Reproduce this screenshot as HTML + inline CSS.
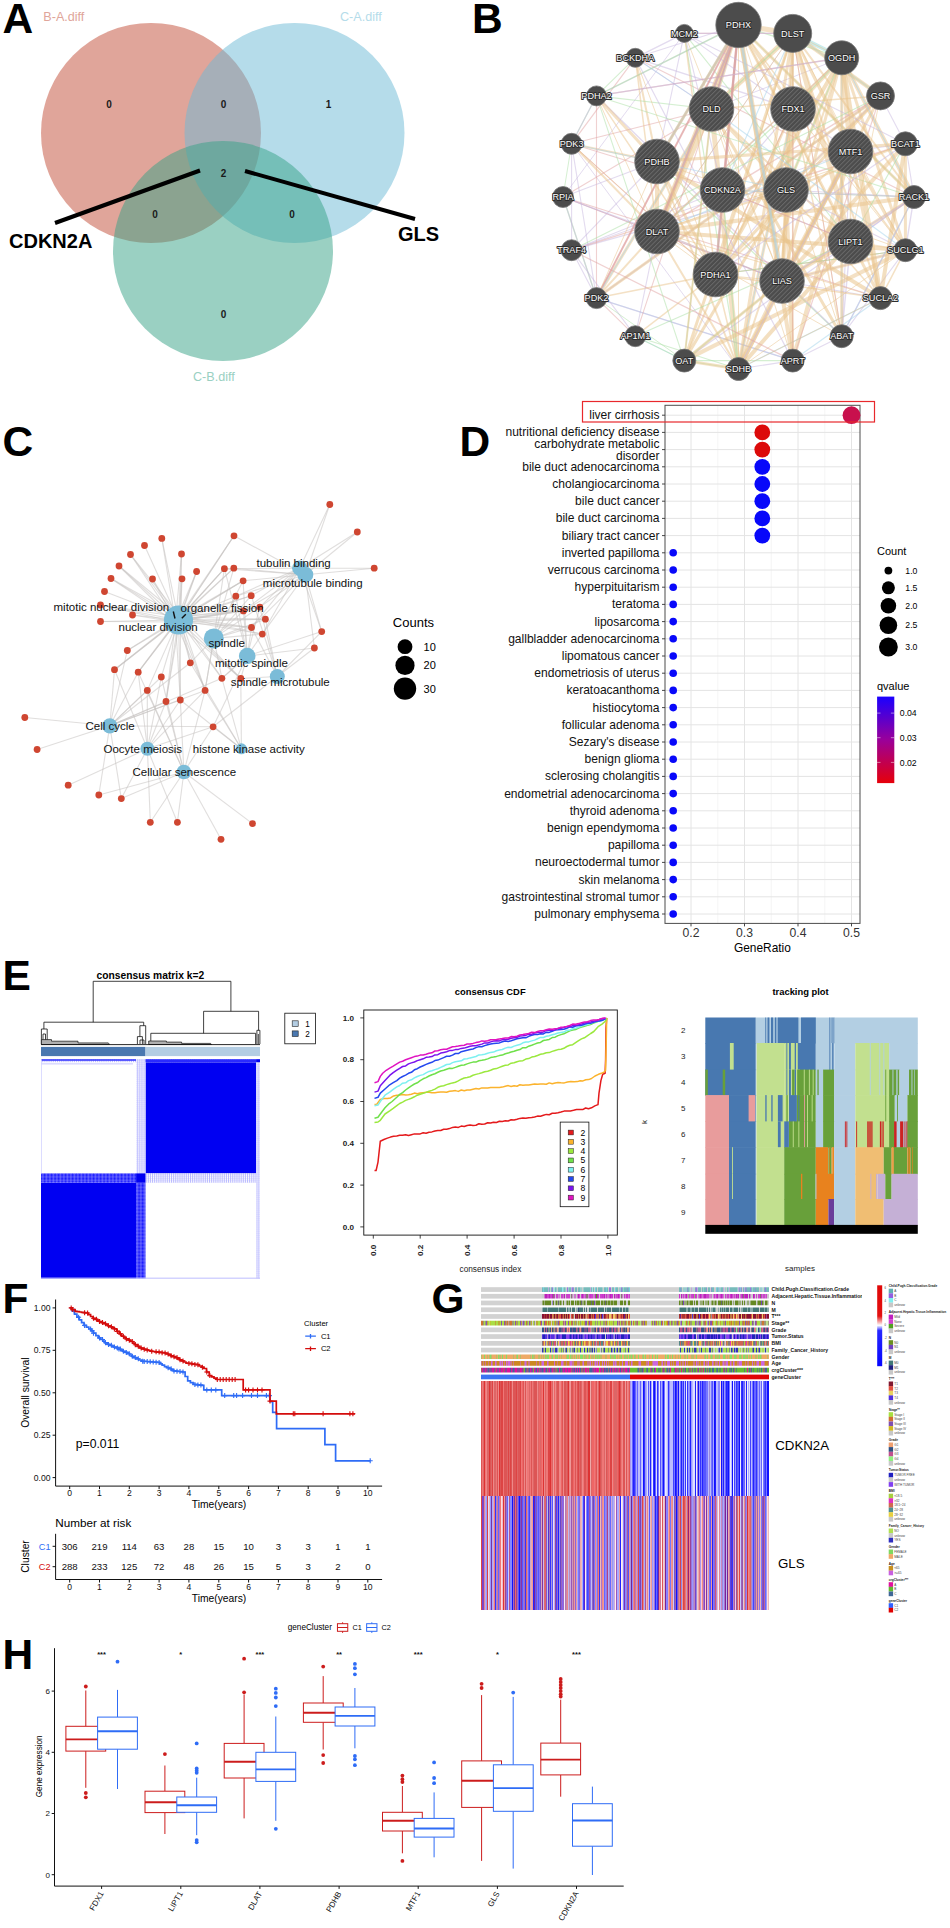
<!DOCTYPE html>
<html><head><meta charset="utf-8"><title>Figure</title>
<style>html,body{margin:0;padding:0;background:#fff}svg{display:block}text{font-family:"Liberation Sans",sans-serif}</style>
</head><body>
<svg width="950" height="1928" viewBox="0 0 950 1928" font-family="Liberation Sans, sans-serif">
<rect width="950" height="1928" fill="#fff"/>
<g id="panel_a"><circle cx="151" cy="133" r="110" fill="#c14b35" fill-opacity="0.5"/>
<circle cx="294.5" cy="133" r="110" fill="#6bb9d5" fill-opacity="0.5"/>
<circle cx="223" cy="251" r="110" fill="#35a185" fill-opacity="0.5"/>
<text x="43.3" y="20.9" font-size="12.6" fill="#e0a59a">B-A.diff</text>
<text x="340" y="20.9" font-size="12.6" fill="#b5dcea">C-A.diff</text>
<text x="193" y="380.5" font-size="12.6" fill="#9ad0c2">C-B.diff</text>
<text x="109" y="107.5" font-size="10" text-anchor="middle" font-weight="bold" fill="#1a1a1a">0</text>
<text x="223.5" y="107.5" font-size="10" text-anchor="middle" font-weight="bold" fill="#1a1a1a">0</text>
<text x="328.5" y="107.5" font-size="10" text-anchor="middle" font-weight="bold" fill="#1a1a1a">1</text>
<text x="223.5" y="176.5" font-size="10" text-anchor="middle" font-weight="bold" fill="#1a1a1a">2</text>
<text x="155" y="218" font-size="10" text-anchor="middle" font-weight="bold" fill="#1a1a1a">0</text>
<text x="292" y="218" font-size="10" text-anchor="middle" font-weight="bold" fill="#1a1a1a">0</text>
<text x="223.5" y="318" font-size="10" text-anchor="middle" font-weight="bold" fill="#1a1a1a">0</text>
<line x1="200" y1="170.5" x2="55" y2="223" stroke="#000" stroke-width="4"/>
<line x1="245" y1="171" x2="415" y2="219" stroke="#000" stroke-width="4"/>
<text x="9" y="247.5" font-size="20" font-weight="bold">CDKN2A</text>
<text x="398" y="241" font-size="20" font-weight="bold">GLS</text></g>
<g id="panel_b"><g stroke-linecap="round">
<line x1="635.3" y1="57.8" x2="914" y2="197" stroke="#e2a4a4" stroke-width="1.2" stroke-opacity="0.5"/>
<line x1="786" y1="190" x2="571.6" y2="250.2" stroke="#c8b8e0" stroke-width="1.2" stroke-opacity="0.5"/>
<line x1="914" y1="197" x2="841.7" y2="57.8" stroke="#e9c48c" stroke-width="4" stroke-opacity="0.5"/>
<line x1="635.3" y1="57.8" x2="571.6" y2="143.8" stroke="#e2a4a4" stroke-width="1.2" stroke-opacity="0.5"/>
<line x1="596.5" y1="298.1" x2="657" y2="231.5" stroke="#e9c48c" stroke-width="2" stroke-opacity="0.5"/>
<line x1="841.7" y1="57.8" x2="711.5" y2="109" stroke="#c8b8e0" stroke-width="1" stroke-opacity="0.5"/>
<line x1="684.3" y1="360.6" x2="793" y2="109" stroke="#e9c48c" stroke-width="2" stroke-opacity="0.5"/>
<line x1="792.7" y1="360.6" x2="850.5" y2="151.5" stroke="#e9c48c" stroke-width="4" stroke-opacity="0.5"/>
<line x1="657" y1="161.5" x2="841.7" y2="336.2" stroke="#a9dfa4" stroke-width="1.2" stroke-opacity="0.5"/>
<line x1="792.7" y1="360.6" x2="786" y2="190" stroke="#e9c48c" stroke-width="4" stroke-opacity="0.5"/>
<line x1="786" y1="190" x2="792.7" y2="33.4" stroke="#e9c48c" stroke-width="4" stroke-opacity="0.5"/>
<line x1="596.5" y1="95.9" x2="738.5" y2="25" stroke="#c8b8e0" stroke-width="1.1" stroke-opacity="0.5"/>
<line x1="850.5" y1="241.5" x2="905.4" y2="250.2" stroke="#e9c48c" stroke-width="1.5" stroke-opacity="0.5"/>
<line x1="711.5" y1="109" x2="782" y2="281" stroke="#e9c48c" stroke-width="1" stroke-opacity="0.5"/>
<line x1="905.4" y1="250.2" x2="841.7" y2="336.2" stroke="#c8b8e0" stroke-width="1.1" stroke-opacity="0.5"/>
<line x1="841.7" y1="336.2" x2="792.7" y2="33.4" stroke="#e9c48c" stroke-width="1" stroke-opacity="0.5"/>
<line x1="793" y1="109" x2="738.5" y2="369" stroke="#e9c48c" stroke-width="3" stroke-opacity="0.5"/>
<line x1="596.5" y1="298.1" x2="880.5" y2="95.9" stroke="#c8b8e0" stroke-width="1.4" stroke-opacity="0.5"/>
<line x1="880.5" y1="95.9" x2="782" y2="281" stroke="#e9c48c" stroke-width="3" stroke-opacity="0.5"/>
<line x1="563" y1="197" x2="596.5" y2="298.1" stroke="#a9dfa4" stroke-width="1.4" stroke-opacity="0.5"/>
<line x1="715.5" y1="274.5" x2="738.5" y2="25" stroke="#e9c48c" stroke-width="1" stroke-opacity="0.5"/>
<line x1="850.5" y1="151.5" x2="571.6" y2="250.2" stroke="#c8b8e0" stroke-width="1" stroke-opacity="0.5"/>
<line x1="635.3" y1="57.8" x2="793" y2="109" stroke="#c8b8e0" stroke-width="1.4" stroke-opacity="0.5"/>
<line x1="841.7" y1="57.8" x2="905.4" y2="250.2" stroke="#e9c48c" stroke-width="3" stroke-opacity="0.5"/>
<line x1="738.5" y1="25" x2="711.5" y2="109" stroke="#e9c48c" stroke-width="4" stroke-opacity="0.55"/>
<line x1="792.7" y1="360.6" x2="596.5" y2="298.1" stroke="#a3d3ec" stroke-width="1.1" stroke-opacity="0.5"/>
<line x1="722.5" y1="190" x2="850.5" y2="241.5" stroke="#c8b8e0" stroke-width="1.1" stroke-opacity="0.5"/>
<line x1="635.3" y1="57.8" x2="657" y2="161.5" stroke="#e9c48c" stroke-width="2" stroke-opacity="0.5"/>
<line x1="914" y1="197" x2="738.5" y2="25" stroke="#a9dfa4" stroke-width="1.2" stroke-opacity="0.5"/>
<line x1="880.5" y1="95.9" x2="786" y2="190" stroke="#e9c48c" stroke-width="3" stroke-opacity="0.5"/>
<line x1="596.5" y1="298.1" x2="792.7" y2="360.6" stroke="#c8b8e0" stroke-width="1.4" stroke-opacity="0.5"/>
<line x1="841.7" y1="57.8" x2="786" y2="190" stroke="#e9c48c" stroke-width="3" stroke-opacity="0.5"/>
<line x1="850.5" y1="241.5" x2="738.5" y2="25" stroke="#e9c48c" stroke-width="1" stroke-opacity="0.5"/>
<line x1="596.5" y1="95.9" x2="841.7" y2="336.2" stroke="#c8b8e0" stroke-width="1.4" stroke-opacity="0.5"/>
<line x1="792.7" y1="33.4" x2="880.5" y2="298.1" stroke="#e9c48c" stroke-width="2" stroke-opacity="0.5"/>
<line x1="684.3" y1="360.6" x2="792.7" y2="33.4" stroke="#e9c48c" stroke-width="3" stroke-opacity="0.55"/>
<line x1="596.5" y1="298.1" x2="880.5" y2="95.9" stroke="#e9c48c" stroke-width="3" stroke-opacity="0.55"/>
<line x1="715.5" y1="274.5" x2="905.4" y2="250.2" stroke="#c8b8e0" stroke-width="1" stroke-opacity="0.5"/>
<line x1="786" y1="190" x2="782" y2="281" stroke="#e9c48c" stroke-width="3" stroke-opacity="0.5"/>
<line x1="738.5" y1="369" x2="792.7" y2="360.6" stroke="#c8b8e0" stroke-width="1.1" stroke-opacity="0.5"/>
<line x1="782" y1="281" x2="657" y2="231.5" stroke="#e9c48c" stroke-width="1" stroke-opacity="0.5"/>
<line x1="782" y1="281" x2="563" y2="197" stroke="#c8b8e0" stroke-width="1.2" stroke-opacity="0.5"/>
<line x1="914" y1="197" x2="657" y2="231.5" stroke="#e9c48c" stroke-width="4" stroke-opacity="0.5"/>
<line x1="571.6" y1="143.8" x2="738.5" y2="369" stroke="#c8b8e0" stroke-width="1" stroke-opacity="0.5"/>
<line x1="841.7" y1="57.8" x2="850.5" y2="151.5" stroke="#e9c48c" stroke-width="5" stroke-opacity="0.5"/>
<line x1="738.5" y1="25" x2="715.5" y2="274.5" stroke="#a8d4ea" stroke-width="1.5" stroke-opacity="0.6"/>
<line x1="914" y1="197" x2="738.5" y2="25" stroke="#e9c48c" stroke-width="3" stroke-opacity="0.5"/>
<line x1="738.5" y1="25" x2="792.7" y2="33.4" stroke="#e9c48c" stroke-width="5" stroke-opacity="0.5"/>
<line x1="792.7" y1="33.4" x2="711.5" y2="109" stroke="#e9c48c" stroke-width="5" stroke-opacity="0.55"/>
<line x1="792.7" y1="360.6" x2="841.7" y2="336.2" stroke="#c8b8e0" stroke-width="1.1" stroke-opacity="0.5"/>
<line x1="782" y1="281" x2="841.7" y2="57.8" stroke="#e9c48c" stroke-width="3" stroke-opacity="0.5"/>
<line x1="657" y1="231.5" x2="792.7" y2="33.4" stroke="#c8b8e0" stroke-width="1" stroke-opacity="0.5"/>
<line x1="738.5" y1="369" x2="793" y2="109" stroke="#a3d3ec" stroke-width="1" stroke-opacity="0.5"/>
<line x1="738.5" y1="25" x2="905.4" y2="250.2" stroke="#e9c48c" stroke-width="1.5" stroke-opacity="0.5"/>
<line x1="841.7" y1="336.2" x2="850.5" y2="151.5" stroke="#c8b8e0" stroke-width="1.1" stroke-opacity="0.5"/>
<line x1="793" y1="109" x2="792.7" y2="33.4" stroke="#c8b8e0" stroke-width="1" stroke-opacity="0.5"/>
<line x1="738.5" y1="25" x2="657" y2="161.5" stroke="#dd9c9c" stroke-width="1.5" stroke-opacity="0.6"/>
<line x1="905.4" y1="143.8" x2="880.5" y2="95.9" stroke="#c8b8e0" stroke-width="1.1" stroke-opacity="0.5"/>
<line x1="657" y1="231.5" x2="905.4" y2="250.2" stroke="#e9c48c" stroke-width="4" stroke-opacity="0.55"/>
<line x1="563" y1="197" x2="684.3" y2="33.4" stroke="#c8b8e0" stroke-width="1" stroke-opacity="0.5"/>
<line x1="684.3" y1="360.6" x2="792.7" y2="360.6" stroke="#a9dfa4" stroke-width="1.1" stroke-opacity="0.5"/>
<line x1="571.6" y1="143.8" x2="715.5" y2="274.5" stroke="#e2a4a4" stroke-width="1.1" stroke-opacity="0.5"/>
<line x1="792.7" y1="33.4" x2="657" y2="231.5" stroke="#e9c48c" stroke-width="1" stroke-opacity="0.5"/>
<line x1="841.7" y1="57.8" x2="715.5" y2="274.5" stroke="#e9c48c" stroke-width="4" stroke-opacity="0.55"/>
<line x1="738.5" y1="25" x2="711.5" y2="109" stroke="#a8d4ea" stroke-width="2" stroke-opacity="0.6"/>
<line x1="850.5" y1="241.5" x2="711.5" y2="109" stroke="#e9c48c" stroke-width="2" stroke-opacity="0.5"/>
<line x1="793" y1="109" x2="715.5" y2="274.5" stroke="#e2a4a4" stroke-width="1.4" stroke-opacity="0.5"/>
<line x1="738.5" y1="369" x2="711.5" y2="109" stroke="#e9c48c" stroke-width="5" stroke-opacity="0.5"/>
<line x1="786" y1="190" x2="841.7" y2="57.8" stroke="#a9dfa4" stroke-width="1.2" stroke-opacity="0.5"/>
<line x1="782" y1="281" x2="850.5" y2="151.5" stroke="#e9c48c" stroke-width="5" stroke-opacity="0.5"/>
<line x1="792.7" y1="33.4" x2="841.7" y2="57.8" stroke="#a8e0e0" stroke-width="4" stroke-opacity="0.6"/>
<line x1="635.3" y1="336.2" x2="684.3" y2="360.6" stroke="#a3d3ec" stroke-width="1" stroke-opacity="0.5"/>
<line x1="715.5" y1="274.5" x2="782" y2="281" stroke="#e9c48c" stroke-width="1" stroke-opacity="0.5"/>
<line x1="914" y1="197" x2="905.4" y2="250.2" stroke="#c8b8e0" stroke-width="1.4" stroke-opacity="0.5"/>
<line x1="880.5" y1="95.9" x2="715.5" y2="274.5" stroke="#e9c48c" stroke-width="3" stroke-opacity="0.55"/>
<line x1="850.5" y1="241.5" x2="738.5" y2="369" stroke="#e9c48c" stroke-width="4" stroke-opacity="0.55"/>
<line x1="914" y1="197" x2="905.4" y2="143.8" stroke="#c8b8e0" stroke-width="1.1" stroke-opacity="0.5"/>
<line x1="657" y1="231.5" x2="880.5" y2="95.9" stroke="#e2a4a4" stroke-width="1.4" stroke-opacity="0.5"/>
<line x1="850.5" y1="241.5" x2="841.7" y2="336.2" stroke="#c8b8e0" stroke-width="1.4" stroke-opacity="0.5"/>
<line x1="793" y1="109" x2="782" y2="281" stroke="#e9c48c" stroke-width="4" stroke-opacity="0.55"/>
<line x1="635.3" y1="57.8" x2="711.5" y2="109" stroke="#a3d3ec" stroke-width="1.1" stroke-opacity="0.5"/>
<line x1="596.5" y1="298.1" x2="711.5" y2="109" stroke="#e9c48c" stroke-width="3" stroke-opacity="0.5"/>
<line x1="596.5" y1="298.1" x2="635.3" y2="336.2" stroke="#e2a4a4" stroke-width="1.1" stroke-opacity="0.5"/>
<line x1="880.5" y1="95.9" x2="850.5" y2="241.5" stroke="#e9c48c" stroke-width="1" stroke-opacity="0.5"/>
<line x1="738.5" y1="369" x2="684.3" y2="33.4" stroke="#a9dfa4" stroke-width="1.2" stroke-opacity="0.5"/>
<line x1="571.6" y1="250.2" x2="905.4" y2="143.8" stroke="#e2a4a4" stroke-width="1.4" stroke-opacity="0.5"/>
<line x1="715.5" y1="274.5" x2="793" y2="109" stroke="#e9c48c" stroke-width="1" stroke-opacity="0.5"/>
<line x1="905.4" y1="250.2" x2="793" y2="109" stroke="#e9c48c" stroke-width="1" stroke-opacity="0.5"/>
<line x1="571.6" y1="250.2" x2="722.5" y2="190" stroke="#c8b8e0" stroke-width="1.1" stroke-opacity="0.5"/>
<line x1="880.5" y1="95.9" x2="786" y2="190" stroke="#c8b8e0" stroke-width="1" stroke-opacity="0.5"/>
<line x1="914" y1="197" x2="684.3" y2="360.6" stroke="#c8b8e0" stroke-width="1.2" stroke-opacity="0.5"/>
<line x1="905.4" y1="143.8" x2="782" y2="281" stroke="#e9c48c" stroke-width="4" stroke-opacity="0.5"/>
<line x1="711.5" y1="109" x2="635.3" y2="57.8" stroke="#c8b8e0" stroke-width="1" stroke-opacity="0.5"/>
<line x1="738.5" y1="25" x2="841.7" y2="57.8" stroke="#a9dfa4" stroke-width="1.4" stroke-opacity="0.5"/>
<line x1="841.7" y1="336.2" x2="792.7" y2="33.4" stroke="#e2a4a4" stroke-width="1" stroke-opacity="0.5"/>
<line x1="782" y1="281" x2="905.4" y2="250.2" stroke="#c8b8e0" stroke-width="1.1" stroke-opacity="0.5"/>
<line x1="657" y1="231.5" x2="793" y2="109" stroke="#a9dfa4" stroke-width="1.2" stroke-opacity="0.5"/>
<line x1="684.3" y1="33.4" x2="635.3" y2="57.8" stroke="#c8b8e0" stroke-width="1.4" stroke-opacity="0.5"/>
<line x1="596.5" y1="95.9" x2="657" y2="161.5" stroke="#e9c48c" stroke-width="3" stroke-opacity="0.5"/>
<line x1="684.3" y1="33.4" x2="792.7" y2="33.4" stroke="#e2a4a4" stroke-width="1.1" stroke-opacity="0.5"/>
<line x1="905.4" y1="250.2" x2="715.5" y2="274.5" stroke="#e9c48c" stroke-width="1" stroke-opacity="0.5"/>
<line x1="596.5" y1="95.9" x2="711.5" y2="109" stroke="#a9dfa4" stroke-width="1.1" stroke-opacity="0.5"/>
<line x1="571.6" y1="143.8" x2="722.5" y2="190" stroke="#e2a4a4" stroke-width="1.1" stroke-opacity="0.5"/>
<line x1="738.5" y1="369" x2="782" y2="281" stroke="#e9c48c" stroke-width="5" stroke-opacity="0.5"/>
<line x1="657" y1="231.5" x2="715.5" y2="274.5" stroke="#e9c48c" stroke-width="1" stroke-opacity="0.5"/>
<line x1="738.5" y1="369" x2="715.5" y2="274.5" stroke="#e9c48c" stroke-width="1.5" stroke-opacity="0.5"/>
<line x1="722.5" y1="190" x2="738.5" y2="369" stroke="#a9dfa4" stroke-width="1.4" stroke-opacity="0.5"/>
<line x1="657" y1="231.5" x2="657" y2="161.5" stroke="#e9c48c" stroke-width="4" stroke-opacity="0.5"/>
<line x1="657" y1="231.5" x2="738.5" y2="369" stroke="#e9c48c" stroke-width="2" stroke-opacity="0.5"/>
<line x1="571.6" y1="143.8" x2="563" y2="197" stroke="#a9dfa4" stroke-width="1" stroke-opacity="0.5"/>
<line x1="635.3" y1="336.2" x2="738.5" y2="369" stroke="#a9dfa4" stroke-width="1.2" stroke-opacity="0.5"/>
<line x1="711.5" y1="109" x2="841.7" y2="336.2" stroke="#e9c48c" stroke-width="3" stroke-opacity="0.55"/>
<line x1="571.6" y1="143.8" x2="711.5" y2="109" stroke="#e2a4a4" stroke-width="1.1" stroke-opacity="0.5"/>
<line x1="880.5" y1="298.1" x2="738.5" y2="25" stroke="#e9c48c" stroke-width="3" stroke-opacity="0.5"/>
<line x1="684.3" y1="33.4" x2="850.5" y2="241.5" stroke="#a9dfa4" stroke-width="1.1" stroke-opacity="0.5"/>
<line x1="880.5" y1="95.9" x2="711.5" y2="109" stroke="#e9c48c" stroke-width="1.5" stroke-opacity="0.5"/>
<line x1="563" y1="197" x2="711.5" y2="109" stroke="#e2a4a4" stroke-width="1.1" stroke-opacity="0.5"/>
<line x1="684.3" y1="360.6" x2="782" y2="281" stroke="#a9dfa4" stroke-width="1.4" stroke-opacity="0.5"/>
<line x1="722.5" y1="190" x2="793" y2="109" stroke="#c8b8e0" stroke-width="1.2" stroke-opacity="0.5"/>
<line x1="792.7" y1="33.4" x2="711.5" y2="109" stroke="#a9dfa4" stroke-width="1.4" stroke-opacity="0.5"/>
<line x1="880.5" y1="298.1" x2="738.5" y2="369" stroke="#a3d3ec" stroke-width="1.2" stroke-opacity="0.5"/>
<line x1="738.5" y1="25" x2="738.5" y2="369" stroke="#e9c48c" stroke-width="1" stroke-opacity="0.5"/>
<line x1="684.3" y1="33.4" x2="782" y2="281" stroke="#e9c48c" stroke-width="1" stroke-opacity="0.5"/>
<line x1="880.5" y1="298.1" x2="657" y2="231.5" stroke="#e9c48c" stroke-width="1" stroke-opacity="0.5"/>
<line x1="571.6" y1="250.2" x2="657" y2="161.5" stroke="#c8b8e0" stroke-width="1.1" stroke-opacity="0.5"/>
<line x1="571.6" y1="143.8" x2="715.5" y2="274.5" stroke="#e9c48c" stroke-width="1" stroke-opacity="0.5"/>
<line x1="786" y1="190" x2="905.4" y2="250.2" stroke="#c8b8e0" stroke-width="1.1" stroke-opacity="0.5"/>
<line x1="841.7" y1="57.8" x2="596.5" y2="95.9" stroke="#e2a4a4" stroke-width="1.4" stroke-opacity="0.5"/>
<line x1="635.3" y1="57.8" x2="738.5" y2="25" stroke="#c8b8e0" stroke-width="1.1" stroke-opacity="0.5"/>
<line x1="880.5" y1="298.1" x2="563" y2="197" stroke="#e2a4a4" stroke-width="1.1" stroke-opacity="0.5"/>
<line x1="738.5" y1="25" x2="715.5" y2="274.5" stroke="#dd9c9c" stroke-width="2.5" stroke-opacity="0.6"/>
<line x1="738.5" y1="25" x2="596.5" y2="298.1" stroke="#dd9c9c" stroke-width="2" stroke-opacity="0.6"/>
<line x1="905.4" y1="250.2" x2="792.7" y2="33.4" stroke="#e9c48c" stroke-width="1" stroke-opacity="0.5"/>
<line x1="841.7" y1="57.8" x2="914" y2="197" stroke="#a3d3ec" stroke-width="1.1" stroke-opacity="0.5"/>
<line x1="792.7" y1="33.4" x2="841.7" y2="57.8" stroke="#e9c48c" stroke-width="1" stroke-opacity="0.5"/>
<line x1="914" y1="197" x2="786" y2="190" stroke="#c8b8e0" stroke-width="1.1" stroke-opacity="0.5"/>
<line x1="914" y1="197" x2="841.7" y2="336.2" stroke="#a3d3ec" stroke-width="1.4" stroke-opacity="0.5"/>
<line x1="657" y1="231.5" x2="786" y2="190" stroke="#e9c48c" stroke-width="2" stroke-opacity="0.5"/>
<line x1="738.5" y1="25" x2="722.5" y2="190" stroke="#dd9c9c" stroke-width="2" stroke-opacity="0.6"/>
<line x1="684.3" y1="33.4" x2="657" y2="161.5" stroke="#c8b8e0" stroke-width="1.1" stroke-opacity="0.5"/>
<line x1="914" y1="197" x2="782" y2="281" stroke="#e9c48c" stroke-width="3" stroke-opacity="0.5"/>
<line x1="563" y1="197" x2="782" y2="281" stroke="#e2a4a4" stroke-width="1" stroke-opacity="0.5"/>
<line x1="571.6" y1="250.2" x2="596.5" y2="298.1" stroke="#c8b8e0" stroke-width="1.1" stroke-opacity="0.5"/>
<line x1="793" y1="109" x2="841.7" y2="57.8" stroke="#e9c48c" stroke-width="4" stroke-opacity="0.5"/>
<line x1="880.5" y1="298.1" x2="792.7" y2="360.6" stroke="#a3d3ec" stroke-width="1.2" stroke-opacity="0.5"/>
<line x1="684.3" y1="33.4" x2="715.5" y2="274.5" stroke="#e9c48c" stroke-width="1.5" stroke-opacity="0.5"/>
<line x1="792.7" y1="33.4" x2="715.5" y2="274.5" stroke="#e9c48c" stroke-width="1.5" stroke-opacity="0.5"/>
<line x1="715.5" y1="274.5" x2="850.5" y2="151.5" stroke="#e9c48c" stroke-width="2" stroke-opacity="0.5"/>
<line x1="905.4" y1="143.8" x2="850.5" y2="151.5" stroke="#c8b8e0" stroke-width="1.1" stroke-opacity="0.5"/>
<line x1="722.5" y1="190" x2="914" y2="197" stroke="#a9dfa4" stroke-width="1" stroke-opacity="0.5"/>
<line x1="738.5" y1="25" x2="657" y2="231.5" stroke="#e9c48c" stroke-width="5" stroke-opacity="0.55"/>
<line x1="880.5" y1="298.1" x2="782" y2="281" stroke="#c8b8e0" stroke-width="1" stroke-opacity="0.5"/>
<line x1="563" y1="197" x2="596.5" y2="298.1" stroke="#c8b8e0" stroke-width="1.1" stroke-opacity="0.5"/>
<line x1="786" y1="190" x2="880.5" y2="298.1" stroke="#e9c48c" stroke-width="1.5" stroke-opacity="0.5"/>
<line x1="684.3" y1="33.4" x2="850.5" y2="151.5" stroke="#c8b8e0" stroke-width="1.1" stroke-opacity="0.5"/>
<line x1="792.7" y1="360.6" x2="792.7" y2="33.4" stroke="#e9c48c" stroke-width="1.5" stroke-opacity="0.5"/>
<line x1="792.7" y1="360.6" x2="880.5" y2="95.9" stroke="#e2a4a4" stroke-width="1.2" stroke-opacity="0.5"/>
<line x1="905.4" y1="250.2" x2="738.5" y2="369" stroke="#e9c48c" stroke-width="1" stroke-opacity="0.5"/>
<line x1="684.3" y1="360.6" x2="905.4" y2="250.2" stroke="#e9c48c" stroke-width="4" stroke-opacity="0.5"/>
<line x1="571.6" y1="143.8" x2="596.5" y2="298.1" stroke="#c8b8e0" stroke-width="1.1" stroke-opacity="0.5"/>
<line x1="657" y1="161.5" x2="880.5" y2="298.1" stroke="#e9c48c" stroke-width="4" stroke-opacity="0.55"/>
<line x1="841.7" y1="336.2" x2="738.5" y2="25" stroke="#e9c48c" stroke-width="1" stroke-opacity="0.5"/>
<line x1="914" y1="197" x2="850.5" y2="241.5" stroke="#c8b8e0" stroke-width="1.1" stroke-opacity="0.5"/>
<line x1="571.6" y1="143.8" x2="657" y2="161.5" stroke="#e9c48c" stroke-width="2" stroke-opacity="0.5"/>
<line x1="792.7" y1="360.6" x2="711.5" y2="109" stroke="#e9c48c" stroke-width="1" stroke-opacity="0.5"/>
<line x1="635.3" y1="336.2" x2="850.5" y2="241.5" stroke="#a9dfa4" stroke-width="1.2" stroke-opacity="0.5"/>
<line x1="596.5" y1="95.9" x2="596.5" y2="298.1" stroke="#e2a4a4" stroke-width="1.1" stroke-opacity="0.5"/>
<line x1="782" y1="281" x2="738.5" y2="25" stroke="#e9c48c" stroke-width="5" stroke-opacity="0.5"/>
<line x1="635.3" y1="336.2" x2="715.5" y2="274.5" stroke="#e9c48c" stroke-width="1.5" stroke-opacity="0.5"/>
<line x1="738.5" y1="369" x2="850.5" y2="151.5" stroke="#e9c48c" stroke-width="4" stroke-opacity="0.5"/>
<line x1="792.7" y1="33.4" x2="782" y2="281" stroke="#e9c48c" stroke-width="1" stroke-opacity="0.5"/>
<line x1="792.7" y1="33.4" x2="880.5" y2="95.9" stroke="#a8e0e0" stroke-width="2" stroke-opacity="0.6"/>
<line x1="635.3" y1="57.8" x2="792.7" y2="360.6" stroke="#c8b8e0" stroke-width="1.2" stroke-opacity="0.5"/>
<line x1="841.7" y1="57.8" x2="657" y2="231.5" stroke="#c8b8e0" stroke-width="1.1" stroke-opacity="0.5"/>
<line x1="841.7" y1="336.2" x2="841.7" y2="57.8" stroke="#a3d3ec" stroke-width="1.1" stroke-opacity="0.5"/>
<line x1="722.5" y1="190" x2="850.5" y2="241.5" stroke="#e2a4a4" stroke-width="1.2" stroke-opacity="0.5"/>
<line x1="841.7" y1="336.2" x2="657" y2="231.5" stroke="#e9c48c" stroke-width="1" stroke-opacity="0.5"/>
<line x1="738.5" y1="369" x2="841.7" y2="57.8" stroke="#e9c48c" stroke-width="2" stroke-opacity="0.5"/>
<line x1="792.7" y1="33.4" x2="850.5" y2="241.5" stroke="#e9c48c" stroke-width="5" stroke-opacity="0.5"/>
<line x1="786" y1="190" x2="711.5" y2="109" stroke="#e9c48c" stroke-width="3" stroke-opacity="0.5"/>
<line x1="738.5" y1="369" x2="657" y2="161.5" stroke="#e9c48c" stroke-width="2" stroke-opacity="0.5"/>
<line x1="914" y1="197" x2="792.7" y2="33.4" stroke="#e9c48c" stroke-width="2" stroke-opacity="0.5"/>
<line x1="841.7" y1="57.8" x2="793" y2="109" stroke="#a9dfa4" stroke-width="1.1" stroke-opacity="0.5"/>
<line x1="841.7" y1="336.2" x2="841.7" y2="57.8" stroke="#e9c48c" stroke-width="3" stroke-opacity="0.5"/>
<line x1="782" y1="281" x2="657" y2="231.5" stroke="#c8b8e0" stroke-width="1.2" stroke-opacity="0.5"/>
<line x1="684.3" y1="33.4" x2="905.4" y2="143.8" stroke="#c8b8e0" stroke-width="1.1" stroke-opacity="0.5"/>
<line x1="684.3" y1="33.4" x2="792.7" y2="33.4" stroke="#c8b8e0" stroke-width="1.1" stroke-opacity="0.5"/>
<line x1="905.4" y1="143.8" x2="880.5" y2="298.1" stroke="#e9c48c" stroke-width="4" stroke-opacity="0.55"/>
<line x1="571.6" y1="250.2" x2="880.5" y2="95.9" stroke="#a9dfa4" stroke-width="1.1" stroke-opacity="0.5"/>
<line x1="596.5" y1="298.1" x2="711.5" y2="109" stroke="#a3d3ec" stroke-width="1.1" stroke-opacity="0.5"/>
<line x1="782" y1="281" x2="905.4" y2="250.2" stroke="#e9c48c" stroke-width="3" stroke-opacity="0.5"/>
<line x1="792.7" y1="33.4" x2="738.5" y2="369" stroke="#e9c48c" stroke-width="3" stroke-opacity="0.5"/>
<line x1="914" y1="197" x2="596.5" y2="95.9" stroke="#a9dfa4" stroke-width="1.1" stroke-opacity="0.5"/>
<line x1="596.5" y1="298.1" x2="715.5" y2="274.5" stroke="#e9c48c" stroke-width="1.5" stroke-opacity="0.5"/>
<line x1="596.5" y1="95.9" x2="738.5" y2="25" stroke="#a9dfa4" stroke-width="1.4" stroke-opacity="0.5"/>
<line x1="596.5" y1="95.9" x2="571.6" y2="143.8" stroke="#a9dfa4" stroke-width="1.1" stroke-opacity="0.5"/>
<line x1="596.5" y1="298.1" x2="657" y2="161.5" stroke="#e9c48c" stroke-width="1" stroke-opacity="0.5"/>
<line x1="850.5" y1="241.5" x2="905.4" y2="143.8" stroke="#a9dfa4" stroke-width="1.2" stroke-opacity="0.5"/>
<line x1="711.5" y1="109" x2="684.3" y2="360.6" stroke="#a9dfa4" stroke-width="1.2" stroke-opacity="0.5"/>
<line x1="905.4" y1="250.2" x2="715.5" y2="274.5" stroke="#a9dfa4" stroke-width="1" stroke-opacity="0.5"/>
<line x1="563" y1="197" x2="657" y2="231.5" stroke="#c8b8e0" stroke-width="1.1" stroke-opacity="0.5"/>
<line x1="596.5" y1="95.9" x2="635.3" y2="57.8" stroke="#a9dfa4" stroke-width="1.1" stroke-opacity="0.5"/>
<line x1="792.7" y1="33.4" x2="850.5" y2="151.5" stroke="#e9c48c" stroke-width="3" stroke-opacity="0.5"/>
<line x1="738.5" y1="25" x2="657" y2="161.5" stroke="#a8d4ea" stroke-width="2.5" stroke-opacity="0.6"/>
<line x1="635.3" y1="57.8" x2="657" y2="231.5" stroke="#e9c48c" stroke-width="1.5" stroke-opacity="0.5"/>
<line x1="657" y1="231.5" x2="841.7" y2="57.8" stroke="#e9c48c" stroke-width="1.5" stroke-opacity="0.5"/>
<line x1="684.3" y1="360.6" x2="738.5" y2="369" stroke="#a9dfa4" stroke-width="1.1" stroke-opacity="0.5"/>
<line x1="905.4" y1="250.2" x2="880.5" y2="298.1" stroke="#e9c48c" stroke-width="1.5" stroke-opacity="0.5"/>
<line x1="684.3" y1="360.6" x2="738.5" y2="369" stroke="#e9c48c" stroke-width="3" stroke-opacity="0.5"/>
<line x1="635.3" y1="336.2" x2="738.5" y2="25" stroke="#e2a4a4" stroke-width="1.1" stroke-opacity="0.5"/>
<line x1="684.3" y1="360.6" x2="786" y2="190" stroke="#e9c48c" stroke-width="3" stroke-opacity="0.55"/>
<line x1="850.5" y1="151.5" x2="738.5" y2="369" stroke="#c8b8e0" stroke-width="1.1" stroke-opacity="0.5"/>
<line x1="905.4" y1="250.2" x2="711.5" y2="109" stroke="#a3d3ec" stroke-width="1.1" stroke-opacity="0.5"/>
<line x1="880.5" y1="95.9" x2="792.7" y2="33.4" stroke="#e9c48c" stroke-width="4" stroke-opacity="0.5"/>
<line x1="571.6" y1="143.8" x2="571.6" y2="250.2" stroke="#c8b8e0" stroke-width="1.1" stroke-opacity="0.5"/>
<line x1="657" y1="231.5" x2="635.3" y2="336.2" stroke="#c8b8e0" stroke-width="1.1" stroke-opacity="0.5"/>
<line x1="905.4" y1="250.2" x2="850.5" y2="151.5" stroke="#e9c48c" stroke-width="3" stroke-opacity="0.5"/>
<line x1="905.4" y1="143.8" x2="657" y2="231.5" stroke="#e9c48c" stroke-width="1" stroke-opacity="0.5"/>
<line x1="738.5" y1="25" x2="657" y2="231.5" stroke="#a8d4ea" stroke-width="1.5" stroke-opacity="0.6"/>
<line x1="563" y1="197" x2="657" y2="161.5" stroke="#c8b8e0" stroke-width="1.1" stroke-opacity="0.5"/>
<line x1="738.5" y1="25" x2="711.5" y2="109" stroke="#dd9c9c" stroke-width="1.5" stroke-opacity="0.6"/>
<line x1="596.5" y1="95.9" x2="715.5" y2="274.5" stroke="#e9c48c" stroke-width="1.5" stroke-opacity="0.5"/>
<line x1="905.4" y1="143.8" x2="786" y2="190" stroke="#e9c48c" stroke-width="2" stroke-opacity="0.5"/>
<line x1="571.6" y1="143.8" x2="657" y2="231.5" stroke="#e9c48c" stroke-width="2" stroke-opacity="0.5"/>
<line x1="635.3" y1="57.8" x2="715.5" y2="274.5" stroke="#e9c48c" stroke-width="1" stroke-opacity="0.5"/>
<line x1="914" y1="197" x2="841.7" y2="336.2" stroke="#c8b8e0" stroke-width="1.2" stroke-opacity="0.5"/>
<line x1="571.6" y1="143.8" x2="596.5" y2="95.9" stroke="#c8b8e0" stroke-width="1.2" stroke-opacity="0.5"/>
<line x1="841.7" y1="57.8" x2="880.5" y2="298.1" stroke="#e9c48c" stroke-width="5" stroke-opacity="0.55"/>
<line x1="792.7" y1="360.6" x2="571.6" y2="250.2" stroke="#e2a4a4" stroke-width="1.2" stroke-opacity="0.5"/>
<line x1="571.6" y1="250.2" x2="635.3" y2="336.2" stroke="#c8b8e0" stroke-width="1.1" stroke-opacity="0.5"/>
<line x1="792.7" y1="33.4" x2="793" y2="109" stroke="#e9c48c" stroke-width="2" stroke-opacity="0.5"/>
<line x1="722.5" y1="190" x2="792.7" y2="33.4" stroke="#a3d3ec" stroke-width="1.1" stroke-opacity="0.5"/>
<line x1="841.7" y1="57.8" x2="596.5" y2="95.9" stroke="#c8b8e0" stroke-width="1.2" stroke-opacity="0.5"/>
<line x1="850.5" y1="151.5" x2="657" y2="231.5" stroke="#a3d3ec" stroke-width="1.2" stroke-opacity="0.5"/>
<line x1="657" y1="231.5" x2="711.5" y2="109" stroke="#e9c48c" stroke-width="5" stroke-opacity="0.55"/>
<line x1="850.5" y1="151.5" x2="880.5" y2="298.1" stroke="#e9c48c" stroke-width="3" stroke-opacity="0.5"/>
<line x1="684.3" y1="360.6" x2="635.3" y2="336.2" stroke="#a9dfa4" stroke-width="1.1" stroke-opacity="0.5"/>
<line x1="715.5" y1="274.5" x2="905.4" y2="143.8" stroke="#c8b8e0" stroke-width="1.2" stroke-opacity="0.5"/>
<line x1="684.3" y1="33.4" x2="722.5" y2="190" stroke="#c8b8e0" stroke-width="1.1" stroke-opacity="0.5"/>
<line x1="715.5" y1="274.5" x2="880.5" y2="298.1" stroke="#e9c48c" stroke-width="1.5" stroke-opacity="0.5"/>
<line x1="684.3" y1="360.6" x2="711.5" y2="109" stroke="#e9c48c" stroke-width="2" stroke-opacity="0.5"/>
<line x1="596.5" y1="298.1" x2="684.3" y2="360.6" stroke="#a9dfa4" stroke-width="1" stroke-opacity="0.5"/>
<line x1="841.7" y1="336.2" x2="793" y2="109" stroke="#e9c48c" stroke-width="1.5" stroke-opacity="0.5"/>
<line x1="905.4" y1="143.8" x2="905.4" y2="250.2" stroke="#e9c48c" stroke-width="3" stroke-opacity="0.5"/>
<line x1="596.5" y1="95.9" x2="657" y2="231.5" stroke="#e9c48c" stroke-width="1" stroke-opacity="0.5"/>
<line x1="596.5" y1="298.1" x2="738.5" y2="25" stroke="#e2a4a4" stroke-width="1.1" stroke-opacity="0.5"/>
<line x1="715.5" y1="274.5" x2="786" y2="190" stroke="#c8b8e0" stroke-width="1.1" stroke-opacity="0.5"/>
<line x1="905.4" y1="143.8" x2="657" y2="161.5" stroke="#e9c48c" stroke-width="3" stroke-opacity="0.5"/>
<line x1="738.5" y1="25" x2="657" y2="231.5" stroke="#dd9c9c" stroke-width="2.5" stroke-opacity="0.6"/>
<line x1="850.5" y1="241.5" x2="782" y2="281" stroke="#e9c48c" stroke-width="3" stroke-opacity="0.5"/>
<line x1="738.5" y1="369" x2="880.5" y2="298.1" stroke="#e9c48c" stroke-width="1" stroke-opacity="0.5"/>
<line x1="850.5" y1="241.5" x2="850.5" y2="151.5" stroke="#e9c48c" stroke-width="1.5" stroke-opacity="0.5"/>
<line x1="793" y1="109" x2="738.5" y2="25" stroke="#e9c48c" stroke-width="3" stroke-opacity="0.5"/>
<line x1="914" y1="197" x2="722.5" y2="190" stroke="#c8b8e0" stroke-width="1.1" stroke-opacity="0.5"/>
<line x1="596.5" y1="95.9" x2="684.3" y2="360.6" stroke="#a9dfa4" stroke-width="1.1" stroke-opacity="0.5"/>
<line x1="786" y1="190" x2="571.6" y2="143.8" stroke="#a3d3ec" stroke-width="1" stroke-opacity="0.5"/>
<line x1="657" y1="161.5" x2="715.5" y2="274.5" stroke="#e9c48c" stroke-width="3" stroke-opacity="0.5"/>
<line x1="914" y1="197" x2="782" y2="281" stroke="#c8b8e0" stroke-width="1.4" stroke-opacity="0.5"/>
<line x1="792.7" y1="360.6" x2="738.5" y2="25" stroke="#e9c48c" stroke-width="4" stroke-opacity="0.5"/>
<line x1="657" y1="161.5" x2="738.5" y2="25" stroke="#e9c48c" stroke-width="3" stroke-opacity="0.5"/>
<line x1="793" y1="109" x2="792.7" y2="360.6" stroke="#e2a4a4" stroke-width="1.1" stroke-opacity="0.5"/>
<line x1="684.3" y1="360.6" x2="782" y2="281" stroke="#e9c48c" stroke-width="3" stroke-opacity="0.5"/>
<line x1="738.5" y1="25" x2="782" y2="281" stroke="#a8d4ea" stroke-width="2.5" stroke-opacity="0.6"/>
<line x1="657" y1="161.5" x2="905.4" y2="250.2" stroke="#e9c48c" stroke-width="1" stroke-opacity="0.5"/>
</g>
<defs><pattern id="hatch" width="3.2" height="3.2" patternUnits="userSpaceOnUse" patternTransform="rotate(-45)"><rect width="3.2" height="3.2" fill="#4c4c4c"/><rect width="3.2" height="0.9" fill="#6b6b6b"/></pattern></defs>
<circle cx="738.5" cy="25" r="22.7" fill="#4c4c4c" stroke="#777" stroke-width="0.8"/>
<circle cx="792.7" cy="33.4" r="19" fill="#4c4c4c" stroke="#777" stroke-width="0.8"/>
<circle cx="841.7" cy="57.8" r="17" fill="#4c4c4c" stroke="#777" stroke-width="0.8"/>
<circle cx="880.5" cy="95.9" r="14" fill="#4c4c4c" stroke="#777" stroke-width="0.8"/>
<circle cx="905.4" cy="143.8" r="12" fill="#4c4c4c" stroke="#777" stroke-width="0.8"/>
<circle cx="914" cy="197" r="11.5" fill="#4c4c4c" stroke="#777" stroke-width="0.8"/>
<circle cx="905.4" cy="250.2" r="11.5" fill="#4c4c4c" stroke="#777" stroke-width="0.8"/>
<circle cx="880.5" cy="298.1" r="11.5" fill="#4c4c4c" stroke="#777" stroke-width="0.8"/>
<circle cx="841.7" cy="336.2" r="11.5" fill="#4c4c4c" stroke="#777" stroke-width="0.8"/>
<circle cx="792.7" cy="360.6" r="11.5" fill="#4c4c4c" stroke="#777" stroke-width="0.8"/>
<circle cx="738.5" cy="369" r="11.5" fill="#4c4c4c" stroke="#777" stroke-width="0.8"/>
<circle cx="684.3" cy="360.6" r="11.5" fill="#4c4c4c" stroke="#777" stroke-width="0.8"/>
<circle cx="635.3" cy="336.2" r="10.5" fill="#4c4c4c" stroke="#777" stroke-width="0.8"/>
<circle cx="596.5" cy="298.1" r="10.5" fill="#4c4c4c" stroke="#777" stroke-width="0.8"/>
<circle cx="571.6" cy="250.2" r="10.5" fill="#4c4c4c" stroke="#777" stroke-width="0.8"/>
<circle cx="563" cy="197" r="10.5" fill="#4c4c4c" stroke="#777" stroke-width="0.8"/>
<circle cx="571.6" cy="143.8" r="10.5" fill="#4c4c4c" stroke="#777" stroke-width="0.8"/>
<circle cx="596.5" cy="95.9" r="10" fill="#4c4c4c" stroke="#777" stroke-width="0.8"/>
<circle cx="635.3" cy="57.8" r="9.5" fill="#4c4c4c" stroke="#777" stroke-width="0.8"/>
<circle cx="684.3" cy="33.4" r="9" fill="#4c4c4c" stroke="#777" stroke-width="0.8"/>
<circle cx="711.5" cy="109" r="22.3" fill="url(#hatch)" stroke="#777" stroke-width="0.8"/>
<circle cx="793" cy="109" r="22.3" fill="url(#hatch)" stroke="#777" stroke-width="0.8"/>
<circle cx="850.5" cy="151.5" r="22.3" fill="url(#hatch)" stroke="#777" stroke-width="0.8"/>
<circle cx="657" cy="161.5" r="22.3" fill="url(#hatch)" stroke="#777" stroke-width="0.8"/>
<circle cx="722.5" cy="190" r="22.3" fill="url(#hatch)" stroke="#777" stroke-width="0.8"/>
<circle cx="786" cy="190" r="22.3" fill="url(#hatch)" stroke="#777" stroke-width="0.8"/>
<circle cx="657" cy="231.5" r="22.3" fill="url(#hatch)" stroke="#777" stroke-width="0.8"/>
<circle cx="850.5" cy="241.5" r="22.3" fill="url(#hatch)" stroke="#777" stroke-width="0.8"/>
<circle cx="715.5" cy="274.5" r="22.3" fill="url(#hatch)" stroke="#777" stroke-width="0.8"/>
<circle cx="782" cy="281" r="22.3" fill="url(#hatch)" stroke="#777" stroke-width="0.8"/>
<g font-size="9.1" text-anchor="middle" fill="#fff" stroke="#2e2e2e" stroke-width="1.9" paint-order="stroke" stroke-linejoin="round">
<text x="738.5" y="28.2">PDHX</text>
<text x="792.7" y="36.6">DLST</text>
<text x="841.7" y="61">OGDH</text>
<text x="880.5" y="99.1">GSR</text>
<text x="905.4" y="147">BCAT1</text>
<text x="914" y="200.2">RACK1</text>
<text x="905.4" y="253.4">SUCLG1</text>
<text x="880.5" y="301.3">SUCLA2</text>
<text x="841.7" y="339.4">ABAT</text>
<text x="792.7" y="363.8">APRT</text>
<text x="738.5" y="372.2">SDHB</text>
<text x="684.3" y="363.8">OAT</text>
<text x="635.3" y="339.4">AP1M1</text>
<text x="596.5" y="301.3">PDK2</text>
<text x="571.6" y="253.4">TRAF4</text>
<text x="563" y="200.2">RPIA</text>
<text x="571.6" y="147">PDK3</text>
<text x="596.5" y="99.1">PDHA2</text>
<text x="635.3" y="61">BCKDHA</text>
<text x="684.3" y="36.6">MCM2</text>
<text x="711.5" y="112.2">DLD</text>
<text x="793" y="112.2">FDX1</text>
<text x="850.5" y="154.7">MTF1</text>
<text x="657" y="164.7">PDHB</text>
<text x="722.5" y="193.2">CDKN2A</text>
<text x="786" y="193.2">GLS</text>
<text x="657" y="234.7">DLAT</text>
<text x="850.5" y="244.7">LIPT1</text>
<text x="715.5" y="277.7">PDHA1</text>
<text x="782" y="284.2">LIAS</text>
</g></g>
<g id="panel_c"><g stroke="#c6c3c1" stroke-width="1.1" stroke-opacity="0.55">
<path d="M178.5 620L234 535.8"/>
<path d="M180.5 617L234 535.8"/>
<path d="M175.5 622L234 535.8"/>
<path d="M178.5 620L161.8 538.4"/>
<path d="M175.5 622L161.8 538.4"/>
<path d="M178.5 620L181.5 554"/>
<path d="M180.5 617L181.5 554"/>
<path d="M175.5 622L181.5 554"/>
<path d="M178.5 620L196.6 571.5"/>
<path d="M180.5 617L196.6 571.5"/>
<path d="M175.5 622L196.6 571.5"/>
<path d="M178.5 620L182 578.8"/>
<path d="M180.5 617L182 578.8"/>
<path d="M178.5 620L224.4 568.7"/>
<path d="M180.5 617L224.4 568.7"/>
<path d="M175.5 622L224.4 568.7"/>
<path d="M178.5 620L233.8 568.2"/>
<path d="M180.5 617L233.8 568.2"/>
<path d="M178.5 620L243.1 580.8"/>
<path d="M180.5 617L243.1 580.8"/>
<path d="M175.5 622L243.1 580.8"/>
<path d="M178.5 620L235.8 596.2"/>
<path d="M178.5 620L251.2 595.7"/>
<path d="M180.5 617L251.2 595.7"/>
<path d="M178.5 620L259.8 607.1"/>
<path d="M180.5 617L259.8 607.1"/>
<path d="M175.5 622L259.8 607.1"/>
<path d="M178.5 620L243.4 610.9"/>
<path d="M180.5 617L243.4 610.9"/>
<path d="M175.5 622L243.4 610.9"/>
<path d="M178.5 620L265.4 619.2"/>
<path d="M180.5 617L265.4 619.2"/>
<path d="M175.5 622L265.4 619.2"/>
<path d="M178.5 620L251.5 627.5"/>
<path d="M180.5 617L251.5 627.5"/>
<path d="M175.5 622L251.5 627.5"/>
<path d="M178.5 620L262.3 634.1"/>
<path d="M180.5 617L262.3 634.1"/>
<path d="M178.5 620L190.3 662.8"/>
<path d="M180.5 617L190.3 662.8"/>
<path d="M178.5 620L221.9 678.3"/>
<path d="M180.5 617L221.9 678.3"/>
<path d="M178.5 620L240.8 678.5"/>
<path d="M180.5 617L240.8 678.5"/>
<path d="M175.5 622L240.8 678.5"/>
<path d="M178.5 620L161.3 677"/>
<path d="M178.5 620L144.5 545.5"/>
<path d="M178.5 620L130.5 554.5"/>
<path d="M180.5 617L130.5 554.5"/>
<path d="M175.5 622L130.5 554.5"/>
<path d="M178.5 620L119 566"/>
<path d="M180.5 617L119 566"/>
<path d="M175.5 622L119 566"/>
<path d="M178.5 620L111 578.5"/>
<path d="M180.5 617L111 578.5"/>
<path d="M175.5 622L111 578.5"/>
<path d="M178.5 620L152.5 579"/>
<path d="M175.5 622L152.5 579"/>
<path d="M178.5 620L104.5 591.5"/>
<path d="M178.5 620L100.5 605"/>
<path d="M180.5 617L100.5 605"/>
<path d="M175.5 622L100.5 605"/>
<path d="M178.5 620L132.5 615"/>
<path d="M175.5 622L132.5 615"/>
<path d="M178.5 620L100.5 621.5"/>
<path d="M175.5 622L100.5 621.5"/>
<path d="M178.5 620L127.3 650.5"/>
<path d="M180.5 617L127.3 650.5"/>
<path d="M178.5 620L114.5 669.7"/>
<path d="M180.5 617L114.5 669.7"/>
<path d="M175.5 622L114.5 669.7"/>
<path d="M178.5 620L138.2 672.2"/>
<path d="M180.5 617L138.2 672.2"/>
<path d="M175.5 622L138.2 672.2"/>
<path d="M178.5 620L147.3 690.4"/>
<path d="M178.5 620L205.1 690.4"/>
<path d="M180.5 617L205.1 690.4"/>
<path d="M175.5 622L205.1 690.4"/>
<path d="M178.5 620L166 701.5"/>
<path d="M180.5 617L166 701.5"/>
<path d="M175.5 622L166 701.5"/>
<path d="M178.5 620L180.3 700"/>
<path d="M180.5 617L180.3 700"/>
<path d="M175.5 622L180.3 700"/>
<path d="M213.8 638.4L224.4 568.7"/>
<path d="M213.8 638.4L233.8 568.2"/>
<path d="M213.8 638.4L243.1 580.8"/>
<path d="M213.8 638.4L235.8 596.2"/>
<path d="M213.8 638.4L251.2 595.7"/>
<path d="M213.8 638.4L259.8 607.1"/>
<path d="M213.8 638.4L243.4 610.9"/>
<path d="M213.8 638.4L265.4 619.2"/>
<path d="M213.8 638.4L251.5 627.5"/>
<path d="M213.8 638.4L262.3 634.1"/>
<path d="M213.8 638.4L221.9 678.3"/>
<path d="M213.8 638.4L205.1 690.4"/>
<path d="M247.2 656L224.4 568.7"/>
<path d="M247.2 656L243.1 580.8"/>
<path d="M247.2 656L235.8 596.2"/>
<path d="M247.2 656L259.8 607.1"/>
<path d="M247.2 656L243.4 610.9"/>
<path d="M247.2 656L251.5 627.5"/>
<path d="M247.2 656L262.3 634.1"/>
<path d="M247.2 656L321.7 631.6"/>
<path d="M247.2 656L314.4 648"/>
<path d="M247.2 656L221.9 678.3"/>
<path d="M247.2 656L240.8 678.5"/>
<path d="M277.3 676.5L251.2 595.7"/>
<path d="M277.3 676.5L259.8 607.1"/>
<path d="M277.3 676.5L265.4 619.2"/>
<path d="M277.3 676.5L251.5 627.5"/>
<path d="M277.3 676.5L321.7 631.6"/>
<path d="M277.3 676.5L314.4 648"/>
<path d="M299.7 568.2L329.8 504.5"/>
<path d="M299.7 568.2L357.3 532"/>
<path d="M299.7 568.2L374.2 568.2"/>
<path d="M299.7 568.2L224.4 568.7"/>
<path d="M299.7 568.2L235.8 596.2"/>
<path d="M299.7 568.2L251.2 595.7"/>
<path d="M299.7 568.2L259.8 607.1"/>
<path d="M299.7 568.2L243.4 610.9"/>
<path d="M299.7 568.2L251.5 627.5"/>
<path d="M299.7 568.2L262.3 634.1"/>
<path d="M299.7 568.2L321.7 631.6"/>
<path d="M305.3 574.7L329.8 504.5"/>
<path d="M305.3 574.7L357.3 532"/>
<path d="M305.3 574.7L374.2 568.2"/>
<path d="M305.3 574.7L234 535.8"/>
<path d="M305.3 574.7L224.4 568.7"/>
<path d="M305.3 574.7L233.8 568.2"/>
<path d="M305.3 574.7L243.1 580.8"/>
<path d="M305.3 574.7L235.8 596.2"/>
<path d="M305.3 574.7L259.8 607.1"/>
<path d="M305.3 574.7L243.4 610.9"/>
<path d="M305.3 574.7L251.5 627.5"/>
<path d="M305.3 574.7L262.3 634.1"/>
<path d="M305.3 574.7L321.7 631.6"/>
<path d="M305.3 574.7L314.4 648"/>
<path d="M109.8 725.8L24.8 717.5"/>
<path d="M109.8 725.8L37.1 749.5"/>
<path d="M109.8 725.8L98.8 795"/>
<path d="M109.8 725.8L121.3 798.6"/>
<path d="M109.8 725.8L114.5 669.7"/>
<path d="M109.8 725.8L138.2 672.2"/>
<path d="M109.8 725.8L161.3 677"/>
<path d="M109.8 725.8L147.3 690.4"/>
<path d="M109.8 725.8L166 701.5"/>
<path d="M109.8 725.8L180.3 700"/>
<path d="M109.8 725.8L213.1 726.8"/>
<path d="M109.8 725.8L127.3 650.5"/>
<path d="M109.8 725.8L205.1 690.4"/>
<path d="M109.8 725.8L190.3 662.8"/>
<path d="M109.8 725.8L221.9 678.3"/>
<path d="M147.4 748.8L68.2 785.2"/>
<path d="M147.4 748.8L121.3 798.6"/>
<path d="M147.4 748.8L150.3 822.3"/>
<path d="M147.4 748.8L114.5 669.7"/>
<path d="M147.4 748.8L138.2 672.2"/>
<path d="M147.4 748.8L147.3 690.4"/>
<path d="M147.4 748.8L166 701.5"/>
<path d="M147.4 748.8L180.3 700"/>
<path d="M147.4 748.8L213.1 726.8"/>
<path d="M147.4 748.8L161.3 677"/>
<path d="M147.4 748.8L205.1 690.4"/>
<path d="M147.4 748.8L177.4 822.3"/>
<path d="M183.9 772L98.8 795"/>
<path d="M183.9 772L121.3 798.6"/>
<path d="M183.9 772L150.3 822.3"/>
<path d="M183.9 772L177.4 822.3"/>
<path d="M183.9 772L252.5 823.6"/>
<path d="M183.9 772L221 839.3"/>
<path d="M183.9 772L147.3 690.4"/>
<path d="M183.9 772L166 701.5"/>
<path d="M183.9 772L180.3 700"/>
<path d="M183.9 772L213.1 726.8"/>
<path d="M183.9 772L205.1 690.4"/>
<path d="M183.9 772L138.2 672.2"/>
<path d="M183.9 772L161.3 677"/>
<path d="M241.4 748.8L213.1 726.8"/>
<path d="M241.4 748.8L205.1 690.4"/>
<path d="M241.4 748.8L221.9 678.3"/>
<path d="M241.4 748.8L240.8 678.5"/>
<path d="M241.4 748.8L190.3 662.8"/>
<path d="M241.4 748.8L180.3 700"/>
<path d="M277.3 676.5L213.1 726.8"/>
<path d="M247.2 656L213.1 726.8"/>
<path d="M213.8 638.4L205.1 690.4"/>
<path d="M213.8 638.4L190.3 662.8"/>
<path d="M247.2 656L221.9 678.3"/>
<path d="M277.3 676.5L240.8 678.5"/>
</g>
<g fill="#7bbcd8">
<circle cx="178.5" cy="620" r="14.6"/>
<circle cx="213.8" cy="638.4" r="10"/>
<circle cx="247.2" cy="656" r="8.3"/>
<circle cx="277.3" cy="676.5" r="7.5"/>
<circle cx="299.7" cy="568.2" r="7.6"/>
<circle cx="305.3" cy="574.7" r="8"/>
<circle cx="109.8" cy="725.8" r="7.6"/>
<circle cx="147.4" cy="748.8" r="7"/>
<circle cx="241.4" cy="748.8" r="5.5"/>
<circle cx="183.9" cy="772" r="7.3"/>
</g>
<g fill="#cf4631">
<circle cx="329.8" cy="504.5" r="3.4"/>
<circle cx="357.3" cy="532" r="3.4"/>
<circle cx="374.2" cy="568.2" r="3.4"/>
<circle cx="234" cy="535.8" r="3.4"/>
<circle cx="161.8" cy="538.4" r="3.4"/>
<circle cx="181.5" cy="554" r="3.4"/>
<circle cx="196.6" cy="571.5" r="3.4"/>
<circle cx="182" cy="578.8" r="3.4"/>
<circle cx="224.4" cy="568.7" r="3.4"/>
<circle cx="233.8" cy="568.2" r="3.4"/>
<circle cx="243.1" cy="580.8" r="3.4"/>
<circle cx="235.8" cy="596.2" r="3.4"/>
<circle cx="251.2" cy="595.7" r="3.4"/>
<circle cx="259.8" cy="607.1" r="3.4"/>
<circle cx="243.4" cy="610.9" r="3.4"/>
<circle cx="265.4" cy="619.2" r="3.4"/>
<circle cx="251.5" cy="627.5" r="3.4"/>
<circle cx="262.3" cy="634.1" r="3.4"/>
<circle cx="321.7" cy="631.6" r="3.4"/>
<circle cx="314.4" cy="648" r="3.4"/>
<circle cx="190.3" cy="662.8" r="3.4"/>
<circle cx="221.9" cy="678.3" r="3.4"/>
<circle cx="240.8" cy="678.5" r="3.4"/>
<circle cx="161.3" cy="677" r="3.4"/>
<circle cx="144.5" cy="545.5" r="3.4"/>
<circle cx="130.5" cy="554.5" r="3.4"/>
<circle cx="119" cy="566" r="3.4"/>
<circle cx="111" cy="578.5" r="3.4"/>
<circle cx="152.5" cy="579" r="3.4"/>
<circle cx="104.5" cy="591.5" r="3.4"/>
<circle cx="100.5" cy="605" r="3.4"/>
<circle cx="132.5" cy="615" r="3.4"/>
<circle cx="100.5" cy="621.5" r="3.4"/>
<circle cx="127.3" cy="650.5" r="3.4"/>
<circle cx="114.5" cy="669.7" r="3.4"/>
<circle cx="138.2" cy="672.2" r="3.4"/>
<circle cx="147.3" cy="690.4" r="3.4"/>
<circle cx="205.1" cy="690.4" r="3.4"/>
<circle cx="166" cy="701.5" r="3.4"/>
<circle cx="180.3" cy="700" r="3.4"/>
<circle cx="213.1" cy="726.8" r="3.4"/>
<circle cx="24.8" cy="717.5" r="3.4"/>
<circle cx="37.1" cy="749.5" r="3.4"/>
<circle cx="68.2" cy="785.2" r="3.4"/>
<circle cx="98.8" cy="795" r="3.4"/>
<circle cx="121.3" cy="798.6" r="3.4"/>
<circle cx="150.3" cy="822.3" r="3.4"/>
<circle cx="177.4" cy="822.3" r="3.4"/>
<circle cx="252.5" cy="823.6" r="3.4"/>
<circle cx="221" cy="839.3" r="3.4"/>
</g>
<line x1="173.3" y1="611.5" x2="175" y2="618.5" stroke="#111" stroke-width="1.4"/>
<line x1="181.8" y1="618.3" x2="185.8" y2="614.3" stroke="#111" stroke-width="1.4"/>
<g font-size="11.5" fill="#111">
<text x="256.5" y="567">tubulin binding</text>
<text x="262.8" y="586.5">microtubule binding</text>
<text x="53.5" y="611">mitotic nuclear division</text>
<text x="180.5" y="612">organelle fission</text>
<text x="118.5" y="631">nuclear division</text>
<text x="208.5" y="647">spindle</text>
<text x="215" y="666.5">mitotic spindle</text>
<text x="230.7" y="686">spindle microtubule</text>
<text x="85.5" y="730">Cell cycle</text>
<text x="103.5" y="753">Oocyte meiosis</text>
<text x="192.8" y="753">histone kinase activity</text>
<text x="132.5" y="776.3">Cellular senescence</text>
</g>
<text x="392.8" y="627" font-size="13">Counts</text>
<circle cx="405" cy="646.7" r="7.4" fill="#000"/>
<circle cx="405" cy="665.4" r="9.6" fill="#000"/>
<circle cx="405" cy="688.6" r="11.2" fill="#000"/>
<text x="423.6" y="650.6" font-size="11">10</text>
<text x="423.6" y="669.3" font-size="11">20</text>
<text x="423.6" y="692.5" font-size="11">30</text></g>
<g id="panel_d"><rect x="665" y="405.3" width="195" height="518.1" fill="#fff"/>
<g stroke="#ececec" stroke-width="0.6">
<path d="M717.8 405.3V923.4"/>
<path d="M771.2 405.3V923.4"/>
<path d="M824.8 405.3V923.4"/>
</g><g stroke="#e4e4e4" stroke-width="1">
<path d="M691 405.3V923.4"/>
<path d="M744.5 405.3V923.4"/>
<path d="M798 405.3V923.4"/>
<path d="M851.5 405.3V923.4"/>
<path d="M665 415.2H860"/>
<path d="M665 432.4H860"/>
<path d="M665 449.6H860"/>
<path d="M665 466.8H860"/>
<path d="M665 484H860"/>
<path d="M665 501.2H860"/>
<path d="M665 518.4H860"/>
<path d="M665 535.6H860"/>
<path d="M665 552.8H860"/>
<path d="M665 570H860"/>
<path d="M665 587.2H860"/>
<path d="M665 604.4H860"/>
<path d="M665 621.6H860"/>
<path d="M665 638.8H860"/>
<path d="M665 656H860"/>
<path d="M665 673.2H860"/>
<path d="M665 690.4H860"/>
<path d="M665 707.6H860"/>
<path d="M665 724.8H860"/>
<path d="M665 742H860"/>
<path d="M665 759.2H860"/>
<path d="M665 776.4H860"/>
<path d="M665 793.6H860"/>
<path d="M665 810.8H860"/>
<path d="M665 828H860"/>
<path d="M665 845.2H860"/>
<path d="M665 862.4H860"/>
<path d="M665 879.6H860"/>
<path d="M665 896.8H860"/>
<path d="M665 914H860"/>
</g>
<rect x="665" y="405.3" width="195" height="518.1" fill="none" stroke="#4d4d4d" stroke-width="1"/>
<g stroke="#333" stroke-width="0.9">
<path d="M662 415.2H665"/>
<path d="M662 432.4H665"/>
<path d="M662 449.6H665"/>
<path d="M662 466.8H665"/>
<path d="M662 484H665"/>
<path d="M662 501.2H665"/>
<path d="M662 518.4H665"/>
<path d="M662 535.6H665"/>
<path d="M662 552.8H665"/>
<path d="M662 570H665"/>
<path d="M662 587.2H665"/>
<path d="M662 604.4H665"/>
<path d="M662 621.6H665"/>
<path d="M662 638.8H665"/>
<path d="M662 656H665"/>
<path d="M662 673.2H665"/>
<path d="M662 690.4H665"/>
<path d="M662 707.6H665"/>
<path d="M662 724.8H665"/>
<path d="M662 742H665"/>
<path d="M662 759.2H665"/>
<path d="M662 776.4H665"/>
<path d="M662 793.6H665"/>
<path d="M662 810.8H665"/>
<path d="M662 828H665"/>
<path d="M662 845.2H665"/>
<path d="M662 862.4H665"/>
<path d="M662 879.6H665"/>
<path d="M662 896.8H665"/>
<path d="M662 914H665"/>
<path d="M691 923.4v3"/>
<path d="M744.5 923.4v3"/>
<path d="M798 923.4v3"/>
<path d="M851.5 923.4v3"/>
</g>
<g font-size="12.05" text-anchor="end" fill="#111">
<text x="659.5" y="419.2">liver cirrhosis</text>
<text x="659.5" y="436.4">nutritional deficiency disease</text>
<text x="659.5" y="448.1">carbohydrate metabolic</text>
<text x="659.5" y="460.1">disorder</text>
<text x="659.5" y="470.8">bile duct adenocarcinoma</text>
<text x="659.5" y="488">cholangiocarcinoma</text>
<text x="659.5" y="505.2">bile duct cancer</text>
<text x="659.5" y="522.4">bile duct carcinoma</text>
<text x="659.5" y="539.6">biliary tract cancer</text>
<text x="659.5" y="556.8">inverted papilloma</text>
<text x="659.5" y="574">verrucous carcinoma</text>
<text x="659.5" y="591.2">hyperpituitarism</text>
<text x="659.5" y="608.4">teratoma</text>
<text x="659.5" y="625.6">liposarcoma</text>
<text x="659.5" y="642.8">gallbladder adenocarcinoma</text>
<text x="659.5" y="660">lipomatous cancer</text>
<text x="659.5" y="677.2">endometriosis of uterus</text>
<text x="659.5" y="694.4">keratoacanthoma</text>
<text x="659.5" y="711.6">histiocytoma</text>
<text x="659.5" y="728.8">follicular adenoma</text>
<text x="659.5" y="746">Sezary's disease</text>
<text x="659.5" y="763.2">benign glioma</text>
<text x="659.5" y="780.4">sclerosing cholangitis</text>
<text x="659.5" y="797.6">endometrial adenocarcinoma</text>
<text x="659.5" y="814.8">thyroid adenoma</text>
<text x="659.5" y="832">benign ependymoma</text>
<text x="659.5" y="849.2">papilloma</text>
<text x="659.5" y="866.4">neuroectodermal tumor</text>
<text x="659.5" y="883.6">skin melanoma</text>
<text x="659.5" y="900.8">gastrointestinal stromal tumor</text>
<text x="659.5" y="918">pulmonary emphysema</text>
</g>
<g font-size="12.2" text-anchor="middle" fill="#333">
<text x="691" y="937">0.2</text>
<text x="744.5" y="937">0.3</text>
<text x="798" y="937">0.4</text>
<text x="851.5" y="937">0.5</text>
</g>
<text x="762.4" y="952.3" font-size="11.9" text-anchor="middle">GeneRatio</text>
<circle cx="851.5" cy="415.2" r="8.9" fill="#c8104d"/>
<circle cx="762.3" cy="432.4" r="7.9" fill="#dc0a0a"/>
<circle cx="762.3" cy="449.6" r="7.9" fill="#dc0a0a"/>
<circle cx="762.3" cy="466.8" r="7.9" fill="#0808fa"/>
<circle cx="762.3" cy="484" r="7.9" fill="#0808fa"/>
<circle cx="762.3" cy="501.2" r="7.9" fill="#0808fa"/>
<circle cx="762.3" cy="518.4" r="7.9" fill="#0808fa"/>
<circle cx="762.3" cy="535.6" r="7.9" fill="#0808fa"/>
<circle cx="673.2" cy="552.8" r="3.8" fill="#0808fa"/>
<circle cx="673.2" cy="570" r="3.8" fill="#0808fa"/>
<circle cx="673.2" cy="587.2" r="3.8" fill="#0808fa"/>
<circle cx="673.2" cy="604.4" r="3.8" fill="#0808fa"/>
<circle cx="673.2" cy="621.6" r="3.8" fill="#0808fa"/>
<circle cx="673.2" cy="638.8" r="3.8" fill="#0808fa"/>
<circle cx="673.2" cy="656" r="3.8" fill="#0808fa"/>
<circle cx="673.2" cy="673.2" r="3.8" fill="#0808fa"/>
<circle cx="673.2" cy="690.4" r="3.8" fill="#0808fa"/>
<circle cx="673.2" cy="707.6" r="3.8" fill="#0808fa"/>
<circle cx="673.2" cy="724.8" r="3.8" fill="#0808fa"/>
<circle cx="673.2" cy="742" r="3.8" fill="#0808fa"/>
<circle cx="673.2" cy="759.2" r="3.8" fill="#0808fa"/>
<circle cx="673.2" cy="776.4" r="3.8" fill="#0808fa"/>
<circle cx="673.2" cy="793.6" r="3.8" fill="#0808fa"/>
<circle cx="673.2" cy="810.8" r="3.8" fill="#0808fa"/>
<circle cx="673.2" cy="828" r="3.8" fill="#0808fa"/>
<circle cx="673.2" cy="845.2" r="3.8" fill="#0808fa"/>
<circle cx="673.2" cy="862.4" r="3.8" fill="#0808fa"/>
<circle cx="673.2" cy="879.6" r="3.8" fill="#0808fa"/>
<circle cx="673.2" cy="896.8" r="3.8" fill="#0808fa"/>
<circle cx="673.2" cy="914" r="3.8" fill="#0808fa"/>
<rect x="582.5" y="401.5" width="292" height="20.5" fill="none" stroke="#e8282c" stroke-width="1.2"/>
<text x="877" y="555" font-size="11">Count</text>
<circle cx="888.4" cy="570.6" r="3.9" fill="#000"/>
<circle cx="888.4" cy="587.8" r="6.5" fill="#000"/>
<circle cx="888.4" cy="605.7" r="7.8" fill="#000"/>
<circle cx="888.4" cy="625.3" r="8.8" fill="#000"/>
<circle cx="888.4" cy="647" r="9.4" fill="#000"/>
<text x="905.3" y="573.7" font-size="8.7">1.0</text>
<text x="905.3" y="590.9" font-size="8.7">1.5</text>
<text x="905.3" y="608.8" font-size="8.7">2.0</text>
<text x="905.3" y="628.4" font-size="8.7">2.5</text>
<text x="905.3" y="650.1" font-size="8.7">3.0</text>
<text x="877" y="689.5" font-size="11">qvalue</text>
<defs><linearGradient id="qg" x1="0" y1="0" x2="0" y2="1"><stop offset="0" stop-color="#1a00ff"/><stop offset="0.5" stop-color="#9a009a"/><stop offset="1" stop-color="#e6000a"/></linearGradient></defs>
<rect x="877.1" y="696.6" width="17.2" height="86.5" fill="url(#qg)"/>
<path d="M877.1 713.1h3.4M890.9 713.1h3.4" stroke="#fff" stroke-opacity="0.7" stroke-width="0.7"/>
<text x="899.8" y="716.2" font-size="8.7">0.04</text>
<path d="M877.1 737.7h3.4M890.9 737.7h3.4" stroke="#fff" stroke-opacity="0.7" stroke-width="0.7"/>
<text x="899.8" y="740.8" font-size="8.7">0.03</text>
<path d="M877.1 762.4h3.4M890.9 762.4h3.4" stroke="#fff" stroke-opacity="0.7" stroke-width="0.7"/>
<text x="899.8" y="765.5" font-size="8.7">0.02</text></g>
<g id="panel_e"><text x="150.4" y="978.9" font-size="10.27" text-anchor="middle" font-weight="bold">consensus matrix k=2</text>
<g fill="none" stroke="#111" stroke-width="0.8"><path d="M93.2 1022.2V981.3H230.9V1011.3"/><path d="M203.6 1033.3V1011.3H258.6V1030.3"/><path d="M43.9 1029V1022.2H143.7V1025.7"/><path d="M41.4 1044V1029H47.2V1044"/><path d="M139.9 1036.6V1025.7H145.7V1044"/><path d="M137.4 1044V1036.6H142.4V1044"/><path d="M140 1044V1040H144V1044"/><path d="M43 1044V1034H45.5V1044"/><path d="M150.8 1044V1033.3H255.6V1044"/><path d="M256.9 1044V1030.3H259.9V1044"/><path d="M258.3 1034V1044"/></g>
<path d="M41.4 1044.5V1039.6H51.5V1041.2H78V1042.9H108.3L109.6 1044.5z" fill="#b0b0b0" stroke="#111" stroke-width="0.7"/>
<path d="M148.7 1044.5V1041H166.4V1042.1H181.6V1043.4H210.6L211.5 1044.5z" fill="#b0b0b0" stroke="#111" stroke-width="0.7"/>
<path d="M41 1044.6H260" stroke="#111" stroke-width="0.9"/>
<rect x="41" y="1046.9" width="104.5" height="9.2" fill="#4a78b0"/>
<rect x="145.5" y="1046.9" width="114.5" height="9.2" fill="#b3cde3"/>
<defs><pattern id="hs" width="1.9" height="1.9" patternUnits="userSpaceOnUse"><rect width="1.9" height="1.9" fill="#fff"/><rect width="0.7" height="1.9" fill="#a0a0ff"/><rect width="1.9" height="0.5" fill="#b4b4ff" fill-opacity="0.4"/></pattern><pattern id="hs2" width="1.4" height="1.4" patternUnits="userSpaceOnUse"><rect width="1.4" height="1.4" fill="#1212ff"/><rect width="0.45" height="1.4" fill="#a0a0ff" fill-opacity="0.75"/><rect width="1.4" height="0.45" fill="#9c9cff" fill-opacity="0.5"/></pattern></defs>
<rect x="41" y="1059.2" width="219" height="219.6" fill="#fff"/>
<rect x="145.5" y="1062.2" width="110.6" height="111.2" fill="#0000f2"/>
<rect x="41" y="1182.7" width="95.1" height="96.1" fill="#0000f2"/>
<rect x="136.1" y="1059.2" width="9.4" height="219.6" fill="url(#hs)"/>
<rect x="41" y="1173.4" width="219" height="9.3" fill="url(#hs)"/>
<rect x="41" y="1173.4" width="95.1" height="9.3" fill="url(#hs2)"/>
<rect x="136.1" y="1182.7" width="9.4" height="96.1" fill="url(#hs2)"/>
<rect x="136.1" y="1173.4" width="9.4" height="9.3" fill="#0000f2"/>
<rect x="41" y="1059.2" width="219" height="3" fill="url(#hs)"/>
<rect x="41" y="1059.2" width="95" height="1.6" fill="#3c3cff"/>
<rect x="145.5" y="1059.2" width="110.6" height="3" fill="#2a2aff"/>
<rect x="256.1" y="1059.2" width="3.9" height="219.6" fill="url(#hs)"/>
<rect x="256.1" y="1059.2" width="3.9" height="3" fill="#0000f2"/>
<rect x="41" y="1063.5" width="92" height="0.8" fill="#b9b9ff"/>
<rect x="41" y="1277.6" width="219" height="1.2" fill="#c9c9ff"/>
<rect x="41" y="1059.2" width="0.8" height="114" fill="#d4d4ff"/>
<rect x="284.8" y="1013.2" width="30.6" height="30.6" fill="#fff" stroke="#111" stroke-width="0.8"/>
<rect x="292.2" y="1020.8" width="6" height="5.6" fill="#b3cde3" stroke="#222" stroke-width="0.6"/>
<rect x="292.2" y="1030.9" width="6" height="5.6" fill="#4a78b0" stroke="#222" stroke-width="0.6"/>
<text x="305.3" y="1027" font-size="8.2">1</text>
<text x="305.3" y="1037.1" font-size="8.2">2</text>
<text x="490.2" y="994.9" font-size="9.4" text-anchor="middle" font-weight="bold">consensus CDF</text>
<rect x="363.8" y="1010" width="253.5" height="225.1" fill="#fff" stroke="#111" stroke-width="0.9"/>
<g stroke="#111" stroke-width="0.8">
<path d="M363.8 1226.9h-3.5"/>
<path d="M373.3 1235.1v3.5"/>
<path d="M363.8 1185.1h-3.5"/>
<path d="M420.2 1235.1v3.5"/>
<path d="M363.8 1143.3h-3.5"/>
<path d="M467.1 1235.1v3.5"/>
<path d="M363.8 1101.5h-3.5"/>
<path d="M514.1 1235.1v3.5"/>
<path d="M363.8 1059.7h-3.5"/>
<path d="M561 1235.1v3.5"/>
<path d="M363.8 1017.9h-3.5"/>
<path d="M607.9 1235.1v3.5"/>
</g>
<g font-size="8.1" font-weight="bold" fill="#222">
<text x="354" y="1229.6" text-anchor="end">0.0</text>
<text x="376" y="1256" text-anchor="start" transform="rotate(-90 376 1256)">0.0</text>
<text x="354" y="1187.8" text-anchor="end">0.2</text>
<text x="422.9" y="1256" text-anchor="start" transform="rotate(-90 422.9 1256)">0.2</text>
<text x="354" y="1146" text-anchor="end">0.4</text>
<text x="469.8" y="1256" text-anchor="start" transform="rotate(-90 469.8 1256)">0.4</text>
<text x="354" y="1104.2" text-anchor="end">0.6</text>
<text x="516.8" y="1256" text-anchor="start" transform="rotate(-90 516.8 1256)">0.6</text>
<text x="354" y="1062.4" text-anchor="end">0.8</text>
<text x="563.7" y="1256" text-anchor="start" transform="rotate(-90 563.7 1256)">0.8</text>
<text x="354" y="1020.6" text-anchor="end">1.0</text>
<text x="610.6" y="1256" text-anchor="start" transform="rotate(-90 610.6 1256)">1.0</text>
</g>
<text x="490.4" y="1271.6" font-size="8.3" text-anchor="middle" fill="#222">consensus index</text>
<g fill="none" stroke-width="1.5" stroke-linejoin="round">
<path d="M374.5 1170.5L376.1 1170.5L378 1162.1L380.3 1141.2L383.9 1139.5L387.4 1138.1L390.5 1137.1L393.6 1136.3L396.8 1136L399.7 1135.2L402.6 1135.2L405.6 1134.7L408.5 1135.5L411.4 1134.7L414.4 1133.9L417.3 1134L420.2 1133.9L423.2 1132.8L426.1 1133.2L429 1132.2L431.9 1131.9L434.9 1131L437.8 1130.4L440.7 1130.5L443.7 1129.3L446.6 1129.2L449.5 1128.6L452.5 1127.4L455.4 1127.1L458.3 1127.4L461.3 1126.1L464.2 1126.5L467.1 1125.5L470.1 1125.1L473 1125.4L475.9 1125.2L478.9 1123.8L481.8 1124.3L484.7 1124L487.7 1122.7L490.6 1123L493.5 1122.2L496.5 1122.5L499.4 1121.3L502.3 1121.4L505.3 1120.8L508.2 1121L511.1 1119.7L514.1 1119.9L517 1119.2L519.9 1118.4L522.9 1118L525.8 1118.3L528.7 1117.7L531.7 1117.5L534.6 1117L537.5 1116.1L540.5 1116.2L543.4 1115.3L546.3 1114.4L549.2 1114.7L552.2 1113.3L555.1 1113.2L558 1112.7L561 1112L564.1 1111.1L567.2 1111.1L570.4 1110.9L573.5 1110.3L576.6 1109.6L579.7 1109.4L582.7 1109.6L585.6 1108L588.5 1108.8L591.5 1107.8L594.8 1105.9L598 1104.6L599 1093.1L600.9 1080.6L602.7 1074.3L605.1 1073.3L605.6 1059.7L606 1028.4L606.7 1017.9" stroke="#e41a1c"/>
<path d="M374.5 1104.6L376.8 1104.2L380.3 1099.4L383.9 1098.5L387.4 1098.4L390.5 1097.9L393.6 1095.9L396.8 1095.2L399.7 1095.1L402.6 1094.6L405.6 1095.1L408.5 1094.8L411.4 1094.3L414.4 1093.1L417.3 1093.8L420.2 1093.1L423.2 1092.7L426.1 1092.3L429 1092.2L431.9 1092.8L434.9 1092.7L437.8 1092.3L440.7 1091.9L443.7 1092.1L446.6 1092.3L449.5 1091.3L452.5 1090.9L455.4 1090.6L458.3 1091.4L461.3 1090L464.2 1090.8L467.1 1090L470.1 1089.9L473 1089.2L475.9 1088.5L478.9 1089L481.8 1087.9L484.7 1088.1L487.7 1088L490.6 1087.5L493.5 1087.5L496.5 1087.5L499.4 1087.4L502.3 1087.1L505.3 1086.2L508.2 1085.6L511.1 1086.5L514.1 1085.8L517 1086.2L519.9 1084.8L522.9 1085.2L525.8 1085.1L528.7 1085.1L531.7 1084.5L534.6 1084L537.5 1084.2L540.5 1084L543.4 1083.9L546.3 1084.2L549.2 1082.9L552.2 1083.8L555.1 1083.1L558 1082.4L561 1082.7L564.3 1082.9L567.5 1082L570.8 1081.5L574.1 1081.7L577.4 1081.6L580.2 1080.7L583 1080.9L585.8 1079.8L588.7 1079.6L591.5 1078.5L595 1076L598.5 1074.3L601.4 1073.3L604.4 1071.8L605.6 1070.2L606.3 1038.8L606.7 1017.9" stroke="#fbb32d"/>
<path d="M374.5 1122.4L378 1122L380.3 1120.3L385 1114L389.7 1110.9L393.2 1108.4L396.8 1105.7L399.7 1103.5L402.6 1102.1L405.6 1100.4L408.5 1099.4L411.4 1098.2L414.4 1096.8L417.3 1095.2L420.2 1094.2L423.2 1093.2L426.1 1092.4L429 1091.2L431.9 1090.4L434.9 1089.1L437.8 1087.3L440.7 1086.3L443.7 1085.8L446.6 1084.6L449.5 1083.7L452.5 1082.9L455.4 1082.2L458.3 1080.9L461.3 1079.2L464.2 1078L467.1 1077.5L470.1 1076.7L473 1075.3L475.9 1074.4L478.9 1073.6L481.8 1072.7L484.7 1071.7L487.7 1071.2L490.6 1070.2L493.5 1069L496.5 1068.6L499.4 1067.4L502.3 1066.2L505.3 1065.3L508.2 1064.9L511.1 1063.2L514.1 1062.8L517 1061.7L519.9 1060.9L522.9 1060.7L525.8 1059.1L528.7 1058.6L531.7 1057.1L534.6 1056.5L537.5 1055.5L540.5 1054.3L543.4 1053.8L546.3 1052.8L549.2 1052.6L552.2 1051.4L555.1 1050.5L558 1049.6L561 1049.2L563.9 1048.3L566.8 1046.5L569.8 1045.3L572.7 1044.7L575.6 1042.7L578.6 1040.6L581.5 1038.9L584.4 1037.8L587.6 1035.6L590.7 1033.5L593.8 1031.5L598.5 1026.3L602 1024.1L605.6 1021L606.7 1017.9" stroke="#9be83e"/>
<path d="M374.5 1118.2L378 1117.2L380.3 1114L385 1107.8L388.5 1104.2L392.1 1101.5L396.8 1097.3L399.7 1094.4L402.6 1092.6L405.6 1090L408.5 1087.9L411.4 1085.8L414.4 1084L417.3 1082.8L420.2 1080.6L423.2 1078.8L426.1 1077.6L429 1076L431.9 1074.7L434.9 1073.7L437.8 1072.3L440.7 1071L443.7 1070.2L446.6 1069.2L449.5 1068.3L452.5 1068.4L455.4 1067.4L458.3 1066.3L461.3 1065.3L464.2 1065L467.1 1063.9L470.1 1062.9L473 1062.1L475.9 1062.1L478.9 1060.8L481.8 1060.3L484.7 1059.7L487.7 1058.9L490.6 1057.6L493.5 1057.1L496.5 1056.4L499.4 1055.6L502.3 1055.1L505.3 1053.7L508.2 1053.1L511.1 1052L514.1 1051.3L517 1050.2L519.9 1049.6L522.9 1047.7L525.8 1047.8L528.7 1046.2L531.7 1045.3L534.6 1044.1L537.5 1043L540.5 1042.4L543.4 1040.5L546.3 1040L549.2 1039.4L552.2 1037.6L555.1 1037.2L558 1035.6L561 1034.6L563.9 1033.8L566.8 1032.4L569.8 1030.9L572.7 1030L575.6 1029.5L578.6 1028L581.5 1027.1L584.4 1026.3L587.5 1025.4L590.5 1024.6L593.5 1023L596.5 1022L599.5 1020.5L602.5 1019.4L605.6 1018.9" stroke="#6fe04a"/>
<path d="M374.5 1105.7L378 1105.1L380.3 1101.5L385 1095.2L389.7 1092.1L393.2 1089.3L396.8 1086.9L399.7 1085.5L402.6 1083.2L405.6 1082.8L408.5 1080.6L411.4 1079.8L414.4 1077.9L417.3 1076.5L420.2 1075.4L423.2 1074.6L426.1 1072.9L429 1071.4L431.9 1070.8L434.9 1069.6L437.8 1068.7L440.7 1067.4L443.7 1066L446.6 1064.5L449.5 1064.3L452.5 1062.6L455.4 1061.8L458.3 1061.3L461.3 1060.8L464.2 1059L467.1 1058.7L470.1 1057.9L473 1057.2L475.9 1056.5L478.9 1054.9L481.8 1054.7L484.7 1054.2L487.7 1053.2L490.6 1052.4L493.5 1052.1L496.5 1050.7L499.4 1050.1L502.3 1049.5L505.3 1048.1L508.2 1047.3L511.1 1047.5L514.1 1046.1L517 1045.2L519.9 1044.6L522.9 1042.8L525.8 1042.1L528.7 1041.9L531.7 1040.9L534.6 1040.1L537.5 1038.8L540.5 1037.4L543.4 1037.5L546.3 1036.3L549.2 1035.7L552.2 1034.7L555.1 1034L558 1033L561 1032.5L563.9 1032.1L566.8 1030.4L569.8 1030L572.7 1028.8L575.6 1028.2L578.6 1027.3L581.5 1026.1L584.4 1025.2L587.5 1024.4L590.5 1023.6L593.5 1022.2L596.5 1021.5L599.5 1021.3L602.5 1020.2L605.6 1018.9" stroke="#7df0f0"/>
<path d="M374.5 1098.4L378 1097.3L380.3 1093.1L385 1089L389.7 1084.8L393.2 1082.7L396.8 1080.6L399.7 1078.2L402.6 1076.5L405.6 1075.1L408.5 1073.3L411.4 1072.3L414.4 1069.8L417.3 1068.7L420.2 1067L423.2 1065.7L426.1 1064.4L429 1063.3L431.9 1062.3L434.9 1060.6L437.8 1060.1L440.7 1058.9L443.7 1057.6L446.6 1056.3L449.5 1056.2L452.5 1055.1L455.4 1053.5L458.3 1053.6L461.3 1051.7L464.2 1051L467.1 1050.3L470.1 1049.6L473 1049L475.9 1047.6L478.9 1046.6L481.8 1046.8L484.7 1045.6L487.7 1044.7L490.6 1044L493.5 1043.5L496.5 1043.2L499.4 1042.9L502.3 1041.8L505.3 1041L508.2 1041.4L511.1 1040.7L514.1 1039.8L517 1038.8L519.9 1038.2L522.9 1037.7L525.8 1037.8L528.7 1036.3L531.7 1035.3L534.6 1034.6L537.5 1034.6L540.5 1033.7L543.4 1033.9L546.3 1032.2L549.2 1032.4L552.2 1031.2L555.1 1030.1L558 1029.8L561 1029.4L563.9 1029.2L566.8 1028.3L569.8 1026.9L572.7 1027.2L575.6 1026L578.6 1025.6L581.5 1025.2L584.4 1024.2L587.5 1023.3L590.5 1023.2L593.5 1022.4L596.5 1021.3L599.5 1021L602.5 1020.2L605.6 1018.9" stroke="#2448ee"/>
<path d="M374.5 1092.1L378 1091.1L380.3 1085.8L385 1080.6L389.7 1075.4L393.2 1072.7L396.8 1070.2L399.7 1068.3L402.6 1066.5L405.6 1065.9L408.5 1063.9L411.4 1062.9L414.4 1062L417.3 1060.6L420.2 1059.7L423.2 1058.8L426.1 1057.3L429 1057.1L431.9 1056.6L434.9 1054.9L437.8 1054.7L440.7 1053.1L443.7 1052.4L446.6 1051.7L449.5 1050.6L452.5 1050.4L455.4 1049.6L458.3 1049.4L461.3 1048.4L464.2 1048.1L467.1 1047.2L470.1 1046.2L473 1045.8L475.9 1045.7L478.9 1044.9L481.8 1044.1L484.7 1042.9L487.7 1043L490.6 1041.9L493.5 1041.1L496.5 1040.7L499.4 1040.9L502.3 1039.6L505.3 1039.8L508.2 1039.3L511.1 1038.2L514.1 1037.8L517 1037.4L519.9 1036L522.9 1035.8L525.8 1035.4L528.7 1034.1L531.7 1034.4L534.6 1032.9L537.5 1032.5L540.5 1032.6L543.4 1031.9L546.3 1030.4L549.2 1030.2L552.2 1030.3L555.1 1029.9L558 1028.3L561 1028.4L563.9 1027.5L566.8 1026.6L569.8 1026.8L572.7 1025.6L575.6 1025.3L578.6 1024.8L581.5 1024L584.4 1023.1L587.5 1022.3L590.5 1021.9L593.5 1021.2L596.5 1020.8L599.5 1019.3L602.5 1018.8L605.6 1018.3" stroke="#7a14ee"/>
<path d="M374.5 1082.7L378 1081.6L380.3 1076.4L382.7 1073.3L386.2 1070.3L389.7 1068.1L393.2 1066.1L396.8 1063.9L399.7 1062.1L402.6 1061.2L405.6 1059.8L408.5 1058.7L411.4 1057.7L414.4 1056.6L417.3 1056.1L420.2 1055.1L423.2 1054.9L426.1 1054.2L429 1053.3L431.9 1052.8L434.9 1051L437.8 1050.7L440.7 1049.7L443.7 1049.2L446.6 1049.2L449.5 1048L452.5 1046.8L455.4 1046.5L458.3 1046.1L461.3 1045.4L464.2 1045.2L467.1 1044L470.1 1043.9L473 1043.4L475.9 1042.6L478.9 1042.1L481.8 1040.9L484.7 1041.3L487.7 1040.7L490.6 1039.8L493.5 1039.7L496.5 1039.5L499.4 1038.9L502.3 1038.6L505.3 1037.9L508.2 1038.1L511.1 1036.6L514.1 1036.7L517 1036.2L519.9 1034.9L522.9 1034.5L525.8 1033.9L528.7 1033.5L531.7 1032.2L534.6 1032.6L537.5 1031.5L540.5 1030.8L543.4 1030.7L546.3 1029.7L549.2 1029.1L552.2 1029.3L555.1 1028.7L558 1028.4L561 1027.3L563.9 1027L566.8 1026.5L569.8 1025.5L572.7 1024.1L575.6 1024.2L578.6 1023.6L581.5 1022.8L584.4 1022.1L587.5 1021.8L590.5 1020.6L593.5 1020L596.5 1020.1L599.5 1019.4L602.5 1018.3L605.6 1017.9" stroke="#e014c0"/>
</g>
<rect x="560.2" y="1122.1" width="28.7" height="84.6" fill="#fff" stroke="#111" stroke-width="0.8"/>
<rect x="568.2" y="1130.1" width="5.2" height="4.8" fill="#e41a1c" stroke="#222" stroke-width="0.5"/>
<text x="580.4" y="1135.5" font-size="8.6">2</text>
<rect x="568.2" y="1139.4" width="5.2" height="4.8" fill="#fbb32d" stroke="#222" stroke-width="0.5"/>
<text x="580.4" y="1144.8" font-size="8.6">3</text>
<rect x="568.2" y="1148.7" width="5.2" height="4.8" fill="#9be83e" stroke="#222" stroke-width="0.5"/>
<text x="580.4" y="1154.1" font-size="8.6">4</text>
<rect x="568.2" y="1158" width="5.2" height="4.8" fill="#6fe04a" stroke="#222" stroke-width="0.5"/>
<text x="580.4" y="1163.4" font-size="8.6">5</text>
<rect x="568.2" y="1167.3" width="5.2" height="4.8" fill="#7df0f0" stroke="#222" stroke-width="0.5"/>
<text x="580.4" y="1172.7" font-size="8.6">6</text>
<rect x="568.2" y="1176.6" width="5.2" height="4.8" fill="#2448ee" stroke="#222" stroke-width="0.5"/>
<text x="580.4" y="1182" font-size="8.6">7</text>
<rect x="568.2" y="1185.9" width="5.2" height="4.8" fill="#7a14ee" stroke="#222" stroke-width="0.5"/>
<text x="580.4" y="1191.3" font-size="8.6">8</text>
<rect x="568.2" y="1195.2" width="5.2" height="4.8" fill="#e014c0" stroke="#222" stroke-width="0.5"/>
<text x="580.4" y="1200.6" font-size="8.6">9</text>
<text x="800.6" y="994.9" font-size="9.4" text-anchor="middle" font-weight="bold">tracking plot</text>
<rect x="705.3" y="1017.5" width="50.5" height="26.1" fill="#4878b0"/>
<rect x="755.8" y="1017.5" width="78.9" height="26.1" fill="#b3cfe3"/>
<rect x="765.3" y="1017.5" width="0.9" height="26.1" fill="#4878b0"/>
<rect x="767.5" y="1017.5" width="1.9" height="26.1" fill="#4878b0"/>
<rect x="771" y="1017.5" width="2.2" height="26.1" fill="#4878b0"/>
<rect x="774.8" y="1017.5" width="1.3" height="26.1" fill="#4878b0"/>
<rect x="776.7" y="1017.5" width="0.6" height="26.1" fill="#4878b0"/>
<rect x="777.9" y="1017.5" width="20.5" height="26.1" fill="#4878b0"/>
<rect x="801" y="1017.5" width="14.8" height="26.1" fill="#4878b0"/>
<rect x="829.4" y="1017.5" width="0.9" height="26.1" fill="#4878b0"/>
<rect x="831.6" y="1017.5" width="0.9" height="26.1" fill="#4878b0"/>
<rect x="833.5" y="1017.5" width="0.9" height="26.1" fill="#4878b0"/>
<rect x="834.8" y="1017.5" width="83" height="26.1" fill="#b3cfe3"/>
<rect x="705.3" y="1043" width="50.5" height="27.2" fill="#4878b0"/>
<rect x="729.9" y="1043" width="3.8" height="27.2" fill="#c2e08f"/>
<rect x="756.5" y="1043" width="27.8" height="27.2" fill="#c2e08f"/>
<rect x="755.8" y="1043" width="0.6" height="27.2" fill="#b3cfe3"/>
<rect x="784.2" y="1043" width="15.8" height="27.2" fill="#c2e08f"/>
<rect x="786.4" y="1043" width="0.9" height="27.2" fill="#4878b0"/>
<rect x="789" y="1043" width="1.9" height="27.2" fill="#4878b0"/>
<rect x="794.7" y="1043" width="1.3" height="27.2" fill="#4878b0"/>
<rect x="797.8" y="1043" width="2.2" height="27.2" fill="#4878b0"/>
<rect x="800" y="1043" width="15.8" height="27.2" fill="#4878b0"/>
<rect x="815.8" y="1043" width="18.9" height="27.2" fill="#b3cfe3"/>
<rect x="829.4" y="1043" width="0.9" height="27.2" fill="#4878b0"/>
<rect x="832.2" y="1043" width="1.3" height="27.2" fill="#4878b0"/>
<rect x="834.8" y="1043" width="20.5" height="27.2" fill="#b3cfe3"/>
<rect x="855.3" y="1043" width="33.8" height="27.2" fill="#c2e08f"/>
<rect x="869.8" y="1043" width="0.9" height="27.2" fill="#b3cfe3"/>
<rect x="879.3" y="1043" width="0.9" height="27.2" fill="#b3cfe3"/>
<rect x="883.4" y="1043" width="0.9" height="27.2" fill="#b3cfe3"/>
<rect x="889.1" y="1043" width="28.7" height="27.2" fill="#b3cfe3"/>
<rect x="705.3" y="1069.6" width="50.5" height="26.1" fill="#4878b0"/>
<rect x="705.3" y="1069.6" width="2.5" height="26.1" fill="#68a03a"/>
<rect x="722.7" y="1069.6" width="2.5" height="26.1" fill="#68a03a"/>
<rect x="755.8" y="1069.6" width="0.6" height="26.1" fill="#b3cfe3"/>
<rect x="756.5" y="1069.6" width="27.8" height="26.1" fill="#c2e08f"/>
<rect x="784.2" y="1069.6" width="15.8" height="26.1" fill="#c2e08f"/>
<rect x="786.4" y="1069.6" width="0.9" height="26.1" fill="#4878b0"/>
<rect x="789" y="1069.6" width="1.9" height="26.1" fill="#4878b0"/>
<rect x="792.1" y="1069.6" width="2.5" height="26.1" fill="#68a03a"/>
<rect x="794.7" y="1069.6" width="1.3" height="26.1" fill="#4878b0"/>
<rect x="797.2" y="1069.6" width="2.8" height="26.1" fill="#68a03a"/>
<rect x="800" y="1069.6" width="15.8" height="26.1" fill="#68a03a"/>
<rect x="803.8" y="1069.6" width="0.9" height="26.1" fill="#c2e08f"/>
<rect x="808.9" y="1069.6" width="0.9" height="26.1" fill="#c2e08f"/>
<rect x="812.7" y="1069.6" width="0.9" height="26.1" fill="#c2e08f"/>
<rect x="815.8" y="1069.6" width="7.3" height="26.1" fill="#b3cfe3"/>
<rect x="817.4" y="1069.6" width="1.3" height="26.1" fill="#68a03a"/>
<rect x="823.1" y="1069.6" width="11.1" height="26.1" fill="#68a03a"/>
<rect x="834.1" y="1069.6" width="21.2" height="26.1" fill="#b3cfe3"/>
<rect x="855.3" y="1069.6" width="33.8" height="26.1" fill="#c2e08f"/>
<rect x="869.8" y="1069.6" width="0.9" height="26.1" fill="#b3cfe3"/>
<rect x="879.3" y="1069.6" width="0.9" height="26.1" fill="#b3cfe3"/>
<rect x="883.4" y="1069.6" width="0.9" height="26.1" fill="#b3cfe3"/>
<rect x="885.3" y="1069.6" width="0.9" height="26.1" fill="#68a03a"/>
<rect x="889.1" y="1069.6" width="10.4" height="26.1" fill="#68a03a"/>
<rect x="892.5" y="1069.6" width="0.9" height="26.1" fill="#b3cfe3"/>
<rect x="896.3" y="1069.6" width="1.3" height="26.1" fill="#b3cfe3"/>
<rect x="899.5" y="1069.6" width="9.5" height="26.1" fill="#b3cfe3"/>
<rect x="909" y="1069.6" width="8.8" height="26.1" fill="#68a03a"/>
<rect x="911.5" y="1069.6" width="0.9" height="26.1" fill="#b3cfe3"/>
<rect x="914" y="1069.6" width="0.6" height="26.1" fill="#b3cfe3"/>
<rect x="705.3" y="1095.1" width="23.7" height="26.9" fill="#e89c9c"/>
<rect x="729" y="1095.1" width="26.8" height="26.9" fill="#4878b0"/>
<rect x="748.6" y="1095.1" width="6.6" height="26.9" fill="#e89c9c"/>
<rect x="755.8" y="1095.1" width="0.6" height="26.9" fill="#b3cfe3"/>
<rect x="756.5" y="1095.1" width="27.8" height="26.9" fill="#c2e08f"/>
<rect x="765.3" y="1095.1" width="1.3" height="26.9" fill="#4878b0"/>
<rect x="771.3" y="1095.1" width="1.3" height="26.9" fill="#4878b0"/>
<rect x="777.9" y="1095.1" width="4.7" height="26.9" fill="#4878b0"/>
<rect x="784.2" y="1095.1" width="4.7" height="26.9" fill="#c2e08f"/>
<rect x="789" y="1095.1" width="7.9" height="26.9" fill="#4878b0"/>
<rect x="786.4" y="1095.1" width="1.3" height="26.9" fill="#68a03a"/>
<rect x="796.9" y="1095.1" width="18.9" height="26.9" fill="#68a03a"/>
<rect x="798.4" y="1095.1" width="0.9" height="26.9" fill="#4878b0"/>
<rect x="804.1" y="1095.1" width="0.9" height="26.9" fill="#e89c9c"/>
<rect x="807" y="1095.1" width="0.9" height="26.9" fill="#c2e08f"/>
<rect x="811.7" y="1095.1" width="0.9" height="26.9" fill="#c2e08f"/>
<rect x="815.8" y="1095.1" width="7.3" height="26.9" fill="#b3cfe3"/>
<rect x="823.1" y="1095.1" width="11.1" height="26.9" fill="#68a03a"/>
<rect x="834.1" y="1095.1" width="21.2" height="26.9" fill="#b3cfe3"/>
<rect x="855.3" y="1095.1" width="33.8" height="26.9" fill="#c2e08f"/>
<rect x="885.3" y="1095.1" width="0.9" height="26.9" fill="#68a03a"/>
<rect x="889.1" y="1095.1" width="5.7" height="26.9" fill="#68a03a"/>
<rect x="894.8" y="1095.1" width="12.6" height="26.9" fill="#b3cfe3"/>
<rect x="897" y="1095.1" width="0.9" height="26.9" fill="#68a03a"/>
<rect x="907.4" y="1095.1" width="10.4" height="26.9" fill="#68a03a"/>
<rect x="705.3" y="1121.4" width="23.7" height="26.4" fill="#e89c9c"/>
<rect x="729" y="1121.4" width="26.8" height="26.4" fill="#4878b0"/>
<rect x="755.8" y="1121.4" width="0.6" height="26.4" fill="#b3cfe3"/>
<rect x="756.5" y="1121.4" width="27.8" height="26.4" fill="#c2e08f"/>
<rect x="777.9" y="1121.4" width="2.8" height="26.4" fill="#4878b0"/>
<rect x="784.2" y="1121.4" width="4.7" height="26.4" fill="#4878b0"/>
<rect x="789" y="1121.4" width="26.8" height="26.4" fill="#68a03a"/>
<rect x="792.8" y="1121.4" width="0.9" height="26.4" fill="#c2e08f"/>
<rect x="798.4" y="1121.4" width="0.9" height="26.4" fill="#c2e08f"/>
<rect x="804.1" y="1121.4" width="0.9" height="26.4" fill="#e89c9c"/>
<rect x="807" y="1121.4" width="0.9" height="26.4" fill="#c2e08f"/>
<rect x="815.8" y="1121.4" width="7.3" height="26.4" fill="#b3cfe3"/>
<rect x="823.1" y="1121.4" width="11.1" height="26.4" fill="#68a03a"/>
<rect x="834.1" y="1121.4" width="21.2" height="26.4" fill="#b3cfe3"/>
<rect x="844.9" y="1121.4" width="0.9" height="26.4" fill="#cc2222"/>
<rect x="846.4" y="1121.4" width="0.9" height="26.4" fill="#cc2222"/>
<rect x="855.3" y="1121.4" width="33.8" height="26.4" fill="#c2e08f"/>
<rect x="856.2" y="1121.4" width="0.9" height="26.4" fill="#cc2222"/>
<rect x="867" y="1121.4" width="5.7" height="26.4" fill="#c8553d"/>
<rect x="879.9" y="1121.4" width="1.6" height="26.4" fill="#cc2222"/>
<rect x="882.4" y="1121.4" width="1.3" height="26.4" fill="#cc2222"/>
<rect x="889.1" y="1121.4" width="5.7" height="26.4" fill="#68a03a"/>
<rect x="894.8" y="1121.4" width="12.6" height="26.4" fill="#b3cfe3"/>
<rect x="894.1" y="1121.4" width="2.5" height="26.4" fill="#cc2222"/>
<rect x="900.1" y="1121.4" width="3.2" height="26.4" fill="#cc2222"/>
<rect x="904.5" y="1121.4" width="0.9" height="26.4" fill="#cc2222"/>
<rect x="906.4" y="1121.4" width="1.3" height="26.4" fill="#cc2222"/>
<rect x="907.4" y="1121.4" width="10.4" height="26.4" fill="#68a03a"/>
<rect x="705.3" y="1147.2" width="23.7" height="27.2" fill="#e89c9c"/>
<rect x="729" y="1147.2" width="26.8" height="27.2" fill="#4878b0"/>
<rect x="732.1" y="1147.2" width="0.9" height="27.2" fill="#c2e08f"/>
<rect x="755.8" y="1147.2" width="0.6" height="27.2" fill="#b3cfe3"/>
<rect x="756.5" y="1147.2" width="27.8" height="27.2" fill="#c2e08f"/>
<rect x="784.2" y="1147.2" width="31.6" height="27.2" fill="#68a03a"/>
<rect x="815.8" y="1147.2" width="12.6" height="27.2" fill="#e8821e"/>
<rect x="828.4" y="1147.2" width="3.2" height="27.2" fill="#68a03a"/>
<rect x="829.4" y="1147.2" width="0.6" height="27.2" fill="#e8821e"/>
<rect x="831.6" y="1147.2" width="2.5" height="27.2" fill="#e8821e"/>
<rect x="832.5" y="1147.2" width="0.6" height="27.2" fill="#f0be73"/>
<rect x="834.1" y="1147.2" width="21.2" height="27.2" fill="#b3cfe3"/>
<rect x="855.3" y="1147.2" width="28.4" height="27.2" fill="#f0be73"/>
<rect x="883.7" y="1147.2" width="7.9" height="27.2" fill="#68a03a"/>
<rect x="891.6" y="1147.2" width="2.2" height="27.2" fill="#e8821e"/>
<rect x="893.8" y="1147.2" width="13.6" height="27.2" fill="#68a03a"/>
<rect x="892.5" y="1147.2" width="0.6" height="27.2" fill="#f0be73"/>
<rect x="907.4" y="1147.2" width="3.2" height="27.2" fill="#e8821e"/>
<rect x="908.6" y="1147.2" width="0.6" height="27.2" fill="#68a03a"/>
<rect x="910.5" y="1147.2" width="7.3" height="27.2" fill="#68a03a"/>
<rect x="912.1" y="1147.2" width="0.6" height="27.2" fill="#e8821e"/>
<rect x="705.3" y="1173.8" width="23.7" height="25.8" fill="#e89c9c"/>
<rect x="729" y="1173.8" width="26.8" height="25.8" fill="#4878b0"/>
<rect x="732.1" y="1173.8" width="0.9" height="25.8" fill="#c2e08f"/>
<rect x="755.8" y="1173.8" width="0.6" height="25.8" fill="#b3cfe3"/>
<rect x="756.5" y="1173.8" width="27.8" height="25.8" fill="#c2e08f"/>
<rect x="784.2" y="1173.8" width="31.6" height="25.8" fill="#68a03a"/>
<rect x="801" y="1173.8" width="1.3" height="25.8" fill="#e8821e"/>
<rect x="815.8" y="1173.8" width="18.3" height="25.8" fill="#e8821e"/>
<rect x="815.5" y="1173.8" width="0.9" height="25.8" fill="#b3cfe3"/>
<rect x="834.1" y="1173.8" width="21.2" height="25.8" fill="#b3cfe3"/>
<rect x="855.3" y="1173.8" width="22.1" height="25.8" fill="#f0be73"/>
<rect x="870.4" y="1173.8" width="0.9" height="25.8" fill="#c5b0d6"/>
<rect x="877.4" y="1173.8" width="7.9" height="25.8" fill="#c5b0d6"/>
<rect x="876.1" y="1173.8" width="0.9" height="25.8" fill="#c5b0d6"/>
<rect x="885.3" y="1173.8" width="6.3" height="25.8" fill="#68a03a"/>
<rect x="891.6" y="1173.8" width="26.2" height="25.8" fill="#c5b0d6"/>
<rect x="705.3" y="1199" width="23.7" height="26.5" fill="#e89c9c"/>
<rect x="729" y="1199" width="26.8" height="26.5" fill="#4878b0"/>
<rect x="755.8" y="1199" width="0.6" height="26.5" fill="#b3cfe3"/>
<rect x="756.5" y="1199" width="27.8" height="26.5" fill="#c2e08f"/>
<rect x="784.2" y="1199" width="31.6" height="26.5" fill="#68a03a"/>
<rect x="815.8" y="1199" width="12.6" height="26.5" fill="#e8821e"/>
<rect x="828.4" y="1199" width="5.7" height="26.5" fill="#6a3d9a"/>
<rect x="834.1" y="1199" width="21.2" height="26.5" fill="#b3cfe3"/>
<rect x="855.3" y="1199" width="28.4" height="26.5" fill="#f0be73"/>
<rect x="883.7" y="1199" width="34.1" height="26.5" fill="#c5b0d6"/>
<rect x="705.3" y="1224.9" width="212.5" height="8.9" fill="#000"/>
<text x="683.2" y="1033" font-size="8" text-anchor="middle" fill="#222">2</text>
<text x="683.2" y="1059.1" font-size="8" text-anchor="middle" fill="#222">3</text>
<text x="683.2" y="1085.1" font-size="8" text-anchor="middle" fill="#222">4</text>
<text x="683.2" y="1111" font-size="8" text-anchor="middle" fill="#222">5</text>
<text x="683.2" y="1137.1" font-size="8" text-anchor="middle" fill="#222">6</text>
<text x="683.2" y="1163.3" font-size="8" text-anchor="middle" fill="#222">7</text>
<text x="683.2" y="1189.2" font-size="8" text-anchor="middle" fill="#222">8</text>
<text x="683.2" y="1214.8" font-size="8" text-anchor="middle" fill="#222">9</text>
<text x="646.5" y="1122" font-size="8" text-anchor="middle" fill="#222" transform="rotate(-90 646.5 1122)">k</text>
<text x="800" y="1271" font-size="8" text-anchor="middle" fill="#222">samples</text></g>
<g id="panel_f"><g stroke="#111" stroke-width="1" fill="none">
<path d="M55.6 1299.5V1486.1H382.1"/>
<path d="M52.6 1477.6h3"/>
<path d="M52.6 1435.2h3"/>
<path d="M52.6 1392.8h3"/>
<path d="M52.6 1350.3h3"/>
<path d="M52.6 1307.9h3"/>
<path d="M69.7 1486.1v3"/>
<path d="M99.5 1486.1v3"/>
<path d="M129.3 1486.1v3"/>
<path d="M159.1 1486.1v3"/>
<path d="M188.9 1486.1v3"/>
<path d="M218.8 1486.1v3"/>
<path d="M248.6 1486.1v3"/>
<path d="M278.4 1486.1v3"/>
<path d="M308.2 1486.1v3"/>
<path d="M338 1486.1v3"/>
<path d="M367.8 1486.1v3"/>
</g>
<g font-size="8.6" fill="#111">
<text x="50.5" y="1480.6" text-anchor="end">0.00</text>
<text x="50.5" y="1438.2" text-anchor="end">0.25</text>
<text x="50.5" y="1395.8" text-anchor="end">0.50</text>
<text x="50.5" y="1353.3" text-anchor="end">0.75</text>
<text x="50.5" y="1310.9" text-anchor="end">1.00</text>
<text x="69.7" y="1496.2" text-anchor="middle">0</text>
<text x="99.5" y="1496.2" text-anchor="middle">1</text>
<text x="129.3" y="1496.2" text-anchor="middle">2</text>
<text x="159.1" y="1496.2" text-anchor="middle">3</text>
<text x="188.9" y="1496.2" text-anchor="middle">4</text>
<text x="218.8" y="1496.2" text-anchor="middle">5</text>
<text x="248.6" y="1496.2" text-anchor="middle">6</text>
<text x="278.4" y="1496.2" text-anchor="middle">7</text>
<text x="308.2" y="1496.2" text-anchor="middle">8</text>
<text x="338" y="1496.2" text-anchor="middle">9</text>
<text x="367.8" y="1496.2" text-anchor="middle">10</text>
</g>
<text x="219" y="1508" font-size="10.3" text-anchor="middle">Time(years)</text>
<text x="29" y="1392.6" font-size="10.3" text-anchor="middle" transform="rotate(-90 29 1392.6)">Overall survival</text>
<text x="75.8" y="1448.2" font-size="12.2">p=0.011</text>
<path d="M69.7 1307.9L72.1 1307.9L72.1 1311L74.5 1311L74.5 1314.1L76.9 1314.1L76.9 1317.2L79.2 1317.2L79.2 1319.9L81.6 1319.9L81.6 1322.7L84 1322.7L84 1325.4L86.4 1325.4L86.4 1327.2L88.8 1327.2L88.8 1329L91.2 1329L91.2 1330.8L93.5 1330.8L93.5 1333.2L95.9 1333.2L95.9 1335.6L98.3 1335.6L98.3 1337.9L100.6 1337.9L100.6 1339.5L102.8 1339.5L102.8 1341.2L105 1341.2L105 1342.8L107.3 1342.8L107.3 1344.4L109.5 1344.4L109.5 1345.3L111.7 1345.3L111.7 1346.2L114 1346.2L114 1347.1L116.2 1347.1L116.2 1347.9L118.4 1347.9L118.4 1349.1L120.7 1349.1L120.7 1350.2L122.9 1350.2L122.9 1351.3L125.1 1351.3L125.1 1352.4L127.4 1352.4L127.4 1353.7L129.6 1353.7L129.6 1355L131.9 1355L131.9 1356.3L134.1 1356.3L134.1 1357.6L136.5 1357.6L136.5 1358.8L138.9 1358.8L138.9 1360L141.2 1360L141.2 1361.2L143.5 1361.2L143.5 1361.4L145.8 1361.4L145.8 1361.5L148.1 1361.5L148.1 1361.7L150.4 1361.7L150.4 1361.9L152.7 1361.9L152.7 1362L155 1362L155 1362.2L157.3 1362.2L157.3 1362.4L159.7 1362.4L159.7 1363.8L162.1 1363.8L162.1 1365.2L164.5 1365.2L164.5 1366.6L166.7 1366.6L166.7 1367.7L169 1367.7L169 1368.7L171.2 1368.7L171.2 1369.8L173.4 1369.8L173.4 1370.9L175.7 1370.9L175.7 1371.2L177.9 1371.2L177.9 1371.5L180.1 1371.5L180.1 1371.7L182.4 1371.7L182.4 1372L185.1 1372L185.1 1376.5L187.7 1376.5L187.7 1380.9L190.4 1380.9L190.4 1382.7L193.1 1382.7L193.1 1384.4L195.3 1384.4L195.3 1384.6L197.6 1384.6L197.6 1384.9L199.8 1384.9L199.8 1385.1L202.1 1385.1L202.1 1385.3L203.8 1385.3L203.8 1389.9L218.2 1389.9L221.7 1389.9L221.7 1395.6L269.1 1395.6L270 1395.6L270 1401.7L272.7 1401.7L272.7 1412.4L276.6 1412.4L276.6 1428.6L324.9 1428.6L324.9 1444.7L335.6 1444.7L335.6 1460.8L370.2 1460.8" fill="none" stroke="#2e6cf6" stroke-width="1.7" stroke-linejoin="miter"/>
<path d="M71.7 1311h5M74.2 1308.5v5M76.1 1317.2h5M78.6 1314.7v5M82.1 1325.4h5M84.6 1322.9v5M88.1 1329h5M90.6 1326.5v5M89.6 1330.8h5M92.1 1328.3v5M91 1333.2h5M93.5 1330.7v5M97 1337.9h5M99.5 1335.4v5M100 1339.5h5M102.5 1337v5M103 1342.8h5M105.5 1340.3v5M106 1344.4h5M108.5 1341.9v5M108.9 1345.3h5M111.4 1342.8v5M111.9 1347.1h5M114.4 1344.6v5M114.9 1347.9h5M117.4 1345.4v5M116.4 1349.1h5M118.9 1346.6v5M117.9 1349.1h5M120.4 1346.6v5M120.9 1351.3h5M123.4 1348.8v5M123.8 1352.4h5M126.3 1349.9v5M126.8 1353.7h5M129.3 1351.2v5M129.8 1356.3h5M132.3 1353.8v5M132.8 1357.6h5M135.3 1355.1v5M135.8 1358.8h5M138.3 1356.3v5M140.2 1361.2h5M142.7 1358.7v5M141.7 1361.4h5M144.2 1358.9v5M144.7 1361.5h5M147.2 1359v5M147.7 1361.7h5M150.2 1359.2v5M150.7 1362h5M153.2 1359.5v5M153.6 1362.2h5M156.1 1359.7v5M156.6 1362.4h5M159.1 1359.9v5M165.6 1367.7h5M168.1 1365.2v5M168.6 1368.7h5M171.1 1366.2v5M171.5 1370.9h5M174 1368.4v5M174.5 1371.2h5M177 1368.7v5M177.5 1371.5h5M180 1369v5M180.5 1372h5M183 1369.5v5M192.4 1384.4h5M194.9 1381.9v5M195.4 1384.9h5M197.9 1382.4v5M198.4 1385.1h5M200.9 1382.6v5M204.3 1389.9h5M206.8 1387.4v5M208.8 1389.9h5M211.3 1387.4v5M213.3 1389.9h5M215.8 1387.4v5M222.2 1395.6h5M224.7 1393.1v5M231.2 1395.6h5M233.7 1393.1v5M234.1 1395.6h5M236.6 1393.1v5M240.1 1395.6h5M242.6 1393.1v5M249 1395.6h5M251.5 1393.1v5M255 1395.6h5M257.5 1393.1v5M263.9 1395.6h5M266.4 1393.1v5M266.9 1395.6h5M269.4 1393.1v5M367.7 1460.8h5M370.2 1458.3v5" stroke="#2e6cf6" stroke-width="1.1" fill="none"/>
<path d="M69.7 1307.9L72.4 1307.9L72.4 1309.6L75.1 1309.6L75.1 1311.3L77.2 1311.3L77.2 1311.6L79.4 1311.6L79.4 1312L81.5 1312L81.5 1312.3L83.7 1312.3L83.7 1312.7L85.8 1312.7L85.8 1313L88.2 1313L88.2 1314.7L90.6 1314.7L90.6 1316.5L93 1316.5L93 1318.3L95.1 1318.3L95.1 1319.3L97.2 1319.3L97.2 1320.4L99.4 1320.4L99.4 1321.5L101.5 1321.5L101.5 1322.6L103.7 1322.6L103.7 1323.7L105.8 1323.7L105.8 1324.7L108 1324.7L108 1325.8L110.1 1325.8L110.1 1326.8L112.3 1326.8L112.3 1327.9L114.4 1327.9L114.4 1328.9L116.8 1328.9L116.8 1331.4L119.2 1331.4L119.2 1333.8L121.6 1333.8L121.6 1336.2L123.8 1336.2L123.8 1337.6L126 1337.6L126 1338.9L128.3 1338.9L128.3 1340.2L130.5 1340.2L130.5 1341.5L132.7 1341.5L132.7 1343.1L135 1343.1L135 1344.7L137.2 1344.7L137.2 1346.3L139.5 1346.3L139.5 1347.9L141.6 1347.9L141.6 1348.6L143.7 1348.6L143.7 1349.2L145.9 1349.2L145.9 1349.9L148 1349.9L148 1350.5L150.2 1350.5L150.2 1351.2L152.6 1351.2L152.6 1351.5L155 1351.5L155 1351.8L157.3 1351.8L157.3 1352.1L159.7 1352.1L159.7 1352.4L162.1 1352.4L162.1 1352.7L164.5 1352.7L164.5 1353L166.6 1353L166.6 1354L168.8 1354L168.8 1354.9L170.9 1354.9L170.9 1355.8L173.1 1355.8L173.1 1356.7L175.2 1356.7L175.2 1357.6L177.4 1357.6L177.4 1358.7L179.5 1358.7L179.5 1359.8L181.7 1359.8L181.7 1360.9L183.8 1360.9L183.8 1362L186 1362L186 1363.1L188.1 1363.1L188.1 1363.4L190.3 1363.4L190.3 1363.7L192.4 1363.7L192.4 1364.1L194.5 1364.1L194.5 1364.4L196.7 1364.4L196.7 1364.7L199.1 1364.7L199.1 1366L201.5 1366L201.5 1367.2L203.8 1367.2L203.8 1368.5L206.5 1368.5L206.5 1372L209.2 1372L209.2 1375.6L211.6 1375.6L211.6 1376.9L214 1376.9L214 1378.2L216.4 1378.2L216.4 1379.5L242.6 1379.5L243.2 1379.5L243.2 1389.9L269.1 1389.9L270 1389.9L270 1401.1L275.4 1401.1L276.3 1401.1L276.3 1413.8L355 1413.8" fill="none" stroke="#d40c0c" stroke-width="1.7" stroke-linejoin="miter"/>
<path d="M68.7 1307.9h5M71.2 1305.4v5M70.2 1309.6h5M72.7 1307.1v5M82.1 1312.7h5M84.6 1310.2v5M85.1 1313h5M87.6 1310.5v5M91 1318.3h5M93.5 1315.8v5M94 1319.3h5M96.5 1316.8v5M97 1321.5h5M99.5 1319v5M100 1322.6h5M102.5 1320.1v5M103 1323.7h5M105.5 1321.2v5M106 1325.8h5M108.5 1323.3v5M108.9 1326.8h5M111.4 1324.3v5M111.9 1328.9h5M114.4 1326.4v5M114.9 1331.4h5M117.4 1328.9v5M117.9 1333.8h5M120.4 1331.3v5M120.9 1336.2h5M123.4 1333.7v5M123.8 1338.9h5M126.3 1336.4v5M126.8 1340.2h5M129.3 1337.7v5M129.8 1341.5h5M132.3 1339v5M132.8 1344.7h5M135.3 1342.2v5M135.8 1346.3h5M138.3 1343.8v5M138.7 1347.9h5M141.2 1345.4v5M141.7 1349.2h5M144.2 1346.7v5M144.7 1349.9h5M147.2 1347.4v5M149.2 1351.2h5M151.7 1348.7v5M153.6 1351.8h5M156.1 1349.3v5M156.6 1352.1h5M159.1 1349.6v5M159.6 1352.7h5M162.1 1350.2v5M162.6 1353h5M165.1 1350.5v5M165.6 1354h5M168.1 1351.5v5M168.6 1355.8h5M171.1 1353.3v5M171.5 1356.7h5M174 1354.2v5M174.5 1357.6h5M177 1355.1v5M177.5 1359.8h5M180 1357.3v5M180.5 1360.9h5M183 1358.4v5M186.4 1363.4h5M188.9 1360.9v5M189.4 1363.7h5M191.9 1361.2v5M192.4 1364.4h5M194.9 1361.9v5M195.4 1364.7h5M197.9 1362.2v5M199.9 1367.2h5M202.4 1364.7v5M204.3 1372h5M206.8 1369.5v5M207.3 1375.6h5M209.8 1373.1v5M214.8 1379.5h5M217.3 1377v5M217.7 1379.5h5M220.2 1377v5M220.7 1379.5h5M223.2 1377v5M223.7 1379.5h5M226.2 1377v5M226.7 1379.5h5M229.2 1377v5M229.7 1379.5h5M232.2 1377v5M232.6 1379.5h5M235.1 1377v5M243.1 1389.9h5M245.6 1387.4v5M246.1 1389.9h5M248.6 1387.4v5M250.5 1389.9h5M253 1387.4v5M255 1389.9h5M257.5 1387.4v5M259.5 1389.9h5M262 1387.4v5M267.5 1401.1h5M270 1398.6v5M290.8 1413.8h5M293.3 1411.3v5M292.3 1413.8h5M294.8 1411.3v5M320.6 1413.8h5M323.1 1411.3v5M347.4 1413.8h5M349.9 1411.3v5M350.4 1413.8h5M352.9 1411.3v5" stroke="#d40c0c" stroke-width="1.1" fill="none"/>
<text x="304.1" y="1325.5" font-size="7.6">Cluster</text>
<path d="M305.2 1336.2h10.7M310.5 1334.0v4.4M308.3 1336.2h4.4" stroke="#2e6cf6" stroke-width="1.3"/>
<text x="320.9" y="1338.9" font-size="7.6">C1</text>
<path d="M305.2 1348.7h10.7M310.5 1346.5v4.4M308.3 1348.7h4.4" stroke="#d40c0c" stroke-width="1.3"/>
<text x="320.9" y="1351.4" font-size="7.6">C2</text>
<text x="55.3" y="1527.2" font-size="11.7">Number at risk</text>
<g stroke="#111" stroke-width="1" fill="none">
<path d="M55.6 1533.8V1579.5H382.1"/>
<path d="M52.6 1546.3h3M52.6 1566.7h3"/>
<path d="M69.7 1579.5v3"/>
<path d="M99.5 1579.5v3"/>
<path d="M129.3 1579.5v3"/>
<path d="M159.1 1579.5v3"/>
<path d="M188.9 1579.5v3"/>
<path d="M218.8 1579.5v3"/>
<path d="M248.6 1579.5v3"/>
<path d="M278.4 1579.5v3"/>
<path d="M308.2 1579.5v3"/>
<path d="M338 1579.5v3"/>
<path d="M367.8 1579.5v3"/>
</g>
<g font-size="9.6" text-anchor="middle" fill="#111">
<text x="69.7" y="1549.6">306</text><text x="69.7" y="1570">288</text>
<text x="99.5" y="1549.6">219</text><text x="99.5" y="1570">233</text>
<text x="129.3" y="1549.6">114</text><text x="129.3" y="1570">125</text>
<text x="159.1" y="1549.6">63</text><text x="159.1" y="1570">72</text>
<text x="188.9" y="1549.6">28</text><text x="188.9" y="1570">48</text>
<text x="218.8" y="1549.6">15</text><text x="218.8" y="1570">26</text>
<text x="248.6" y="1549.6">10</text><text x="248.6" y="1570">15</text>
<text x="278.4" y="1549.6">3</text><text x="278.4" y="1570">5</text>
<text x="308.2" y="1549.6">3</text><text x="308.2" y="1570">3</text>
<text x="338" y="1549.6">1</text><text x="338" y="1570">2</text>
<text x="367.8" y="1549.6">1</text><text x="367.8" y="1570">0</text>
</g>
<g font-size="8.6" text-anchor="middle" fill="#111">
<text x="69.7" y="1590">0</text>
<text x="99.5" y="1590">1</text>
<text x="129.3" y="1590">2</text>
<text x="159.1" y="1590">3</text>
<text x="188.9" y="1590">4</text>
<text x="218.8" y="1590">5</text>
<text x="248.6" y="1590">6</text>
<text x="278.4" y="1590">7</text>
<text x="308.2" y="1590">8</text>
<text x="338" y="1590">9</text>
<text x="367.8" y="1590">10</text>
</g>
<text x="50.5" y="1549.5" font-size="9.2" text-anchor="end" fill="#2e6cf6">C1</text>
<text x="50.5" y="1569.9" font-size="9.2" text-anchor="end" fill="#d40c0c">C2</text>
<text x="29" y="1556.5" font-size="10.3" text-anchor="middle" transform="rotate(-90 29 1556.5)">Cluster</text>
<text x="219" y="1601.5" font-size="10.3" text-anchor="middle">Time(years)</text></g>
<g id="panel_g"><g stroke-width="1" fill="none">
<rect x="481" y="1287.2" width="61" height="4.7" fill="#d2d2d2"/>
<rect x="630" y="1287.2" width="49" height="4.7" fill="#d2d2d2"/>
<path d="M542 1287.2h1v4.7h-1zM544 1287.2h4v4.7h-4zM549 1287.2h1v4.7h-1zM551 1287.2h1v4.7h-1zM555 1287.2h1v4.7h-1zM558 1287.2h4v4.7h-4zM564 1287.2h1v4.7h-1zM569 1287.2h2v4.7h-2zM575 1287.2h2v4.7h-2zM578 1287.2h2v4.7h-2zM584 1287.2h6v4.7h-6zM591 1287.2h1v4.7h-1zM593 1287.2h1v4.7h-1zM596 1287.2h1v4.7h-1zM598 1287.2h4v4.7h-4zM604 1287.2h2v4.7h-2zM607 1287.2h1v4.7h-1zM612 1287.2h2v4.7h-2zM616 1287.2h2v4.7h-2zM622 1287.2h1v4.7h-1zM624 1287.2h3v4.7h-3zM628 1287.2h1v4.7h-1zM679 1287.2h1v4.7h-1zM681 1287.2h1v4.7h-1zM688 1287.2h1v4.7h-1zM698 1287.2h3v4.7h-3zM702 1287.2h1v4.7h-1zM704 1287.2h2v4.7h-2zM708 1287.2h2v4.7h-2zM712 1287.2h2v4.7h-2zM717 1287.2h1v4.7h-1zM721 1287.2h2v4.7h-2zM727 1287.2h1v4.7h-1zM730 1287.2h7v4.7h-7zM743 1287.2h1v4.7h-1zM747 1287.2h3v4.7h-3zM751 1287.2h1v4.7h-1zM753 1287.2h2v4.7h-2zM756 1287.2h3v4.7h-3zM764 1287.2h1v4.7h-1zM766 1287.2h3v4.7h-3z" fill="#7bb"/>
<path d="M543 1287.2h1v4.7h-1zM595 1287.2h1v4.7h-1zM606 1287.2h1v4.7h-1zM615 1287.2h1v4.7h-1zM629 1287.2h1v4.7h-1zM716 1287.2h1v4.7h-1z" fill="#7cd"/>
<path d="M548 1287.2h1v4.7h-1zM571 1287.2h1v4.7h-1zM590 1287.2h1v4.7h-1zM691 1287.2h1v4.7h-1zM697 1287.2h1v4.7h-1zM723 1287.2h1v4.7h-1zM729 1287.2h1v4.7h-1zM738 1287.2h1v4.7h-1zM744 1287.2h1v4.7h-1z" fill="#bad"/>
<path d="M550 1287.2h1v4.7h-1zM557 1287.2h1v4.7h-1zM566 1287.2h1v4.7h-1zM574 1287.2h1v4.7h-1zM577 1287.2h1v4.7h-1zM582 1287.2h1v4.7h-1zM594 1287.2h1v4.7h-1zM597 1287.2h1v4.7h-1zM603 1287.2h1v4.7h-1zM608 1287.2h1v4.7h-1zM611 1287.2h1v4.7h-1zM614 1287.2h1v4.7h-1zM618 1287.2h1v4.7h-1zM682 1287.2h1v4.7h-1zM690 1287.2h1v4.7h-1zM692 1287.2h1v4.7h-1zM694 1287.2h1v4.7h-1zM701 1287.2h1v4.7h-1zM707 1287.2h1v4.7h-1zM710 1287.2h1v4.7h-1zM714 1287.2h2v4.7h-2zM724 1287.2h1v4.7h-1zM726 1287.2h1v4.7h-1zM742 1287.2h1v4.7h-1zM759 1287.2h1v4.7h-1zM763 1287.2h1v4.7h-1z" fill="#ccc"/>
<path d="M552 1287.2h1v4.7h-1zM567 1287.2h1v4.7h-1zM572 1287.2h1v4.7h-1zM609 1287.2h2v4.7h-2zM621 1287.2h1v4.7h-1zM696 1287.2h1v4.7h-1zM750 1287.2h1v4.7h-1zM765 1287.2h1v4.7h-1z" fill="#97d"/>
<path d="M553 1287.2h2v4.7h-2zM592 1287.2h1v4.7h-1zM693 1287.2h1v4.7h-1zM762 1287.2h1v4.7h-1z" fill="#add"/>
<path d="M556 1287.2h1v4.7h-1zM563 1287.2h1v4.7h-1zM565 1287.2h1v4.7h-1zM568 1287.2h1v4.7h-1zM580 1287.2h2v4.7h-2zM583 1287.2h1v4.7h-1zM602 1287.2h1v4.7h-1zM619 1287.2h2v4.7h-2zM623 1287.2h1v4.7h-1zM683 1287.2h4v4.7h-4zM689 1287.2h1v4.7h-1zM703 1287.2h1v4.7h-1zM719 1287.2h2v4.7h-2zM725 1287.2h1v4.7h-1zM728 1287.2h1v4.7h-1zM737 1287.2h1v4.7h-1zM752 1287.2h1v4.7h-1zM760 1287.2h2v4.7h-2z" fill="#9cc"/>
<path d="M562 1287.2h1v4.7h-1z" fill="#8ee"/>
<path d="M573 1287.2h1v4.7h-1zM627 1287.2h1v4.7h-1zM680 1287.2h1v4.7h-1zM687 1287.2h1v4.7h-1zM695 1287.2h1v4.7h-1zM706 1287.2h1v4.7h-1zM711 1287.2h1v4.7h-1zM739 1287.2h1v4.7h-1zM741 1287.2h1v4.7h-1zM745 1287.2h2v4.7h-2zM755 1287.2h1v4.7h-1z" fill="#89c"/>
<path d="M718 1287.2h1v4.7h-1zM740 1287.2h1v4.7h-1z" fill="#8bd"/>
<rect x="481" y="1293.9" width="61" height="4.7" fill="#d2d2d2"/>
<rect x="630" y="1293.9" width="49" height="4.7" fill="#d2d2d2"/>
<path d="M542 1293.9h2v4.7h-2zM555 1293.9h1v4.7h-1zM560 1293.9h1v4.7h-1zM565 1293.9h1v4.7h-1zM570 1293.9h1v4.7h-1zM573 1293.9h1v4.7h-1zM576 1293.9h1v4.7h-1zM580 1293.9h1v4.7h-1zM599 1293.9h1v4.7h-1zM613 1293.9h1v4.7h-1zM620 1293.9h1v4.7h-1zM623 1293.9h1v4.7h-1zM680 1293.9h1v4.7h-1zM697 1293.9h1v4.7h-1zM712 1293.9h1v4.7h-1zM724 1293.9h1v4.7h-1zM739 1293.9h1v4.7h-1zM748 1293.9h1v4.7h-1zM751 1293.9h2v4.7h-2zM755 1293.9h1v4.7h-1zM757 1293.9h1v4.7h-1zM767 1293.9h2v4.7h-2z" fill="#ccc"/>
<path d="M544 1293.9h1v4.7h-1zM559 1293.9h1v4.7h-1zM563 1293.9h1v4.7h-1zM574 1293.9h2v4.7h-2zM577 1293.9h1v4.7h-1zM584 1293.9h1v4.7h-1zM594 1293.9h1v4.7h-1zM607 1293.9h2v4.7h-2zM615 1293.9h1v4.7h-1zM622 1293.9h1v4.7h-1zM628 1293.9h1v4.7h-1zM687 1293.9h1v4.7h-1zM698 1293.9h1v4.7h-1zM702 1293.9h1v4.7h-1zM711 1293.9h1v4.7h-1zM715 1293.9h1v4.7h-1zM718 1293.9h2v4.7h-2zM723 1293.9h1v4.7h-1zM733 1293.9h1v4.7h-1zM735 1293.9h1v4.7h-1zM740 1293.9h1v4.7h-1zM762 1293.9h1v4.7h-1zM765 1293.9h1v4.7h-1z" fill="#c7c"/>
<path d="M545 1293.9h2v4.7h-2zM549 1293.9h1v4.7h-1zM552 1293.9h1v4.7h-1zM564 1293.9h1v4.7h-1zM578 1293.9h1v4.7h-1zM582 1293.9h1v4.7h-1zM595 1293.9h1v4.7h-1zM597 1293.9h1v4.7h-1zM604 1293.9h1v4.7h-1zM610 1293.9h1v4.7h-1zM614 1293.9h1v4.7h-1zM618 1293.9h1v4.7h-1zM681 1293.9h1v4.7h-1zM686 1293.9h1v4.7h-1zM700 1293.9h1v4.7h-1zM704 1293.9h2v4.7h-2zM717 1293.9h1v4.7h-1zM721 1293.9h1v4.7h-1zM731 1293.9h1v4.7h-1zM736 1293.9h1v4.7h-1zM738 1293.9h1v4.7h-1zM742 1293.9h1v4.7h-1zM745 1293.9h3v4.7h-3zM749 1293.9h1v4.7h-1zM753 1293.9h1v4.7h-1z" fill="#b2b"/>
<path d="M547 1293.9h2v4.7h-2zM550 1293.9h2v4.7h-2zM556 1293.9h2v4.7h-2zM561 1293.9h2v4.7h-2zM566 1293.9h4v4.7h-4zM579 1293.9h1v4.7h-1zM581 1293.9h1v4.7h-1zM583 1293.9h1v4.7h-1zM585 1293.9h1v4.7h-1zM589 1293.9h1v4.7h-1zM591 1293.9h2v4.7h-2zM598 1293.9h1v4.7h-1zM600 1293.9h2v4.7h-2zM603 1293.9h1v4.7h-1zM609 1293.9h1v4.7h-1zM616 1293.9h2v4.7h-2zM619 1293.9h1v4.7h-1zM629 1293.9h1v4.7h-1zM683 1293.9h1v4.7h-1zM685 1293.9h1v4.7h-1zM689 1293.9h1v4.7h-1zM691 1293.9h2v4.7h-2zM696 1293.9h1v4.7h-1zM699 1293.9h1v4.7h-1zM701 1293.9h1v4.7h-1zM703 1293.9h1v4.7h-1zM706 1293.9h3v4.7h-3zM720 1293.9h1v4.7h-1zM722 1293.9h1v4.7h-1zM725 1293.9h1v4.7h-1zM727 1293.9h2v4.7h-2zM732 1293.9h1v4.7h-1zM734 1293.9h1v4.7h-1zM737 1293.9h1v4.7h-1zM741 1293.9h1v4.7h-1zM756 1293.9h1v4.7h-1zM758 1293.9h2v4.7h-2zM763 1293.9h2v4.7h-2zM766 1293.9h1v4.7h-1z" fill="#c4c"/>
<path d="M553 1293.9h1v4.7h-1zM571 1293.9h1v4.7h-1zM586 1293.9h2v4.7h-2zM621 1293.9h1v4.7h-1zM743 1293.9h1v4.7h-1z" fill="#877"/>
<path d="M554 1293.9h1v4.7h-1zM590 1293.9h1v4.7h-1zM602 1293.9h1v4.7h-1zM606 1293.9h1v4.7h-1zM611 1293.9h2v4.7h-2zM624 1293.9h1v4.7h-1zM626 1293.9h2v4.7h-2zM679 1293.9h1v4.7h-1zM693 1293.9h1v4.7h-1zM695 1293.9h1v4.7h-1zM714 1293.9h1v4.7h-1zM716 1293.9h1v4.7h-1zM730 1293.9h1v4.7h-1zM744 1293.9h1v4.7h-1zM754 1293.9h1v4.7h-1zM761 1293.9h1v4.7h-1z" fill="#c3c"/>
<path d="M558 1293.9h1v4.7h-1zM572 1293.9h1v4.7h-1zM588 1293.9h1v4.7h-1zM593 1293.9h1v4.7h-1zM605 1293.9h1v4.7h-1zM625 1293.9h1v4.7h-1zM682 1293.9h1v4.7h-1zM684 1293.9h1v4.7h-1zM690 1293.9h1v4.7h-1zM709 1293.9h2v4.7h-2zM713 1293.9h1v4.7h-1zM726 1293.9h1v4.7h-1zM729 1293.9h1v4.7h-1zM750 1293.9h1v4.7h-1z" fill="#c8c"/>
<path d="M596 1293.9h1v4.7h-1z" fill="#592"/>
<path d="M688 1293.9h1v4.7h-1zM694 1293.9h1v4.7h-1z" fill="#9b7"/>
<path d="M760 1293.9h1v4.7h-1z" fill="#867"/>
<rect x="481" y="1300.6" width="61" height="4.7" fill="#d2d2d2"/>
<rect x="630" y="1300.6" width="49" height="4.7" fill="#d2d2d2"/>
<path d="M542 1300.6h1v4.7h-1zM544 1300.6h1v4.7h-1zM555 1300.6h1v4.7h-1zM557 1300.6h1v4.7h-1zM559 1300.6h1v4.7h-1zM561 1300.6h1v4.7h-1zM566 1300.6h1v4.7h-1zM568 1300.6h1v4.7h-1zM576 1300.6h1v4.7h-1zM579 1300.6h1v4.7h-1zM582 1300.6h2v4.7h-2zM585 1300.6h1v4.7h-1zM595 1300.6h1v4.7h-1zM603 1300.6h1v4.7h-1zM607 1300.6h1v4.7h-1zM610 1300.6h1v4.7h-1zM613 1300.6h1v4.7h-1zM680 1300.6h2v4.7h-2zM684 1300.6h3v4.7h-3zM688 1300.6h2v4.7h-2zM700 1300.6h3v4.7h-3zM705 1300.6h3v4.7h-3zM711 1300.6h1v4.7h-1zM713 1300.6h2v4.7h-2zM716 1300.6h1v4.7h-1zM723 1300.6h1v4.7h-1zM725 1300.6h1v4.7h-1zM727 1300.6h1v4.7h-1zM729 1300.6h1v4.7h-1zM733 1300.6h1v4.7h-1zM738 1300.6h3v4.7h-3zM747 1300.6h2v4.7h-2zM750 1300.6h1v4.7h-1zM757 1300.6h1v4.7h-1zM763 1300.6h1v4.7h-1zM767 1300.6h1v4.7h-1z" fill="#9a7"/>
<path d="M543 1300.6h1v4.7h-1zM545 1300.6h6v4.7h-6zM553 1300.6h1v4.7h-1zM556 1300.6h1v4.7h-1zM560 1300.6h1v4.7h-1zM563 1300.6h1v4.7h-1zM567 1300.6h1v4.7h-1zM569 1300.6h1v4.7h-1zM571 1300.6h3v4.7h-3zM575 1300.6h1v4.7h-1zM577 1300.6h2v4.7h-2zM580 1300.6h1v4.7h-1zM584 1300.6h1v4.7h-1zM587 1300.6h4v4.7h-4zM592 1300.6h2v4.7h-2zM596 1300.6h4v4.7h-4zM601 1300.6h2v4.7h-2zM604 1300.6h1v4.7h-1zM606 1300.6h1v4.7h-1zM608 1300.6h2v4.7h-2zM611 1300.6h2v4.7h-2zM614 1300.6h3v4.7h-3zM620 1300.6h3v4.7h-3zM624 1300.6h2v4.7h-2zM628 1300.6h2v4.7h-2zM679 1300.6h1v4.7h-1zM682 1300.6h1v4.7h-1zM687 1300.6h1v4.7h-1zM690 1300.6h3v4.7h-3zM694 1300.6h1v4.7h-1zM696 1300.6h2v4.7h-2zM703 1300.6h1v4.7h-1zM708 1300.6h1v4.7h-1zM712 1300.6h1v4.7h-1zM715 1300.6h1v4.7h-1zM718 1300.6h3v4.7h-3zM722 1300.6h1v4.7h-1zM724 1300.6h1v4.7h-1zM726 1300.6h1v4.7h-1zM728 1300.6h1v4.7h-1zM730 1300.6h2v4.7h-2zM735 1300.6h3v4.7h-3zM742 1300.6h1v4.7h-1zM744 1300.6h1v4.7h-1zM751 1300.6h5v4.7h-5zM758 1300.6h3v4.7h-3zM762 1300.6h1v4.7h-1zM765 1300.6h2v4.7h-2z" fill="#682"/>
<path d="M551 1300.6h1v4.7h-1zM554 1300.6h1v4.7h-1zM562 1300.6h1v4.7h-1zM564 1300.6h2v4.7h-2zM570 1300.6h1v4.7h-1zM574 1300.6h1v4.7h-1zM586 1300.6h1v4.7h-1zM600 1300.6h1v4.7h-1zM617 1300.6h3v4.7h-3zM623 1300.6h1v4.7h-1zM626 1300.6h2v4.7h-2zM693 1300.6h1v4.7h-1zM695 1300.6h1v4.7h-1zM698 1300.6h2v4.7h-2zM704 1300.6h1v4.7h-1zM709 1300.6h2v4.7h-2zM717 1300.6h1v4.7h-1zM732 1300.6h1v4.7h-1zM734 1300.6h1v4.7h-1zM741 1300.6h1v4.7h-1zM743 1300.6h1v4.7h-1zM745 1300.6h2v4.7h-2zM749 1300.6h1v4.7h-1zM756 1300.6h1v4.7h-1zM764 1300.6h1v4.7h-1zM768 1300.6h1v4.7h-1z" fill="#ccc"/>
<path d="M552 1300.6h1v4.7h-1z" fill="#98c"/>
<path d="M558 1300.6h1v4.7h-1zM581 1300.6h1v4.7h-1zM591 1300.6h1v4.7h-1zM605 1300.6h1v4.7h-1zM721 1300.6h1v4.7h-1z" fill="#667"/>
<path d="M594 1300.6h1v4.7h-1zM683 1300.6h1v4.7h-1zM761 1300.6h1v4.7h-1z" fill="#74b"/>
<rect x="481" y="1307.4" width="61" height="4.7" fill="#d2d2d2"/>
<rect x="630" y="1307.4" width="49" height="4.7" fill="#d2d2d2"/>
<path d="M542 1307.4h1v4.7h-1zM547 1307.4h1v4.7h-1zM558 1307.4h1v4.7h-1zM568 1307.4h2v4.7h-2zM576 1307.4h2v4.7h-2zM590 1307.4h1v4.7h-1zM606 1307.4h1v4.7h-1zM619 1307.4h1v4.7h-1zM625 1307.4h1v4.7h-1zM628 1307.4h1v4.7h-1zM679 1307.4h1v4.7h-1zM686 1307.4h2v4.7h-2zM690 1307.4h2v4.7h-2zM694 1307.4h1v4.7h-1zM706 1307.4h1v4.7h-1zM711 1307.4h2v4.7h-2zM715 1307.4h1v4.7h-1zM718 1307.4h1v4.7h-1zM721 1307.4h1v4.7h-1zM723 1307.4h1v4.7h-1zM725 1307.4h1v4.7h-1zM732 1307.4h2v4.7h-2zM741 1307.4h2v4.7h-2zM747 1307.4h1v4.7h-1zM750 1307.4h3v4.7h-3zM764 1307.4h1v4.7h-1zM767 1307.4h2v4.7h-2z" fill="#8aa"/>
<path d="M543 1307.4h4v4.7h-4zM548 1307.4h10v4.7h-10zM559 1307.4h7v4.7h-7zM567 1307.4h1v4.7h-1zM570 1307.4h1v4.7h-1zM572 1307.4h3v4.7h-3zM579 1307.4h4v4.7h-4zM584 1307.4h1v4.7h-1zM586 1307.4h1v4.7h-1zM589 1307.4h1v4.7h-1zM591 1307.4h6v4.7h-6zM598 1307.4h6v4.7h-6zM605 1307.4h1v4.7h-1zM607 1307.4h4v4.7h-4zM612 1307.4h7v4.7h-7zM620 1307.4h2v4.7h-2zM623 1307.4h2v4.7h-2zM626 1307.4h2v4.7h-2zM680 1307.4h6v4.7h-6zM688 1307.4h2v4.7h-2zM692 1307.4h2v4.7h-2zM695 1307.4h3v4.7h-3zM699 1307.4h7v4.7h-7zM707 1307.4h1v4.7h-1zM709 1307.4h1v4.7h-1zM713 1307.4h2v4.7h-2zM720 1307.4h1v4.7h-1zM722 1307.4h1v4.7h-1zM724 1307.4h1v4.7h-1zM726 1307.4h3v4.7h-3zM730 1307.4h2v4.7h-2zM734 1307.4h4v4.7h-4zM739 1307.4h1v4.7h-1zM743 1307.4h4v4.7h-4zM748 1307.4h2v4.7h-2zM753 1307.4h6v4.7h-6zM760 1307.4h4v4.7h-4zM765 1307.4h2v4.7h-2z" fill="#477"/>
<path d="M566 1307.4h1v4.7h-1zM571 1307.4h1v4.7h-1zM575 1307.4h1v4.7h-1zM583 1307.4h1v4.7h-1zM585 1307.4h1v4.7h-1zM587 1307.4h2v4.7h-2zM597 1307.4h1v4.7h-1zM604 1307.4h1v4.7h-1zM611 1307.4h1v4.7h-1zM622 1307.4h1v4.7h-1zM629 1307.4h1v4.7h-1zM698 1307.4h1v4.7h-1zM708 1307.4h1v4.7h-1zM710 1307.4h1v4.7h-1zM716 1307.4h2v4.7h-2zM719 1307.4h1v4.7h-1zM729 1307.4h1v4.7h-1zM738 1307.4h1v4.7h-1zM740 1307.4h1v4.7h-1zM759 1307.4h1v4.7h-1z" fill="#ccc"/>
<path d="M578 1307.4h1v4.7h-1z" fill="#347"/>
<rect x="481" y="1314.1" width="61" height="4.7" fill="#d2d2d2"/>
<rect x="630" y="1314.1" width="49" height="4.7" fill="#d2d2d2"/>
<path d="M542 1314.1h2v4.7h-2zM545 1314.1h1v4.7h-1zM547 1314.1h2v4.7h-2zM550 1314.1h2v4.7h-2zM554 1314.1h1v4.7h-1zM557 1314.1h1v4.7h-1zM561 1314.1h1v4.7h-1zM564 1314.1h1v4.7h-1zM566 1314.1h1v4.7h-1zM568 1314.1h1v4.7h-1zM575 1314.1h1v4.7h-1zM577 1314.1h1v4.7h-1zM579 1314.1h1v4.7h-1zM581 1314.1h2v4.7h-2zM584 1314.1h1v4.7h-1zM589 1314.1h2v4.7h-2zM594 1314.1h1v4.7h-1zM601 1314.1h1v4.7h-1zM604 1314.1h1v4.7h-1zM617 1314.1h1v4.7h-1zM623 1314.1h1v4.7h-1zM627 1314.1h1v4.7h-1zM687 1314.1h2v4.7h-2zM694 1314.1h2v4.7h-2zM698 1314.1h1v4.7h-1zM700 1314.1h1v4.7h-1zM703 1314.1h2v4.7h-2zM706 1314.1h2v4.7h-2zM716 1314.1h1v4.7h-1zM721 1314.1h1v4.7h-1zM729 1314.1h1v4.7h-1zM739 1314.1h2v4.7h-2zM742 1314.1h1v4.7h-1zM744 1314.1h1v4.7h-1zM747 1314.1h4v4.7h-4zM753 1314.1h3v4.7h-3zM759 1314.1h2v4.7h-2zM765 1314.1h1v4.7h-1zM767 1314.1h2v4.7h-2z" fill="#813"/>
<path d="M544 1314.1h1v4.7h-1zM546 1314.1h1v4.7h-1zM556 1314.1h1v4.7h-1zM562 1314.1h1v4.7h-1zM572 1314.1h1v4.7h-1zM576 1314.1h1v4.7h-1zM592 1314.1h1v4.7h-1zM605 1314.1h1v4.7h-1zM608 1314.1h1v4.7h-1zM612 1314.1h1v4.7h-1zM621 1314.1h1v4.7h-1zM625 1314.1h1v4.7h-1zM679 1314.1h1v4.7h-1zM682 1314.1h3v4.7h-3zM686 1314.1h1v4.7h-1zM690 1314.1h1v4.7h-1zM714 1314.1h1v4.7h-1zM717 1314.1h1v4.7h-1zM723 1314.1h2v4.7h-2zM726 1314.1h2v4.7h-2zM732 1314.1h1v4.7h-1zM735 1314.1h1v4.7h-1zM743 1314.1h1v4.7h-1zM746 1314.1h1v4.7h-1zM757 1314.1h1v4.7h-1zM761 1314.1h1v4.7h-1zM763 1314.1h1v4.7h-1z" fill="#a33"/>
<path d="M549 1314.1h1v4.7h-1zM553 1314.1h1v4.7h-1zM555 1314.1h1v4.7h-1zM558 1314.1h1v4.7h-1zM563 1314.1h1v4.7h-1zM565 1314.1h1v4.7h-1zM567 1314.1h1v4.7h-1zM573 1314.1h1v4.7h-1zM578 1314.1h1v4.7h-1zM583 1314.1h1v4.7h-1zM585 1314.1h1v4.7h-1zM587 1314.1h1v4.7h-1zM591 1314.1h1v4.7h-1zM597 1314.1h2v4.7h-2zM600 1314.1h1v4.7h-1zM607 1314.1h1v4.7h-1zM616 1314.1h1v4.7h-1zM618 1314.1h1v4.7h-1zM626 1314.1h1v4.7h-1zM691 1314.1h1v4.7h-1zM693 1314.1h1v4.7h-1zM696 1314.1h2v4.7h-2zM701 1314.1h1v4.7h-1zM710 1314.1h1v4.7h-1zM715 1314.1h1v4.7h-1zM720 1314.1h1v4.7h-1zM725 1314.1h1v4.7h-1zM730 1314.1h2v4.7h-2zM745 1314.1h1v4.7h-1zM756 1314.1h1v4.7h-1z" fill="#b74"/>
<path d="M552 1314.1h1v4.7h-1zM580 1314.1h1v4.7h-1zM611 1314.1h1v4.7h-1zM615 1314.1h1v4.7h-1zM619 1314.1h1v4.7h-1zM719 1314.1h1v4.7h-1zM737 1314.1h1v4.7h-1z" fill="#d85"/>
<path d="M559 1314.1h2v4.7h-2zM569 1314.1h1v4.7h-1zM571 1314.1h1v4.7h-1zM588 1314.1h1v4.7h-1zM593 1314.1h1v4.7h-1zM596 1314.1h1v4.7h-1zM606 1314.1h1v4.7h-1zM620 1314.1h1v4.7h-1zM622 1314.1h1v4.7h-1zM629 1314.1h1v4.7h-1zM681 1314.1h1v4.7h-1zM685 1314.1h1v4.7h-1zM689 1314.1h1v4.7h-1zM702 1314.1h1v4.7h-1zM705 1314.1h1v4.7h-1zM708 1314.1h1v4.7h-1zM712 1314.1h2v4.7h-2zM722 1314.1h1v4.7h-1zM728 1314.1h1v4.7h-1zM734 1314.1h1v4.7h-1zM751 1314.1h1v4.7h-1zM758 1314.1h1v4.7h-1zM764 1314.1h1v4.7h-1z" fill="#d54"/>
<path d="M570 1314.1h1v4.7h-1zM574 1314.1h1v4.7h-1z" fill="#ccc"/>
<path d="M586 1314.1h1v4.7h-1zM738 1314.1h1v4.7h-1z" fill="#d98"/>
<path d="M595 1314.1h1v4.7h-1zM602 1314.1h1v4.7h-1zM692 1314.1h1v4.7h-1zM699 1314.1h1v4.7h-1z" fill="#53d"/>
<path d="M599 1314.1h1v4.7h-1zM624 1314.1h1v4.7h-1zM680 1314.1h1v4.7h-1z" fill="#628"/>
<path d="M603 1314.1h1v4.7h-1z" fill="#a78"/>
<path d="M609 1314.1h2v4.7h-2zM613 1314.1h2v4.7h-2zM628 1314.1h1v4.7h-1zM709 1314.1h1v4.7h-1zM718 1314.1h1v4.7h-1zM733 1314.1h1v4.7h-1zM736 1314.1h1v4.7h-1zM741 1314.1h1v4.7h-1zM752 1314.1h1v4.7h-1zM762 1314.1h1v4.7h-1z" fill="#ec6"/>
<path d="M711 1314.1h1v4.7h-1z" fill="#989"/>
<path d="M766 1314.1h1v4.7h-1z" fill="#948"/>
<path d="M481 1320.8h2v4.7h-2zM505 1320.8h1v4.7h-1zM507 1320.8h1v4.7h-1zM510 1320.8h2v4.7h-2zM526 1320.8h1v4.7h-1zM540 1320.8h1v4.7h-1zM545 1320.8h2v4.7h-2zM548 1320.8h1v4.7h-1zM559 1320.8h1v4.7h-1zM571 1320.8h1v4.7h-1zM588 1320.8h1v4.7h-1zM590 1320.8h2v4.7h-2zM628 1320.8h2v4.7h-2zM633 1320.8h1v4.7h-1zM656 1320.8h1v4.7h-1zM662 1320.8h1v4.7h-1zM667 1320.8h1v4.7h-1zM678 1320.8h1v4.7h-1zM686 1320.8h1v4.7h-1zM689 1320.8h1v4.7h-1zM705 1320.8h1v4.7h-1zM712 1320.8h1v4.7h-1zM731 1320.8h1v4.7h-1zM743 1320.8h1v4.7h-1zM746 1320.8h1v4.7h-1zM748 1320.8h1v4.7h-1zM762 1320.8h2v4.7h-2z" fill="#c73"/>
<path d="M483 1320.8h1v4.7h-1zM485 1320.8h1v4.7h-1zM506 1320.8h1v4.7h-1zM512 1320.8h2v4.7h-2zM517 1320.8h1v4.7h-1zM524 1320.8h1v4.7h-1zM527 1320.8h1v4.7h-1zM530 1320.8h1v4.7h-1zM534 1320.8h1v4.7h-1zM554 1320.8h1v4.7h-1zM556 1320.8h2v4.7h-2zM574 1320.8h1v4.7h-1zM576 1320.8h1v4.7h-1zM580 1320.8h1v4.7h-1zM595 1320.8h1v4.7h-1zM597 1320.8h1v4.7h-1zM603 1320.8h2v4.7h-2zM624 1320.8h1v4.7h-1zM635 1320.8h1v4.7h-1zM641 1320.8h1v4.7h-1zM655 1320.8h1v4.7h-1zM658 1320.8h1v4.7h-1zM669 1320.8h1v4.7h-1zM672 1320.8h1v4.7h-1zM674 1320.8h1v4.7h-1zM676 1320.8h1v4.7h-1zM687 1320.8h1v4.7h-1zM690 1320.8h2v4.7h-2zM696 1320.8h1v4.7h-1zM698 1320.8h1v4.7h-1zM703 1320.8h1v4.7h-1zM717 1320.8h1v4.7h-1zM723 1320.8h1v4.7h-1zM734 1320.8h1v4.7h-1zM753 1320.8h1v4.7h-1zM761 1320.8h1v4.7h-1zM764 1320.8h2v4.7h-2zM768 1320.8h1v4.7h-1z" fill="#997"/>
<path d="M484 1320.8h1v4.7h-1zM488 1320.8h1v4.7h-1zM491 1320.8h4v4.7h-4zM496 1320.8h2v4.7h-2zM500 1320.8h1v4.7h-1zM502 1320.8h2v4.7h-2zM514 1320.8h1v4.7h-1zM518 1320.8h2v4.7h-2zM525 1320.8h1v4.7h-1zM528 1320.8h1v4.7h-1zM533 1320.8h1v4.7h-1zM538 1320.8h2v4.7h-2zM543 1320.8h1v4.7h-1zM547 1320.8h1v4.7h-1zM553 1320.8h1v4.7h-1zM560 1320.8h3v4.7h-3zM566 1320.8h2v4.7h-2zM570 1320.8h1v4.7h-1zM573 1320.8h1v4.7h-1zM579 1320.8h1v4.7h-1zM581 1320.8h1v4.7h-1zM583 1320.8h1v4.7h-1zM587 1320.8h1v4.7h-1zM592 1320.8h3v4.7h-3zM596 1320.8h1v4.7h-1zM598 1320.8h2v4.7h-2zM601 1320.8h2v4.7h-2zM610 1320.8h1v4.7h-1zM612 1320.8h1v4.7h-1zM614 1320.8h3v4.7h-3zM620 1320.8h1v4.7h-1zM630 1320.8h1v4.7h-1zM634 1320.8h1v4.7h-1zM638 1320.8h2v4.7h-2zM651 1320.8h1v4.7h-1zM653 1320.8h1v4.7h-1zM657 1320.8h1v4.7h-1zM659 1320.8h2v4.7h-2zM665 1320.8h1v4.7h-1zM670 1320.8h1v4.7h-1zM673 1320.8h1v4.7h-1zM682 1320.8h1v4.7h-1zM685 1320.8h1v4.7h-1zM688 1320.8h1v4.7h-1zM692 1320.8h3v4.7h-3zM701 1320.8h1v4.7h-1zM706 1320.8h1v4.7h-1zM713 1320.8h1v4.7h-1zM715 1320.8h1v4.7h-1zM718 1320.8h1v4.7h-1zM721 1320.8h2v4.7h-2zM726 1320.8h1v4.7h-1zM728 1320.8h1v4.7h-1zM740 1320.8h2v4.7h-2zM750 1320.8h2v4.7h-2zM757 1320.8h3v4.7h-3z" fill="#ad4"/>
<path d="M486 1320.8h1v4.7h-1zM501 1320.8h1v4.7h-1zM504 1320.8h1v4.7h-1zM515 1320.8h1v4.7h-1zM520 1320.8h1v4.7h-1zM523 1320.8h1v4.7h-1zM529 1320.8h1v4.7h-1zM541 1320.8h1v4.7h-1zM544 1320.8h1v4.7h-1zM558 1320.8h1v4.7h-1zM565 1320.8h1v4.7h-1zM568 1320.8h1v4.7h-1zM585 1320.8h2v4.7h-2zM589 1320.8h1v4.7h-1zM617 1320.8h1v4.7h-1zM631 1320.8h1v4.7h-1zM644 1320.8h1v4.7h-1zM654 1320.8h1v4.7h-1zM661 1320.8h1v4.7h-1zM668 1320.8h1v4.7h-1zM677 1320.8h1v4.7h-1zM681 1320.8h1v4.7h-1zM695 1320.8h1v4.7h-1zM699 1320.8h1v4.7h-1zM708 1320.8h1v4.7h-1zM710 1320.8h2v4.7h-2zM725 1320.8h1v4.7h-1zM739 1320.8h1v4.7h-1zM745 1320.8h1v4.7h-1zM752 1320.8h1v4.7h-1zM755 1320.8h1v4.7h-1z" fill="#85a"/>
<path d="M487 1320.8h1v4.7h-1zM495 1320.8h1v4.7h-1zM498 1320.8h2v4.7h-2zM516 1320.8h1v4.7h-1zM521 1320.8h1v4.7h-1zM531 1320.8h1v4.7h-1zM536 1320.8h2v4.7h-2zM549 1320.8h2v4.7h-2zM552 1320.8h1v4.7h-1zM575 1320.8h1v4.7h-1zM578 1320.8h1v4.7h-1zM584 1320.8h1v4.7h-1zM605 1320.8h1v4.7h-1zM623 1320.8h1v4.7h-1zM626 1320.8h1v4.7h-1zM643 1320.8h1v4.7h-1zM645 1320.8h2v4.7h-2zM664 1320.8h1v4.7h-1zM675 1320.8h1v4.7h-1zM709 1320.8h1v4.7h-1zM720 1320.8h1v4.7h-1zM724 1320.8h1v4.7h-1zM730 1320.8h1v4.7h-1zM733 1320.8h1v4.7h-1zM735 1320.8h1v4.7h-1zM737 1320.8h2v4.7h-2zM744 1320.8h1v4.7h-1z" fill="#ba3"/>
<path d="M489 1320.8h1v4.7h-1zM719 1320.8h1v4.7h-1z" fill="#cc7"/>
<path d="M490 1320.8h1v4.7h-1zM607 1320.8h1v4.7h-1zM611 1320.8h1v4.7h-1zM679 1320.8h1v4.7h-1zM732 1320.8h1v4.7h-1z" fill="#bc3"/>
<path d="M508 1320.8h1v4.7h-1zM564 1320.8h1v4.7h-1zM618 1320.8h1v4.7h-1z" fill="#c98"/>
<path d="M509 1320.8h1v4.7h-1zM600 1320.8h1v4.7h-1zM613 1320.8h1v4.7h-1zM622 1320.8h1v4.7h-1zM636 1320.8h1v4.7h-1zM742 1320.8h1v4.7h-1z" fill="#a86"/>
<path d="M522 1320.8h1v4.7h-1zM680 1320.8h1v4.7h-1zM697 1320.8h1v4.7h-1zM707 1320.8h1v4.7h-1zM760 1320.8h1v4.7h-1z" fill="#a9b"/>
<path d="M532 1320.8h1v4.7h-1zM535 1320.8h1v4.7h-1zM551 1320.8h1v4.7h-1zM647 1320.8h4v4.7h-4zM663 1320.8h1v4.7h-1zM754 1320.8h1v4.7h-1z" fill="#ccc"/>
<path d="M542 1320.8h1v4.7h-1zM577 1320.8h1v4.7h-1zM608 1320.8h1v4.7h-1zM627 1320.8h1v4.7h-1zM632 1320.8h1v4.7h-1zM640 1320.8h1v4.7h-1zM683 1320.8h2v4.7h-2zM702 1320.8h1v4.7h-1zM714 1320.8h1v4.7h-1zM766 1320.8h2v4.7h-2z" fill="#bd8"/>
<path d="M555 1320.8h1v4.7h-1zM716 1320.8h1v4.7h-1zM729 1320.8h1v4.7h-1zM736 1320.8h1v4.7h-1z" fill="#c92"/>
<path d="M563 1320.8h1v4.7h-1zM572 1320.8h1v4.7h-1zM606 1320.8h1v4.7h-1zM619 1320.8h1v4.7h-1zM621 1320.8h1v4.7h-1zM625 1320.8h1v4.7h-1zM637 1320.8h1v4.7h-1zM642 1320.8h1v4.7h-1zM652 1320.8h1v4.7h-1zM671 1320.8h1v4.7h-1zM700 1320.8h1v4.7h-1zM704 1320.8h1v4.7h-1zM747 1320.8h1v4.7h-1zM749 1320.8h1v4.7h-1zM756 1320.8h1v4.7h-1z" fill="#a67"/>
<path d="M569 1320.8h1v4.7h-1zM582 1320.8h1v4.7h-1zM609 1320.8h1v4.7h-1zM666 1320.8h1v4.7h-1zM727 1320.8h1v4.7h-1z" fill="#cb2"/>
<rect x="481" y="1327.5" width="61" height="4.7" fill="#d2d2d2"/>
<rect x="630" y="1327.5" width="49" height="4.7" fill="#d2d2d2"/>
<path d="M542 1327.5h2v4.7h-2zM545 1327.5h1v4.7h-1zM547 1327.5h1v4.7h-1zM550 1327.5h1v4.7h-1zM552 1327.5h1v4.7h-1zM559 1327.5h2v4.7h-2zM565 1327.5h1v4.7h-1zM570 1327.5h2v4.7h-2zM573 1327.5h3v4.7h-3zM578 1327.5h1v4.7h-1zM582 1327.5h2v4.7h-2zM587 1327.5h1v4.7h-1zM595 1327.5h1v4.7h-1zM598 1327.5h1v4.7h-1zM603 1327.5h1v4.7h-1zM605 1327.5h1v4.7h-1zM609 1327.5h2v4.7h-2zM613 1327.5h1v4.7h-1zM620 1327.5h1v4.7h-1zM624 1327.5h1v4.7h-1zM626 1327.5h1v4.7h-1zM679 1327.5h1v4.7h-1zM683 1327.5h1v4.7h-1zM686 1327.5h1v4.7h-1zM693 1327.5h3v4.7h-3zM701 1327.5h3v4.7h-3zM708 1327.5h1v4.7h-1zM710 1327.5h1v4.7h-1zM713 1327.5h1v4.7h-1zM717 1327.5h3v4.7h-3zM728 1327.5h2v4.7h-2zM732 1327.5h2v4.7h-2zM739 1327.5h1v4.7h-1zM742 1327.5h1v4.7h-1zM745 1327.5h1v4.7h-1zM752 1327.5h2v4.7h-2zM758 1327.5h1v4.7h-1zM764 1327.5h1v4.7h-1zM767 1327.5h1v4.7h-1z" fill="#358"/>
<path d="M544 1327.5h1v4.7h-1zM590 1327.5h1v4.7h-1zM621 1327.5h1v4.7h-1zM684 1327.5h1v4.7h-1zM689 1327.5h1v4.7h-1zM691 1327.5h1v4.7h-1zM700 1327.5h1v4.7h-1zM706 1327.5h1v4.7h-1zM709 1327.5h1v4.7h-1zM741 1327.5h1v4.7h-1zM746 1327.5h1v4.7h-1zM754 1327.5h2v4.7h-2zM762 1327.5h1v4.7h-1z" fill="#d78"/>
<path d="M546 1327.5h1v4.7h-1zM563 1327.5h2v4.7h-2zM568 1327.5h1v4.7h-1zM576 1327.5h1v4.7h-1zM579 1327.5h1v4.7h-1zM588 1327.5h2v4.7h-2zM599 1327.5h1v4.7h-1zM602 1327.5h1v4.7h-1zM604 1327.5h1v4.7h-1zM606 1327.5h1v4.7h-1zM608 1327.5h1v4.7h-1zM612 1327.5h1v4.7h-1zM614 1327.5h2v4.7h-2zM680 1327.5h2v4.7h-2zM685 1327.5h1v4.7h-1zM687 1327.5h2v4.7h-2zM698 1327.5h2v4.7h-2zM723 1327.5h2v4.7h-2zM726 1327.5h2v4.7h-2zM730 1327.5h1v4.7h-1zM734 1327.5h1v4.7h-1zM738 1327.5h1v4.7h-1zM761 1327.5h1v4.7h-1zM765 1327.5h1v4.7h-1zM768 1327.5h1v4.7h-1z" fill="#b58"/>
<path d="M548 1327.5h1v4.7h-1zM553 1327.5h1v4.7h-1zM577 1327.5h1v4.7h-1zM592 1327.5h1v4.7h-1zM617 1327.5h1v4.7h-1zM622 1327.5h1v4.7h-1zM625 1327.5h1v4.7h-1zM690 1327.5h1v4.7h-1zM696 1327.5h1v4.7h-1zM704 1327.5h1v4.7h-1zM714 1327.5h3v4.7h-3zM737 1327.5h1v4.7h-1zM740 1327.5h1v4.7h-1zM751 1327.5h1v4.7h-1z" fill="#877"/>
<path d="M549 1327.5h1v4.7h-1zM593 1327.5h1v4.7h-1zM720 1327.5h1v4.7h-1zM759 1327.5h1v4.7h-1z" fill="#698"/>
<path d="M551 1327.5h1v4.7h-1zM557 1327.5h1v4.7h-1zM567 1327.5h1v4.7h-1zM569 1327.5h1v4.7h-1zM580 1327.5h1v4.7h-1zM596 1327.5h1v4.7h-1zM600 1327.5h1v4.7h-1zM618 1327.5h1v4.7h-1zM627 1327.5h2v4.7h-2zM707 1327.5h1v4.7h-1zM711 1327.5h1v4.7h-1zM747 1327.5h1v4.7h-1z" fill="#e97"/>
<path d="M554 1327.5h1v4.7h-1zM743 1327.5h1v4.7h-1z" fill="#a98"/>
<path d="M555 1327.5h2v4.7h-2zM561 1327.5h2v4.7h-2zM566 1327.5h1v4.7h-1zM572 1327.5h1v4.7h-1zM581 1327.5h1v4.7h-1zM584 1327.5h3v4.7h-3zM594 1327.5h1v4.7h-1zM597 1327.5h1v4.7h-1zM601 1327.5h1v4.7h-1zM607 1327.5h1v4.7h-1zM611 1327.5h1v4.7h-1zM616 1327.5h1v4.7h-1zM623 1327.5h1v4.7h-1zM629 1327.5h1v4.7h-1zM682 1327.5h1v4.7h-1zM697 1327.5h1v4.7h-1zM705 1327.5h1v4.7h-1zM721 1327.5h2v4.7h-2zM725 1327.5h1v4.7h-1zM731 1327.5h1v4.7h-1zM735 1327.5h1v4.7h-1zM744 1327.5h1v4.7h-1zM748 1327.5h2v4.7h-2zM763 1327.5h1v4.7h-1zM766 1327.5h1v4.7h-1z" fill="#758"/>
<path d="M558 1327.5h1v4.7h-1zM619 1327.5h1v4.7h-1z" fill="#c9a"/>
<path d="M591 1327.5h1v4.7h-1zM712 1327.5h1v4.7h-1z" fill="#89a"/>
<path d="M692 1327.5h1v4.7h-1zM750 1327.5h1v4.7h-1zM757 1327.5h1v4.7h-1z" fill="#ccc"/>
<path d="M736 1327.5h1v4.7h-1zM756 1327.5h1v4.7h-1zM760 1327.5h1v4.7h-1z" fill="#8e8"/>
<rect x="481" y="1334.2" width="61" height="4.7" fill="#d2d2d2"/>
<rect x="630" y="1334.2" width="49" height="4.7" fill="#d2d2d2"/>
<path d="M542 1334.2h1v4.7h-1zM545 1334.2h2v4.7h-2zM548 1334.2h1v4.7h-1zM551 1334.2h3v4.7h-3zM556 1334.2h1v4.7h-1zM558 1334.2h2v4.7h-2zM569 1334.2h1v4.7h-1zM571 1334.2h1v4.7h-1zM574 1334.2h2v4.7h-2zM577 1334.2h1v4.7h-1zM580 1334.2h1v4.7h-1zM582 1334.2h1v4.7h-1zM585 1334.2h1v4.7h-1zM589 1334.2h2v4.7h-2zM592 1334.2h3v4.7h-3zM598 1334.2h2v4.7h-2zM601 1334.2h1v4.7h-1zM608 1334.2h2v4.7h-2zM611 1334.2h2v4.7h-2zM618 1334.2h2v4.7h-2zM624 1334.2h3v4.7h-3zM679 1334.2h1v4.7h-1zM681 1334.2h2v4.7h-2zM684 1334.2h1v4.7h-1zM705 1334.2h2v4.7h-2zM710 1334.2h1v4.7h-1zM713 1334.2h1v4.7h-1zM715 1334.2h1v4.7h-1zM722 1334.2h2v4.7h-2zM729 1334.2h1v4.7h-1zM731 1334.2h1v4.7h-1zM738 1334.2h1v4.7h-1zM741 1334.2h2v4.7h-2zM744 1334.2h2v4.7h-2zM748 1334.2h3v4.7h-3zM765 1334.2h2v4.7h-2zM768 1334.2h1v4.7h-1z" fill="#53d"/>
<path d="M543 1334.2h2v4.7h-2zM549 1334.2h1v4.7h-1zM557 1334.2h1v4.7h-1zM562 1334.2h4v4.7h-4zM570 1334.2h1v4.7h-1zM573 1334.2h1v4.7h-1zM576 1334.2h1v4.7h-1zM579 1334.2h1v4.7h-1zM581 1334.2h1v4.7h-1zM588 1334.2h1v4.7h-1zM591 1334.2h1v4.7h-1zM597 1334.2h1v4.7h-1zM602 1334.2h3v4.7h-3zM606 1334.2h1v4.7h-1zM610 1334.2h1v4.7h-1zM615 1334.2h1v4.7h-1zM617 1334.2h1v4.7h-1zM621 1334.2h3v4.7h-3zM628 1334.2h2v4.7h-2zM685 1334.2h1v4.7h-1zM688 1334.2h4v4.7h-4zM694 1334.2h2v4.7h-2zM699 1334.2h2v4.7h-2zM702 1334.2h2v4.7h-2zM707 1334.2h3v4.7h-3zM711 1334.2h2v4.7h-2zM714 1334.2h1v4.7h-1zM716 1334.2h1v4.7h-1zM718 1334.2h2v4.7h-2zM724 1334.2h1v4.7h-1zM730 1334.2h1v4.7h-1zM734 1334.2h1v4.7h-1zM737 1334.2h1v4.7h-1zM740 1334.2h1v4.7h-1zM743 1334.2h1v4.7h-1zM752 1334.2h3v4.7h-3zM756 1334.2h2v4.7h-2zM759 1334.2h1v4.7h-1zM761 1334.2h1v4.7h-1zM763 1334.2h2v4.7h-2zM767 1334.2h1v4.7h-1z" fill="#22b"/>
<path d="M547 1334.2h1v4.7h-1zM555 1334.2h1v4.7h-1zM614 1334.2h1v4.7h-1zM747 1334.2h1v4.7h-1z" fill="#a8d"/>
<path d="M550 1334.2h1v4.7h-1zM554 1334.2h1v4.7h-1zM560 1334.2h2v4.7h-2zM566 1334.2h3v4.7h-3zM572 1334.2h1v4.7h-1zM578 1334.2h1v4.7h-1zM584 1334.2h1v4.7h-1zM586 1334.2h2v4.7h-2zM596 1334.2h1v4.7h-1zM600 1334.2h1v4.7h-1zM607 1334.2h1v4.7h-1zM616 1334.2h1v4.7h-1zM620 1334.2h1v4.7h-1zM627 1334.2h1v4.7h-1zM680 1334.2h1v4.7h-1zM683 1334.2h1v4.7h-1zM686 1334.2h2v4.7h-2zM692 1334.2h2v4.7h-2zM697 1334.2h1v4.7h-1zM701 1334.2h1v4.7h-1zM704 1334.2h1v4.7h-1zM717 1334.2h1v4.7h-1zM720 1334.2h2v4.7h-2zM726 1334.2h3v4.7h-3zM733 1334.2h1v4.7h-1zM735 1334.2h2v4.7h-2zM746 1334.2h1v4.7h-1zM751 1334.2h1v4.7h-1zM758 1334.2h1v4.7h-1zM760 1334.2h1v4.7h-1z" fill="#84e"/>
<path d="M583 1334.2h1v4.7h-1zM595 1334.2h1v4.7h-1zM613 1334.2h1v4.7h-1zM698 1334.2h1v4.7h-1zM725 1334.2h1v4.7h-1zM739 1334.2h1v4.7h-1zM755 1334.2h1v4.7h-1zM762 1334.2h1v4.7h-1z" fill="#77c"/>
<path d="M605 1334.2h1v4.7h-1zM696 1334.2h1v4.7h-1zM732 1334.2h1v4.7h-1z" fill="#ccc"/>
<rect x="481" y="1341" width="61" height="4.7" fill="#d2d2d2"/>
<rect x="630" y="1341" width="49" height="4.7" fill="#d2d2d2"/>
<path d="M542 1341h1v4.7h-1zM548 1341h1v4.7h-1zM553 1341h1v4.7h-1zM557 1341h1v4.7h-1zM560 1341h1v4.7h-1zM563 1341h1v4.7h-1zM566 1341h1v4.7h-1zM577 1341h1v4.7h-1zM594 1341h1v4.7h-1zM623 1341h1v4.7h-1zM629 1341h1v4.7h-1zM682 1341h2v4.7h-2zM690 1341h1v4.7h-1zM702 1341h1v4.7h-1zM706 1341h2v4.7h-2zM709 1341h1v4.7h-1zM714 1341h1v4.7h-1zM718 1341h1v4.7h-1zM728 1341h2v4.7h-2zM735 1341h1v4.7h-1zM743 1341h1v4.7h-1zM749 1341h1v4.7h-1zM753 1341h1v4.7h-1zM760 1341h1v4.7h-1z" fill="#877"/>
<path d="M543 1341h1v4.7h-1zM549 1341h1v4.7h-1zM555 1341h1v4.7h-1zM561 1341h2v4.7h-2zM572 1341h1v4.7h-1zM574 1341h1v4.7h-1zM578 1341h1v4.7h-1zM580 1341h1v4.7h-1zM583 1341h1v4.7h-1zM586 1341h2v4.7h-2zM591 1341h1v4.7h-1zM597 1341h2v4.7h-2zM600 1341h1v4.7h-1zM603 1341h1v4.7h-1zM608 1341h2v4.7h-2zM615 1341h1v4.7h-1zM617 1341h1v4.7h-1zM622 1341h1v4.7h-1zM624 1341h1v4.7h-1zM626 1341h1v4.7h-1zM680 1341h1v4.7h-1zM686 1341h2v4.7h-2zM689 1341h1v4.7h-1zM698 1341h1v4.7h-1zM710 1341h1v4.7h-1zM712 1341h1v4.7h-1zM715 1341h1v4.7h-1zM726 1341h1v4.7h-1zM732 1341h1v4.7h-1zM734 1341h1v4.7h-1zM736 1341h1v4.7h-1zM738 1341h5v4.7h-5zM745 1341h1v4.7h-1zM748 1341h1v4.7h-1zM750 1341h2v4.7h-2zM756 1341h1v4.7h-1zM764 1341h1v4.7h-1zM766 1341h1v4.7h-1zM768 1341h1v4.7h-1z" fill="#c65"/>
<path d="M544 1341h1v4.7h-1zM558 1341h1v4.7h-1zM568 1341h1v4.7h-1zM579 1341h1v4.7h-1zM584 1341h1v4.7h-1zM606 1341h2v4.7h-2zM611 1341h1v4.7h-1zM614 1341h1v4.7h-1zM621 1341h1v4.7h-1zM627 1341h1v4.7h-1zM693 1341h1v4.7h-1zM699 1341h2v4.7h-2zM719 1341h1v4.7h-1zM721 1341h1v4.7h-1zM731 1341h1v4.7h-1zM752 1341h1v4.7h-1z" fill="#ec4"/>
<path d="M545 1341h1v4.7h-1zM613 1341h1v4.7h-1zM755 1341h1v4.7h-1z" fill="#96a"/>
<path d="M546 1341h1v4.7h-1z" fill="#bc8"/>
<path d="M547 1341h1v4.7h-1zM569 1341h1v4.7h-1zM576 1341h1v4.7h-1zM585 1341h1v4.7h-1zM588 1341h1v4.7h-1zM590 1341h1v4.7h-1zM593 1341h1v4.7h-1zM684 1341h2v4.7h-2zM747 1341h1v4.7h-1z" fill="#d94"/>
<path d="M550 1341h1v4.7h-1zM554 1341h1v4.7h-1zM564 1341h1v4.7h-1zM567 1341h1v4.7h-1zM570 1341h1v4.7h-1zM595 1341h1v4.7h-1zM688 1341h1v4.7h-1zM705 1341h1v4.7h-1z" fill="#d48"/>
<path d="M551 1341h1v4.7h-1zM575 1341h1v4.7h-1zM581 1341h1v4.7h-1zM592 1341h1v4.7h-1zM599 1341h1v4.7h-1zM601 1341h2v4.7h-2zM619 1341h2v4.7h-2zM625 1341h1v4.7h-1zM628 1341h1v4.7h-1zM679 1341h1v4.7h-1zM681 1341h1v4.7h-1zM691 1341h1v4.7h-1zM694 1341h2v4.7h-2zM697 1341h1v4.7h-1zM703 1341h1v4.7h-1zM716 1341h1v4.7h-1zM723 1341h1v4.7h-1zM754 1341h1v4.7h-1zM761 1341h1v4.7h-1zM763 1341h1v4.7h-1zM767 1341h1v4.7h-1z" fill="#588"/>
<path d="M552 1341h1v4.7h-1zM565 1341h1v4.7h-1zM612 1341h1v4.7h-1zM708 1341h1v4.7h-1zM711 1341h1v4.7h-1zM717 1341h1v4.7h-1zM727 1341h1v4.7h-1zM737 1341h1v4.7h-1z" fill="#b94"/>
<path d="M556 1341h1v4.7h-1zM604 1341h1v4.7h-1zM725 1341h1v4.7h-1zM759 1341h1v4.7h-1z" fill="#ccc"/>
<path d="M559 1341h1v4.7h-1z" fill="#d8c"/>
<path d="M571 1341h1v4.7h-1zM605 1341h1v4.7h-1zM618 1341h1v4.7h-1z" fill="#d88"/>
<path d="M573 1341h1v4.7h-1zM582 1341h1v4.7h-1zM744 1341h1v4.7h-1zM757 1341h1v4.7h-1z" fill="#ac4"/>
<path d="M589 1341h1v4.7h-1z" fill="#dc8"/>
<path d="M596 1341h1v4.7h-1zM692 1341h1v4.7h-1zM704 1341h1v4.7h-1z" fill="#9aa"/>
<path d="M610 1341h1v4.7h-1zM758 1341h1v4.7h-1zM762 1341h1v4.7h-1z" fill="#9a6"/>
<path d="M616 1341h1v4.7h-1z" fill="#7a6"/>
<path d="M696 1341h1v4.7h-1zM701 1341h1v4.7h-1zM713 1341h1v4.7h-1zM722 1341h1v4.7h-1zM724 1341h1v4.7h-1zM765 1341h1v4.7h-1z" fill="#c99"/>
<path d="M720 1341h1v4.7h-1zM730 1341h1v4.7h-1zM746 1341h1v4.7h-1z" fill="#d3b"/>
<path d="M733 1341h1v4.7h-1z" fill="#cc4"/>
<rect x="481" y="1347.7" width="61" height="4.7" fill="#d2d2d2"/>
<rect x="630" y="1347.7" width="49" height="4.7" fill="#d2d2d2"/>
<path d="M542 1347.7h1v4.7h-1zM545 1347.7h1v4.7h-1zM550 1347.7h1v4.7h-1zM555 1347.7h2v4.7h-2zM566 1347.7h1v4.7h-1zM574 1347.7h1v4.7h-1zM580 1347.7h1v4.7h-1zM584 1347.7h1v4.7h-1zM587 1347.7h1v4.7h-1zM592 1347.7h1v4.7h-1zM594 1347.7h1v4.7h-1zM604 1347.7h1v4.7h-1zM611 1347.7h1v4.7h-1zM614 1347.7h1v4.7h-1zM617 1347.7h1v4.7h-1zM620 1347.7h1v4.7h-1zM628 1347.7h1v4.7h-1zM680 1347.7h1v4.7h-1zM684 1347.7h1v4.7h-1zM687 1347.7h1v4.7h-1zM689 1347.7h1v4.7h-1zM694 1347.7h2v4.7h-2zM701 1347.7h1v4.7h-1zM709 1347.7h2v4.7h-2zM719 1347.7h1v4.7h-1zM721 1347.7h1v4.7h-1zM731 1347.7h1v4.7h-1zM734 1347.7h1v4.7h-1zM736 1347.7h2v4.7h-2zM753 1347.7h1v4.7h-1zM756 1347.7h1v4.7h-1zM759 1347.7h1v4.7h-1zM765 1347.7h1v4.7h-1z" fill="#33b"/>
<path d="M543 1347.7h1v4.7h-1zM561 1347.7h1v4.7h-1zM563 1347.7h1v4.7h-1zM565 1347.7h1v4.7h-1zM572 1347.7h2v4.7h-2zM577 1347.7h1v4.7h-1zM589 1347.7h3v4.7h-3zM601 1347.7h1v4.7h-1zM603 1347.7h1v4.7h-1zM608 1347.7h1v4.7h-1zM619 1347.7h1v4.7h-1zM625 1347.7h1v4.7h-1zM692 1347.7h1v4.7h-1zM696 1347.7h1v4.7h-1zM705 1347.7h1v4.7h-1zM712 1347.7h1v4.7h-1zM726 1347.7h1v4.7h-1zM729 1347.7h1v4.7h-1zM732 1347.7h1v4.7h-1zM743 1347.7h1v4.7h-1zM746 1347.7h1v4.7h-1zM752 1347.7h1v4.7h-1zM758 1347.7h1v4.7h-1z" fill="#788"/>
<path d="M544 1347.7h1v4.7h-1zM546 1347.7h3v4.7h-3zM551 1347.7h1v4.7h-1zM554 1347.7h1v4.7h-1zM559 1347.7h2v4.7h-2zM562 1347.7h1v4.7h-1zM567 1347.7h1v4.7h-1zM569 1347.7h1v4.7h-1zM576 1347.7h1v4.7h-1zM578 1347.7h2v4.7h-2zM581 1347.7h2v4.7h-2zM585 1347.7h2v4.7h-2zM588 1347.7h1v4.7h-1zM597 1347.7h3v4.7h-3zM605 1347.7h3v4.7h-3zM609 1347.7h2v4.7h-2zM613 1347.7h1v4.7h-1zM615 1347.7h1v4.7h-1zM618 1347.7h1v4.7h-1zM621 1347.7h1v4.7h-1zM623 1347.7h2v4.7h-2zM627 1347.7h1v4.7h-1zM629 1347.7h1v4.7h-1zM681 1347.7h2v4.7h-2zM686 1347.7h1v4.7h-1zM688 1347.7h1v4.7h-1zM690 1347.7h1v4.7h-1zM693 1347.7h1v4.7h-1zM697 1347.7h1v4.7h-1zM700 1347.7h1v4.7h-1zM702 1347.7h3v4.7h-3zM706 1347.7h2v4.7h-2zM711 1347.7h1v4.7h-1zM715 1347.7h1v4.7h-1zM720 1347.7h1v4.7h-1zM723 1347.7h3v4.7h-3zM727 1347.7h2v4.7h-2zM733 1347.7h1v4.7h-1zM738 1347.7h1v4.7h-1zM740 1347.7h1v4.7h-1zM742 1347.7h1v4.7h-1zM744 1347.7h1v4.7h-1zM747 1347.7h1v4.7h-1zM749 1347.7h3v4.7h-3zM754 1347.7h2v4.7h-2zM757 1347.7h1v4.7h-1zM760 1347.7h1v4.7h-1zM762 1347.7h2v4.7h-2zM768 1347.7h1v4.7h-1z" fill="#ad5"/>
<path d="M549 1347.7h1v4.7h-1zM558 1347.7h1v4.7h-1zM571 1347.7h1v4.7h-1zM575 1347.7h1v4.7h-1zM593 1347.7h1v4.7h-1zM595 1347.7h1v4.7h-1zM602 1347.7h1v4.7h-1zM622 1347.7h1v4.7h-1zM626 1347.7h1v4.7h-1zM679 1347.7h1v4.7h-1zM683 1347.7h1v4.7h-1zM691 1347.7h1v4.7h-1zM698 1347.7h1v4.7h-1zM708 1347.7h1v4.7h-1zM713 1347.7h1v4.7h-1zM716 1347.7h2v4.7h-2zM730 1347.7h1v4.7h-1zM739 1347.7h1v4.7h-1zM745 1347.7h1v4.7h-1zM761 1347.7h1v4.7h-1zM764 1347.7h1v4.7h-1zM766 1347.7h2v4.7h-2z" fill="#bd9"/>
<path d="M552 1347.7h2v4.7h-2zM557 1347.7h1v4.7h-1zM570 1347.7h1v4.7h-1zM596 1347.7h1v4.7h-1zM612 1347.7h1v4.7h-1zM616 1347.7h1v4.7h-1zM699 1347.7h1v4.7h-1zM718 1347.7h1v4.7h-1zM722 1347.7h1v4.7h-1zM735 1347.7h1v4.7h-1zM748 1347.7h1v4.7h-1z" fill="#88c"/>
<path d="M564 1347.7h1v4.7h-1zM568 1347.7h1v4.7h-1zM583 1347.7h1v4.7h-1zM600 1347.7h1v4.7h-1zM685 1347.7h1v4.7h-1zM714 1347.7h1v4.7h-1zM741 1347.7h1v4.7h-1z" fill="#ccc"/>
<path d="M481 1354.4h1v4.7h-1zM487 1354.4h1v4.7h-1zM489 1354.4h1v4.7h-1zM491 1354.4h1v4.7h-1zM496 1354.4h1v4.7h-1zM499 1354.4h2v4.7h-2zM513 1354.4h1v4.7h-1zM516 1354.4h1v4.7h-1zM520 1354.4h1v4.7h-1zM530 1354.4h1v4.7h-1zM533 1354.4h2v4.7h-2zM538 1354.4h2v4.7h-2zM541 1354.4h1v4.7h-1zM543 1354.4h1v4.7h-1zM546 1354.4h1v4.7h-1zM551 1354.4h1v4.7h-1zM556 1354.4h1v4.7h-1zM559 1354.4h1v4.7h-1zM561 1354.4h1v4.7h-1zM566 1354.4h1v4.7h-1zM571 1354.4h2v4.7h-2zM574 1354.4h1v4.7h-1zM578 1354.4h1v4.7h-1zM585 1354.4h2v4.7h-2zM588 1354.4h1v4.7h-1zM591 1354.4h3v4.7h-3zM596 1354.4h1v4.7h-1zM598 1354.4h1v4.7h-1zM600 1354.4h2v4.7h-2zM605 1354.4h2v4.7h-2zM611 1354.4h3v4.7h-3zM617 1354.4h1v4.7h-1zM619 1354.4h2v4.7h-2zM625 1354.4h2v4.7h-2zM630 1354.4h1v4.7h-1zM632 1354.4h1v4.7h-1zM635 1354.4h1v4.7h-1zM642 1354.4h1v4.7h-1zM649 1354.4h1v4.7h-1zM670 1354.4h1v4.7h-1zM675 1354.4h1v4.7h-1zM678 1354.4h1v4.7h-1zM684 1354.4h2v4.7h-2zM691 1354.4h3v4.7h-3zM704 1354.4h1v4.7h-1zM710 1354.4h1v4.7h-1zM712 1354.4h1v4.7h-1zM716 1354.4h3v4.7h-3zM725 1354.4h1v4.7h-1zM727 1354.4h1v4.7h-1zM729 1354.4h1v4.7h-1zM736 1354.4h1v4.7h-1zM741 1354.4h1v4.7h-1zM745 1354.4h2v4.7h-2zM749 1354.4h1v4.7h-1zM755 1354.4h2v4.7h-2zM759 1354.4h1v4.7h-1zM761 1354.4h1v4.7h-1zM767 1354.4h1v4.7h-1z" fill="#bb6"/>
<path d="M482 1354.4h2v4.7h-2zM485 1354.4h2v4.7h-2zM488 1354.4h1v4.7h-1zM492 1354.4h4v4.7h-4zM497 1354.4h1v4.7h-1zM501 1354.4h1v4.7h-1zM503 1354.4h3v4.7h-3zM507 1354.4h6v4.7h-6zM514 1354.4h2v4.7h-2zM518 1354.4h2v4.7h-2zM521 1354.4h9v4.7h-9zM531 1354.4h1v4.7h-1zM535 1354.4h3v4.7h-3zM540 1354.4h1v4.7h-1zM542 1354.4h1v4.7h-1zM544 1354.4h1v4.7h-1zM549 1354.4h2v4.7h-2zM553 1354.4h2v4.7h-2zM558 1354.4h1v4.7h-1zM560 1354.4h1v4.7h-1zM562 1354.4h4v4.7h-4zM569 1354.4h1v4.7h-1zM573 1354.4h1v4.7h-1zM575 1354.4h1v4.7h-1zM577 1354.4h1v4.7h-1zM579 1354.4h1v4.7h-1zM583 1354.4h1v4.7h-1zM587 1354.4h1v4.7h-1zM590 1354.4h1v4.7h-1zM594 1354.4h1v4.7h-1zM602 1354.4h3v4.7h-3zM607 1354.4h3v4.7h-3zM616 1354.4h1v4.7h-1zM618 1354.4h1v4.7h-1zM622 1354.4h2v4.7h-2zM628 1354.4h1v4.7h-1zM633 1354.4h1v4.7h-1zM636 1354.4h2v4.7h-2zM639 1354.4h3v4.7h-3zM644 1354.4h1v4.7h-1zM646 1354.4h3v4.7h-3zM650 1354.4h2v4.7h-2zM653 1354.4h2v4.7h-2zM656 1354.4h1v4.7h-1zM658 1354.4h7v4.7h-7zM666 1354.4h1v4.7h-1zM669 1354.4h1v4.7h-1zM671 1354.4h1v4.7h-1zM673 1354.4h2v4.7h-2zM676 1354.4h2v4.7h-2zM679 1354.4h1v4.7h-1zM681 1354.4h3v4.7h-3zM686 1354.4h1v4.7h-1zM688 1354.4h3v4.7h-3zM694 1354.4h2v4.7h-2zM697 1354.4h7v4.7h-7zM706 1354.4h1v4.7h-1zM708 1354.4h2v4.7h-2zM713 1354.4h2v4.7h-2zM720 1354.4h3v4.7h-3zM726 1354.4h1v4.7h-1zM728 1354.4h1v4.7h-1zM732 1354.4h2v4.7h-2zM737 1354.4h2v4.7h-2zM742 1354.4h1v4.7h-1zM748 1354.4h1v4.7h-1zM750 1354.4h1v4.7h-1zM752 1354.4h3v4.7h-3zM757 1354.4h1v4.7h-1zM762 1354.4h5v4.7h-5zM768 1354.4h1v4.7h-1z" fill="#ea6"/>
<path d="M484 1354.4h1v4.7h-1zM490 1354.4h1v4.7h-1zM498 1354.4h1v4.7h-1zM502 1354.4h1v4.7h-1zM506 1354.4h1v4.7h-1zM517 1354.4h1v4.7h-1zM532 1354.4h1v4.7h-1zM545 1354.4h1v4.7h-1zM547 1354.4h2v4.7h-2zM552 1354.4h1v4.7h-1zM555 1354.4h1v4.7h-1zM557 1354.4h1v4.7h-1zM567 1354.4h2v4.7h-2zM570 1354.4h1v4.7h-1zM576 1354.4h1v4.7h-1zM580 1354.4h3v4.7h-3zM584 1354.4h1v4.7h-1zM589 1354.4h1v4.7h-1zM595 1354.4h1v4.7h-1zM597 1354.4h1v4.7h-1zM599 1354.4h1v4.7h-1zM610 1354.4h1v4.7h-1zM614 1354.4h2v4.7h-2zM621 1354.4h1v4.7h-1zM624 1354.4h1v4.7h-1zM627 1354.4h1v4.7h-1zM629 1354.4h1v4.7h-1zM631 1354.4h1v4.7h-1zM634 1354.4h1v4.7h-1zM638 1354.4h1v4.7h-1zM643 1354.4h1v4.7h-1zM645 1354.4h1v4.7h-1zM652 1354.4h1v4.7h-1zM655 1354.4h1v4.7h-1zM657 1354.4h1v4.7h-1zM665 1354.4h1v4.7h-1zM667 1354.4h2v4.7h-2zM672 1354.4h1v4.7h-1zM680 1354.4h1v4.7h-1zM687 1354.4h1v4.7h-1zM696 1354.4h1v4.7h-1zM705 1354.4h1v4.7h-1zM707 1354.4h1v4.7h-1zM711 1354.4h1v4.7h-1zM715 1354.4h1v4.7h-1zM719 1354.4h1v4.7h-1zM723 1354.4h2v4.7h-2zM730 1354.4h2v4.7h-2zM734 1354.4h2v4.7h-2zM739 1354.4h2v4.7h-2zM743 1354.4h2v4.7h-2zM747 1354.4h1v4.7h-1zM751 1354.4h1v4.7h-1zM758 1354.4h1v4.7h-1zM760 1354.4h1v4.7h-1z" fill="#8d6"/>
<path d="M481 1361.1h1v4.7h-1zM483 1361.1h1v4.7h-1zM485 1361.1h1v4.7h-1zM488 1361.1h1v4.7h-1zM492 1361.1h1v4.7h-1zM496 1361.1h1v4.7h-1zM499 1361.1h1v4.7h-1zM501 1361.1h1v4.7h-1zM504 1361.1h1v4.7h-1zM507 1361.1h1v4.7h-1zM510 1361.1h2v4.7h-2zM513 1361.1h1v4.7h-1zM520 1361.1h1v4.7h-1zM524 1361.1h1v4.7h-1zM526 1361.1h1v4.7h-1zM528 1361.1h2v4.7h-2zM536 1361.1h1v4.7h-1zM539 1361.1h1v4.7h-1zM541 1361.1h1v4.7h-1zM548 1361.1h1v4.7h-1zM557 1361.1h1v4.7h-1zM563 1361.1h1v4.7h-1zM566 1361.1h1v4.7h-1zM569 1361.1h1v4.7h-1zM572 1361.1h2v4.7h-2zM577 1361.1h3v4.7h-3zM582 1361.1h1v4.7h-1zM587 1361.1h3v4.7h-3zM592 1361.1h1v4.7h-1zM594 1361.1h1v4.7h-1zM596 1361.1h1v4.7h-1zM608 1361.1h1v4.7h-1zM614 1361.1h1v4.7h-1zM616 1361.1h1v4.7h-1zM619 1361.1h1v4.7h-1zM629 1361.1h1v4.7h-1zM632 1361.1h1v4.7h-1zM638 1361.1h1v4.7h-1zM646 1361.1h2v4.7h-2zM652 1361.1h1v4.7h-1zM661 1361.1h1v4.7h-1zM664 1361.1h2v4.7h-2zM671 1361.1h1v4.7h-1zM673 1361.1h1v4.7h-1zM680 1361.1h1v4.7h-1zM682 1361.1h2v4.7h-2zM687 1361.1h1v4.7h-1zM693 1361.1h2v4.7h-2zM697 1361.1h2v4.7h-2zM700 1361.1h1v4.7h-1zM703 1361.1h1v4.7h-1zM706 1361.1h2v4.7h-2zM713 1361.1h1v4.7h-1zM715 1361.1h3v4.7h-3zM722 1361.1h1v4.7h-1zM724 1361.1h2v4.7h-2zM731 1361.1h1v4.7h-1zM734 1361.1h1v4.7h-1zM737 1361.1h2v4.7h-2zM745 1361.1h1v4.7h-1zM747 1361.1h2v4.7h-2zM754 1361.1h1v4.7h-1zM756 1361.1h1v4.7h-1zM764 1361.1h1v4.7h-1zM768 1361.1h1v4.7h-1z" fill="#c78"/>
<path d="M482 1361.1h1v4.7h-1zM484 1361.1h1v4.7h-1zM486 1361.1h2v4.7h-2zM489 1361.1h2v4.7h-2zM493 1361.1h2v4.7h-2zM497 1361.1h2v4.7h-2zM503 1361.1h1v4.7h-1zM505 1361.1h1v4.7h-1zM512 1361.1h1v4.7h-1zM514 1361.1h6v4.7h-6zM521 1361.1h3v4.7h-3zM527 1361.1h1v4.7h-1zM530 1361.1h6v4.7h-6zM537 1361.1h2v4.7h-2zM540 1361.1h1v4.7h-1zM544 1361.1h3v4.7h-3zM549 1361.1h5v4.7h-5zM555 1361.1h2v4.7h-2zM558 1361.1h3v4.7h-3zM564 1361.1h2v4.7h-2zM567 1361.1h2v4.7h-2zM574 1361.1h3v4.7h-3zM580 1361.1h2v4.7h-2zM584 1361.1h3v4.7h-3zM591 1361.1h1v4.7h-1zM593 1361.1h1v4.7h-1zM598 1361.1h1v4.7h-1zM600 1361.1h2v4.7h-2zM603 1361.1h1v4.7h-1zM605 1361.1h1v4.7h-1zM607 1361.1h1v4.7h-1zM609 1361.1h4v4.7h-4zM617 1361.1h2v4.7h-2zM620 1361.1h2v4.7h-2zM623 1361.1h2v4.7h-2zM628 1361.1h1v4.7h-1zM630 1361.1h1v4.7h-1zM633 1361.1h5v4.7h-5zM641 1361.1h5v4.7h-5zM649 1361.1h3v4.7h-3zM658 1361.1h3v4.7h-3zM663 1361.1h1v4.7h-1zM666 1361.1h1v4.7h-1zM670 1361.1h1v4.7h-1zM672 1361.1h1v4.7h-1zM674 1361.1h2v4.7h-2zM679 1361.1h1v4.7h-1zM681 1361.1h1v4.7h-1zM684 1361.1h1v4.7h-1zM686 1361.1h1v4.7h-1zM688 1361.1h5v4.7h-5zM695 1361.1h1v4.7h-1zM699 1361.1h1v4.7h-1zM701 1361.1h2v4.7h-2zM705 1361.1h1v4.7h-1zM709 1361.1h3v4.7h-3zM714 1361.1h1v4.7h-1zM718 1361.1h1v4.7h-1zM720 1361.1h2v4.7h-2zM728 1361.1h2v4.7h-2zM732 1361.1h1v4.7h-1zM735 1361.1h2v4.7h-2zM742 1361.1h3v4.7h-3zM746 1361.1h1v4.7h-1zM749 1361.1h3v4.7h-3zM753 1361.1h1v4.7h-1zM755 1361.1h1v4.7h-1zM759 1361.1h2v4.7h-2zM765 1361.1h3v4.7h-3z" fill="#c82"/>
<path d="M491 1361.1h1v4.7h-1zM495 1361.1h1v4.7h-1zM500 1361.1h1v4.7h-1zM502 1361.1h1v4.7h-1zM506 1361.1h1v4.7h-1zM508 1361.1h2v4.7h-2zM525 1361.1h1v4.7h-1zM542 1361.1h2v4.7h-2zM547 1361.1h1v4.7h-1zM554 1361.1h1v4.7h-1zM561 1361.1h2v4.7h-2zM570 1361.1h2v4.7h-2zM583 1361.1h1v4.7h-1zM590 1361.1h1v4.7h-1zM595 1361.1h1v4.7h-1zM597 1361.1h1v4.7h-1zM599 1361.1h1v4.7h-1zM602 1361.1h1v4.7h-1zM604 1361.1h1v4.7h-1zM606 1361.1h1v4.7h-1zM613 1361.1h1v4.7h-1zM615 1361.1h1v4.7h-1zM622 1361.1h1v4.7h-1zM625 1361.1h3v4.7h-3zM631 1361.1h1v4.7h-1zM639 1361.1h2v4.7h-2zM648 1361.1h1v4.7h-1zM653 1361.1h5v4.7h-5zM662 1361.1h1v4.7h-1zM667 1361.1h3v4.7h-3zM676 1361.1h3v4.7h-3zM685 1361.1h1v4.7h-1zM696 1361.1h1v4.7h-1zM704 1361.1h1v4.7h-1zM708 1361.1h1v4.7h-1zM712 1361.1h1v4.7h-1zM719 1361.1h1v4.7h-1zM723 1361.1h1v4.7h-1zM726 1361.1h2v4.7h-2zM730 1361.1h1v4.7h-1zM733 1361.1h1v4.7h-1zM739 1361.1h3v4.7h-3zM752 1361.1h1v4.7h-1zM757 1361.1h2v4.7h-2zM761 1361.1h3v4.7h-3z" fill="#c6d"/>
<path d="M481 1367.8h1v4.7h-1zM495 1367.8h1v4.7h-1zM503 1367.8h1v4.7h-1zM523 1367.8h1v4.7h-1zM527 1367.8h1v4.7h-1zM539 1367.8h1v4.7h-1zM547 1367.8h1v4.7h-1zM553 1367.8h1v4.7h-1zM555 1367.8h2v4.7h-2zM571 1367.8h1v4.7h-1zM581 1367.8h2v4.7h-2zM584 1367.8h1v4.7h-1zM587 1367.8h1v4.7h-1zM602 1367.8h1v4.7h-1zM608 1367.8h1v4.7h-1zM613 1367.8h1v4.7h-1zM618 1367.8h1v4.7h-1zM622 1367.8h1v4.7h-1zM624 1367.8h1v4.7h-1zM639 1367.8h1v4.7h-1zM643 1367.8h1v4.7h-1zM650 1367.8h1v4.7h-1zM662 1367.8h1v4.7h-1zM664 1367.8h1v4.7h-1zM668 1367.8h1v4.7h-1zM676 1367.8h3v4.7h-3zM684 1367.8h1v4.7h-1zM689 1367.8h2v4.7h-2zM697 1367.8h1v4.7h-1zM700 1367.8h2v4.7h-2zM723 1367.8h1v4.7h-1zM734 1367.8h1v4.7h-1zM750 1367.8h1v4.7h-1zM763 1367.8h2v4.7h-2z" fill="#966"/>
<path d="M482 1367.8h1v4.7h-1zM485 1367.8h1v4.7h-1zM492 1367.8h2v4.7h-2zM496 1367.8h1v4.7h-1zM499 1367.8h1v4.7h-1zM501 1367.8h2v4.7h-2zM504 1367.8h1v4.7h-1zM507 1367.8h3v4.7h-3zM511 1367.8h1v4.7h-1zM515 1367.8h2v4.7h-2zM520 1367.8h2v4.7h-2zM530 1367.8h1v4.7h-1zM534 1367.8h1v4.7h-1zM537 1367.8h1v4.7h-1zM544 1367.8h1v4.7h-1zM549 1367.8h1v4.7h-1zM552 1367.8h1v4.7h-1zM559 1367.8h1v4.7h-1zM563 1367.8h1v4.7h-1zM565 1367.8h2v4.7h-2zM568 1367.8h3v4.7h-3zM575 1367.8h1v4.7h-1zM577 1367.8h1v4.7h-1zM579 1367.8h1v4.7h-1zM585 1367.8h2v4.7h-2zM588 1367.8h1v4.7h-1zM594 1367.8h1v4.7h-1zM596 1367.8h3v4.7h-3zM600 1367.8h1v4.7h-1zM603 1367.8h1v4.7h-1zM610 1367.8h1v4.7h-1zM612 1367.8h1v4.7h-1zM615 1367.8h1v4.7h-1zM619 1367.8h1v4.7h-1zM621 1367.8h1v4.7h-1zM625 1367.8h2v4.7h-2zM629 1367.8h1v4.7h-1zM655 1367.8h1v4.7h-1zM670 1367.8h1v4.7h-1zM675 1367.8h1v4.7h-1zM681 1367.8h1v4.7h-1zM703 1367.8h1v4.7h-1zM747 1367.8h1v4.7h-1z" fill="#d19"/>
<path d="M483 1367.8h2v4.7h-2zM486 1367.8h2v4.7h-2zM489 1367.8h3v4.7h-3zM494 1367.8h1v4.7h-1zM497 1367.8h2v4.7h-2zM500 1367.8h1v4.7h-1zM505 1367.8h2v4.7h-2zM512 1367.8h1v4.7h-1zM514 1367.8h1v4.7h-1zM517 1367.8h3v4.7h-3zM522 1367.8h1v4.7h-1zM526 1367.8h1v4.7h-1zM528 1367.8h1v4.7h-1zM531 1367.8h2v4.7h-2zM535 1367.8h1v4.7h-1zM538 1367.8h1v4.7h-1zM540 1367.8h2v4.7h-2zM543 1367.8h1v4.7h-1zM545 1367.8h1v4.7h-1zM548 1367.8h1v4.7h-1zM551 1367.8h1v4.7h-1zM554 1367.8h1v4.7h-1zM562 1367.8h1v4.7h-1zM564 1367.8h1v4.7h-1zM567 1367.8h1v4.7h-1zM572 1367.8h2v4.7h-2zM583 1367.8h1v4.7h-1zM592 1367.8h2v4.7h-2zM595 1367.8h1v4.7h-1zM601 1367.8h1v4.7h-1zM605 1367.8h1v4.7h-1zM614 1367.8h1v4.7h-1zM616 1367.8h2v4.7h-2zM623 1367.8h1v4.7h-1zM627 1367.8h1v4.7h-1zM651 1367.8h1v4.7h-1zM663 1367.8h1v4.7h-1zM692 1367.8h1v4.7h-1zM698 1367.8h1v4.7h-1zM707 1367.8h1v4.7h-1zM724 1367.8h1v4.7h-1zM726 1367.8h1v4.7h-1z" fill="#849"/>
<path d="M488 1367.8h1v4.7h-1zM510 1367.8h1v4.7h-1zM513 1367.8h1v4.7h-1zM525 1367.8h1v4.7h-1zM529 1367.8h1v4.7h-1zM536 1367.8h1v4.7h-1zM542 1367.8h1v4.7h-1zM546 1367.8h1v4.7h-1zM550 1367.8h1v4.7h-1zM558 1367.8h1v4.7h-1zM560 1367.8h1v4.7h-1zM574 1367.8h1v4.7h-1zM576 1367.8h1v4.7h-1zM578 1367.8h1v4.7h-1zM580 1367.8h1v4.7h-1zM590 1367.8h2v4.7h-2zM604 1367.8h1v4.7h-1zM606 1367.8h2v4.7h-2zM609 1367.8h1v4.7h-1zM611 1367.8h1v4.7h-1zM620 1367.8h1v4.7h-1zM628 1367.8h1v4.7h-1zM638 1367.8h1v4.7h-1zM642 1367.8h1v4.7h-1zM647 1367.8h1v4.7h-1zM654 1367.8h1v4.7h-1zM667 1367.8h1v4.7h-1zM669 1367.8h1v4.7h-1zM685 1367.8h1v4.7h-1zM705 1367.8h1v4.7h-1zM709 1367.8h1v4.7h-1zM712 1367.8h2v4.7h-2zM717 1367.8h1v4.7h-1zM731 1367.8h1v4.7h-1zM733 1367.8h1v4.7h-1zM749 1367.8h1v4.7h-1zM751 1367.8h1v4.7h-1zM761 1367.8h1v4.7h-1zM765 1367.8h2v4.7h-2z" fill="#469"/>
<path d="M524 1367.8h1v4.7h-1zM533 1367.8h1v4.7h-1zM599 1367.8h1v4.7h-1zM630 1367.8h7v4.7h-7zM644 1367.8h2v4.7h-2zM648 1367.8h2v4.7h-2zM653 1367.8h1v4.7h-1zM656 1367.8h2v4.7h-2zM661 1367.8h1v4.7h-1zM665 1367.8h1v4.7h-1zM671 1367.8h3v4.7h-3zM680 1367.8h1v4.7h-1zM682 1367.8h1v4.7h-1zM686 1367.8h2v4.7h-2zM691 1367.8h1v4.7h-1zM693 1367.8h1v4.7h-1zM696 1367.8h1v4.7h-1zM699 1367.8h1v4.7h-1zM702 1367.8h1v4.7h-1zM704 1367.8h1v4.7h-1zM706 1367.8h1v4.7h-1zM708 1367.8h1v4.7h-1zM711 1367.8h1v4.7h-1zM714 1367.8h2v4.7h-2zM718 1367.8h1v4.7h-1zM721 1367.8h2v4.7h-2zM725 1367.8h1v4.7h-1zM727 1367.8h2v4.7h-2zM732 1367.8h1v4.7h-1zM735 1367.8h1v4.7h-1zM737 1367.8h7v4.7h-7zM745 1367.8h2v4.7h-2zM748 1367.8h1v4.7h-1zM752 1367.8h1v4.7h-1zM754 1367.8h3v4.7h-3zM758 1367.8h1v4.7h-1zM760 1367.8h1v4.7h-1zM762 1367.8h1v4.7h-1zM767 1367.8h2v4.7h-2z" fill="#6b3"/>
<path d="M557 1367.8h1v4.7h-1zM561 1367.8h1v4.7h-1zM589 1367.8h1v4.7h-1zM637 1367.8h1v4.7h-1zM640 1367.8h2v4.7h-2zM646 1367.8h1v4.7h-1zM652 1367.8h1v4.7h-1zM658 1367.8h3v4.7h-3zM666 1367.8h1v4.7h-1zM674 1367.8h1v4.7h-1zM679 1367.8h1v4.7h-1zM683 1367.8h1v4.7h-1zM688 1367.8h1v4.7h-1zM694 1367.8h2v4.7h-2zM710 1367.8h1v4.7h-1zM716 1367.8h1v4.7h-1zM719 1367.8h2v4.7h-2zM729 1367.8h2v4.7h-2zM736 1367.8h1v4.7h-1zM744 1367.8h1v4.7h-1zM753 1367.8h1v4.7h-1zM757 1367.8h1v4.7h-1zM759 1367.8h1v4.7h-1z" fill="#586"/>
<rect x="481" y="1374.6" width="149" height="4.7" fill="#3a74f2"/>
<rect x="630" y="1374.6" width="139" height="4.7" fill="#e00505"/>
</g>
<path d="M481 1381.1h1v114.9h-1zM490 1381.1h1v114.9h-1zM497 1381.1h1v114.9h-1zM500 1381.1h1v114.9h-1zM504 1381.1h3v114.9h-3zM511 1381.1h1v114.9h-1zM513 1381.1h3v114.9h-3zM518 1381.1h2v114.9h-2zM523 1381.1h1v114.9h-1zM525 1381.1h1v114.9h-1zM531 1381.1h1v114.9h-1zM534 1381.1h3v114.9h-3zM557 1381.1h2v114.9h-2zM562 1381.1h1v114.9h-1zM564 1381.1h2v114.9h-2zM567 1381.1h1v114.9h-1zM571 1381.1h2v114.9h-2zM575 1381.1h1v114.9h-1zM577 1381.1h1v114.9h-1zM580 1381.1h1v114.9h-1zM584 1381.1h2v114.9h-2zM596 1381.1h1v114.9h-1zM600 1381.1h1v114.9h-1zM606 1381.1h1v114.9h-1zM618 1381.1h1v114.9h-1zM620 1381.1h1v114.9h-1zM623 1381.1h2v114.9h-2zM626 1381.1h1v114.9h-1zM629 1381.1h1v114.9h-1z" fill="#d55"/>
<path d="M482 1381.1h1v114.9h-1zM485 1381.1h1v114.9h-1zM496 1381.1h1v114.9h-1zM503 1381.1h1v114.9h-1zM521 1381.1h1v114.9h-1zM527 1381.1h2v114.9h-2zM530 1381.1h1v114.9h-1zM532 1381.1h1v114.9h-1zM542 1381.1h1v114.9h-1zM546 1381.1h2v114.9h-2zM574 1381.1h1v114.9h-1zM576 1381.1h1v114.9h-1zM583 1381.1h1v114.9h-1zM594 1381.1h1v114.9h-1zM602 1381.1h2v114.9h-2zM609 1381.1h1v114.9h-1zM621 1381.1h1v114.9h-1zM628 1381.1h1v114.9h-1z" fill="#e77"/>
<path d="M483 1381.1h1v114.9h-1zM487 1381.1h2v114.9h-2zM491 1381.1h1v114.9h-1zM494 1381.1h2v114.9h-2zM507 1381.1h1v114.9h-1zM509 1381.1h1v114.9h-1zM517 1381.1h1v114.9h-1zM529 1381.1h1v114.9h-1zM533 1381.1h1v114.9h-1zM538 1381.1h1v114.9h-1zM540 1381.1h1v114.9h-1zM545 1381.1h1v114.9h-1zM552 1381.1h1v114.9h-1zM556 1381.1h1v114.9h-1zM566 1381.1h1v114.9h-1zM579 1381.1h1v114.9h-1zM581 1381.1h1v114.9h-1zM587 1381.1h1v114.9h-1zM591 1381.1h1v114.9h-1zM598 1381.1h1v114.9h-1zM601 1381.1h1v114.9h-1zM604 1381.1h1v114.9h-1zM607 1381.1h1v114.9h-1zM614 1381.1h3v114.9h-3z" fill="#d66"/>
<path d="M484 1381.1h1v114.9h-1zM489 1381.1h1v114.9h-1zM499 1381.1h1v114.9h-1zM543 1381.1h1v114.9h-1zM550 1381.1h1v114.9h-1zM568 1381.1h1v114.9h-1zM588 1381.1h2v114.9h-2zM599 1381.1h1v114.9h-1zM619 1381.1h1v114.9h-1z" fill="#d33"/>
<path d="M486 1381.1h1v114.9h-1zM493 1381.1h1v114.9h-1zM498 1381.1h1v114.9h-1zM512 1381.1h1v114.9h-1zM524 1381.1h1v114.9h-1zM526 1381.1h1v114.9h-1zM537 1381.1h1v114.9h-1zM544 1381.1h1v114.9h-1zM555 1381.1h1v114.9h-1zM559 1381.1h2v114.9h-2zM563 1381.1h1v114.9h-1zM569 1381.1h1v114.9h-1zM582 1381.1h1v114.9h-1zM597 1381.1h1v114.9h-1zM605 1381.1h1v114.9h-1zM612 1381.1h1v114.9h-1zM622 1381.1h1v114.9h-1zM627 1381.1h1v114.9h-1z" fill="#e88"/>
<path d="M492 1381.1h1v114.9h-1zM501 1381.1h2v114.9h-2zM508 1381.1h1v114.9h-1zM510 1381.1h1v114.9h-1zM516 1381.1h1v114.9h-1zM520 1381.1h1v114.9h-1zM548 1381.1h2v114.9h-2zM578 1381.1h1v114.9h-1zM610 1381.1h2v114.9h-2z" fill="#d44"/>
<path d="M522 1381.1h1v114.9h-1zM539 1381.1h1v114.9h-1zM541 1381.1h1v114.9h-1zM551 1381.1h1v114.9h-1zM554 1381.1h1v114.9h-1zM561 1381.1h1v114.9h-1zM573 1381.1h1v114.9h-1zM586 1381.1h1v114.9h-1zM592 1381.1h2v114.9h-2zM595 1381.1h1v114.9h-1zM608 1381.1h1v114.9h-1zM613 1381.1h1v114.9h-1zM617 1381.1h1v114.9h-1z" fill="#e66"/>
<path d="M553 1381.1h1v114.9h-1zM570 1381.1h1v114.9h-1zM625 1381.1h1v114.9h-1z" fill="#e99"/>
<path d="M590 1381.1h1v114.9h-1z" fill="#eaa"/>
<path d="M630 1381.1h1v114.9h-1z" fill="#a9e"/>
<path d="M631 1381.1h1v114.9h-1zM638 1381.1h2v114.9h-2zM641 1381.1h1v114.9h-1zM649 1381.1h1v114.9h-1zM667 1381.1h1v114.9h-1zM670 1381.1h3v114.9h-3zM679 1381.1h1v114.9h-1zM684 1381.1h1v114.9h-1zM692 1381.1h1v114.9h-1zM708 1381.1h1v114.9h-1zM710 1381.1h1v114.9h-1zM716 1381.1h2v114.9h-2zM731 1381.1h1v114.9h-1zM751 1381.1h1v114.9h-1zM760 1381.1h1v114.9h-1z" fill="#bbf"/>
<path d="M632 1381.1h1v114.9h-1zM635 1381.1h1v114.9h-1zM637 1381.1h1v114.9h-1zM640 1381.1h1v114.9h-1zM655 1381.1h1v114.9h-1zM662 1381.1h1v114.9h-1zM725 1381.1h1v114.9h-1zM743 1381.1h2v114.9h-2zM754 1381.1h2v114.9h-2zM759 1381.1h1v114.9h-1zM761 1381.1h1v114.9h-1z" fill="#66f"/>
<path d="M633 1381.1h1v114.9h-1zM650 1381.1h1v114.9h-1zM681 1381.1h1v114.9h-1zM690 1381.1h1v114.9h-1zM695 1381.1h1v114.9h-1zM702 1381.1h1v114.9h-1zM715 1381.1h1v114.9h-1zM723 1381.1h1v114.9h-1zM726 1381.1h1v114.9h-1zM742 1381.1h1v114.9h-1zM746 1381.1h1v114.9h-1zM753 1381.1h1v114.9h-1z" fill="#22f"/>
<path d="M634 1381.1h1v114.9h-1zM644 1381.1h1v114.9h-1zM653 1381.1h1v114.9h-1zM657 1381.1h1v114.9h-1zM668 1381.1h1v114.9h-1zM676 1381.1h1v114.9h-1zM683 1381.1h1v114.9h-1zM685 1381.1h1v114.9h-1zM687 1381.1h1v114.9h-1zM700 1381.1h1v114.9h-1zM727 1381.1h1v114.9h-1zM736 1381.1h1v114.9h-1zM741 1381.1h1v114.9h-1zM756 1381.1h1v114.9h-1zM765 1381.1h1v114.9h-1z" fill="#33f"/>
<path d="M636 1381.1h1v114.9h-1zM646 1381.1h1v114.9h-1zM651 1381.1h1v114.9h-1zM661 1381.1h1v114.9h-1zM713 1381.1h1v114.9h-1zM748 1381.1h1v114.9h-1zM758 1381.1h1v114.9h-1z" fill="#aaf"/>
<path d="M642 1381.1h1v114.9h-1z" fill="#ccf"/>
<path d="M643 1381.1h1v114.9h-1zM654 1381.1h1v114.9h-1zM663 1381.1h1v114.9h-1zM675 1381.1h1v114.9h-1zM678 1381.1h1v114.9h-1zM698 1381.1h1v114.9h-1zM714 1381.1h1v114.9h-1zM721 1381.1h1v114.9h-1zM728 1381.1h1v114.9h-1zM732 1381.1h1v114.9h-1zM739 1381.1h1v114.9h-1zM767 1381.1h2v114.9h-2z" fill="#11f"/>
<path d="M645 1381.1h1v114.9h-1z" fill="#99e"/>
<path d="M647 1381.1h1v114.9h-1zM656 1381.1h1v114.9h-1zM666 1381.1h1v114.9h-1zM693 1381.1h2v114.9h-2zM749 1381.1h1v114.9h-1z" fill="#ddf"/>
<path d="M648 1381.1h1v114.9h-1zM660 1381.1h1v114.9h-1zM703 1381.1h3v114.9h-3zM712 1381.1h1v114.9h-1zM737 1381.1h2v114.9h-2zM764 1381.1h1v114.9h-1z" fill="#55f"/>
<path d="M652 1381.1h1v114.9h-1zM659 1381.1h1v114.9h-1zM665 1381.1h1v114.9h-1zM686 1381.1h1v114.9h-1zM696 1381.1h1v114.9h-1zM730 1381.1h1v114.9h-1zM733 1381.1h1v114.9h-1zM740 1381.1h1v114.9h-1zM747 1381.1h1v114.9h-1zM762 1381.1h1v114.9h-1z" fill="#eef"/>
<path d="M658 1381.1h1v114.9h-1zM664 1381.1h1v114.9h-1zM674 1381.1h1v114.9h-1zM680 1381.1h1v114.9h-1zM682 1381.1h1v114.9h-1zM701 1381.1h1v114.9h-1zM706 1381.1h2v114.9h-2zM711 1381.1h1v114.9h-1zM722 1381.1h1v114.9h-1zM729 1381.1h1v114.9h-1zM752 1381.1h1v114.9h-1zM757 1381.1h1v114.9h-1zM763 1381.1h1v114.9h-1zM766 1381.1h1v114.9h-1z" fill="#77f"/>
<path d="M669 1381.1h1v114.9h-1zM689 1381.1h1v114.9h-1zM718 1381.1h2v114.9h-2z" fill="#88f"/>
<path d="M673 1381.1h1v114.9h-1zM734 1381.1h1v114.9h-1zM750 1381.1h1v114.9h-1z" fill="#44f"/>
<path d="M677 1381.1h1v114.9h-1z" fill="#87e"/>
<path d="M688 1381.1h1v114.9h-1zM691 1381.1h1v114.9h-1zM699 1381.1h1v114.9h-1zM724 1381.1h1v114.9h-1zM735 1381.1h1v114.9h-1z" fill="#99f"/>
<path d="M697 1381.1h1v114.9h-1z" fill="#97d"/>
<path d="M709 1381.1h1v114.9h-1z" fill="#98d"/>
<path d="M720 1381.1h1v114.9h-1z" fill="#fdd"/>
<path d="M745 1381.1h1v114.9h-1z" fill="#ede"/>
<path d="M481 1496h1v114h-1zM487 1496h1v114h-1zM638 1496h1v114h-1zM642 1496h1v114h-1zM680 1496h1v114h-1zM683 1496h1v114h-1zM739 1496h1v114h-1z" fill="#d44"/>
<path d="M482 1496h1v114h-1zM695 1496h1v114h-1zM763 1496h1v114h-1z" fill="#74c"/>
<path d="M483 1496h1v114h-1zM704 1496h1v114h-1z" fill="#84b"/>
<path d="M484 1496h1v114h-1zM643 1496h1v114h-1zM719 1496h1v114h-1z" fill="#d89"/>
<path d="M485 1496h1v114h-1zM554 1496h1v114h-1z" fill="#bae"/>
<path d="M486 1496h1v114h-1zM490 1496h1v114h-1zM596 1496h1v114h-1zM652 1496h1v114h-1zM692 1496h1v114h-1zM766 1496h1v114h-1z" fill="#99f"/>
<path d="M488 1496h1v114h-1z" fill="#ddf"/>
<path d="M489 1496h1v114h-1zM581 1496h1v114h-1zM600 1496h1v114h-1zM646 1496h1v114h-1zM650 1496h1v114h-1zM664 1496h1v114h-1zM717 1496h1v114h-1zM738 1496h1v114h-1zM760 1496h1v114h-1zM768 1496h1v114h-1z" fill="#ebb"/>
<path d="M491 1496h1v114h-1zM514 1496h1v114h-1z" fill="#73a"/>
<path d="M492 1496h1v114h-1zM577 1496h1v114h-1zM582 1496h1v114h-1zM608 1496h1v114h-1zM613 1496h1v114h-1zM617 1496h2v114h-2zM644 1496h1v114h-1zM723 1496h1v114h-1z" fill="#aaf"/>
<path d="M493 1496h1v114h-1z" fill="#dac"/>
<path d="M494 1496h1v114h-1zM500 1496h1v114h-1zM598 1496h1v114h-1zM669 1496h1v114h-1zM685 1496h1v114h-1zM749 1496h1v114h-1z" fill="#e77"/>
<path d="M495 1496h1v114h-1zM525 1496h1v114h-1zM550 1496h1v114h-1zM599 1496h1v114h-1zM657 1496h1v114h-1zM732 1496h1v114h-1z" fill="#33f"/>
<path d="M496 1496h1v114h-1zM609 1496h1v114h-1z" fill="#a8c"/>
<path d="M497 1496h1v114h-1zM660 1496h1v114h-1z" fill="#c79"/>
<path d="M498 1496h1v114h-1zM507 1496h1v114h-1zM528 1496h1v114h-1zM604 1496h1v114h-1zM610 1496h1v114h-1zM639 1496h1v114h-1zM656 1496h1v114h-1zM765 1496h1v114h-1z" fill="#66f"/>
<path d="M499 1496h1v114h-1zM635 1496h1v114h-1z" fill="#b7b"/>
<path d="M501 1496h1v114h-1zM767 1496h1v114h-1z" fill="#fdd"/>
<path d="M502 1496h1v114h-1z" fill="#ebc"/>
<path d="M503 1496h1v114h-1zM747 1496h1v114h-1z" fill="#d33"/>
<path d="M504 1496h1v114h-1zM532 1496h1v114h-1zM574 1496h1v114h-1zM576 1496h1v114h-1zM603 1496h1v114h-1zM619 1496h1v114h-1zM629 1496h1v114h-1zM636 1496h1v114h-1zM651 1496h1v114h-1zM671 1496h1v114h-1zM682 1496h1v114h-1zM708 1496h1v114h-1zM711 1496h1v114h-1zM756 1496h1v114h-1z" fill="#e99"/>
<path d="M505 1496h1v114h-1zM516 1496h1v114h-1zM555 1496h1v114h-1zM690 1496h1v114h-1z" fill="#949"/>
<path d="M506 1496h1v114h-1zM754 1496h1v114h-1z" fill="#97c"/>
<path d="M508 1496h1v114h-1zM673 1496h1v114h-1zM740 1496h1v114h-1z" fill="#ccf"/>
<path d="M509 1496h1v114h-1z" fill="#b58"/>
<path d="M510 1496h2v114h-2zM586 1496h1v114h-1zM605 1496h1v114h-1zM623 1496h1v114h-1zM625 1496h1v114h-1zM632 1496h1v114h-1zM666 1496h1v114h-1zM752 1496h1v114h-1z" fill="#88f"/>
<path d="M512 1496h1v114h-1zM519 1496h1v114h-1zM676 1496h1v114h-1z" fill="#11f"/>
<path d="M513 1496h1v114h-1zM517 1496h1v114h-1zM524 1496h1v114h-1z" fill="#a6b"/>
<path d="M515 1496h1v114h-1z" fill="#e66"/>
<path d="M518 1496h1v114h-1zM522 1496h1v114h-1zM535 1496h1v114h-1zM538 1496h1v114h-1zM552 1496h1v114h-1zM588 1496h1v114h-1zM628 1496h1v114h-1zM649 1496h1v114h-1zM710 1496h1v114h-1z" fill="#55f"/>
<path d="M520 1496h1v114h-1zM540 1496h1v114h-1zM674 1496h1v114h-1z" fill="#75c"/>
<path d="M521 1496h1v114h-1z" fill="#83a"/>
<path d="M523 1496h1v114h-1zM539 1496h1v114h-1zM590 1496h1v114h-1zM713 1496h1v114h-1zM759 1496h1v114h-1z" fill="#87e"/>
<path d="M526 1496h1v114h-1zM545 1496h1v114h-1zM687 1496h1v114h-1zM737 1496h1v114h-1zM750 1496h1v114h-1z" fill="#d66"/>
<path d="M527 1496h1v114h-1z" fill="#b8c"/>
<path d="M529 1496h1v114h-1zM556 1496h1v114h-1zM583 1496h1v114h-1zM587 1496h1v114h-1zM753 1496h1v114h-1z" fill="#44f"/>
<path d="M530 1496h1v114h-1z" fill="#cac"/>
<path d="M531 1496h1v114h-1zM580 1496h1v114h-1zM668 1496h1v114h-1zM698 1496h1v114h-1zM728 1496h1v114h-1zM758 1496h1v114h-1z" fill="#eaa"/>
<path d="M533 1496h1v114h-1zM558 1496h1v114h-1zM620 1496h1v114h-1zM655 1496h1v114h-1zM712 1496h1v114h-1z" fill="#22f"/>
<path d="M534 1496h1v114h-1zM631 1496h1v114h-1zM658 1496h1v114h-1zM665 1496h1v114h-1zM725 1496h1v114h-1zM727 1496h1v114h-1z" fill="#729"/>
<path d="M536 1496h1v114h-1z" fill="#85b"/>
<path d="M537 1496h1v114h-1zM578 1496h1v114h-1zM594 1496h1v114h-1zM670 1496h1v114h-1zM709 1496h1v114h-1zM761 1496h1v114h-1z" fill="#77f"/>
<path d="M541 1496h1v114h-1z" fill="#dab"/>
<path d="M542 1496h1v114h-1zM706 1496h1v114h-1z" fill="#839"/>
<path d="M543 1496h1v114h-1zM591 1496h1v114h-1zM648 1496h1v114h-1zM707 1496h1v114h-1z" fill="#cbe"/>
<path d="M544 1496h1v114h-1zM634 1496h1v114h-1z" fill="#d67"/>
<path d="M546 1496h1v114h-1z" fill="#85c"/>
<path d="M547 1496h1v114h-1zM568 1496h1v114h-1zM726 1496h1v114h-1z" fill="#bbe"/>
<path d="M548 1496h1v114h-1zM731 1496h1v114h-1z" fill="#53c"/>
<path d="M549 1496h1v114h-1z" fill="#a7b"/>
<path d="M551 1496h1v114h-1zM630 1496h1v114h-1z" fill="#a9d"/>
<path d="M553 1496h1v114h-1zM622 1496h1v114h-1z" fill="#ede"/>
<path d="M557 1496h1v114h-1zM563 1496h1v114h-1zM597 1496h1v114h-1zM745 1496h1v114h-1z" fill="#96c"/>
<path d="M559 1496h1v114h-1zM612 1496h1v114h-1z" fill="#99e"/>
<path d="M560 1496h1v114h-1z" fill="#64c"/>
<path d="M561 1496h1v114h-1zM741 1496h1v114h-1zM755 1496h1v114h-1zM757 1496h1v114h-1z" fill="#96b"/>
<path d="M562 1496h1v114h-1z" fill="#86e"/>
<path d="M564 1496h1v114h-1zM718 1496h1v114h-1z" fill="#eef"/>
<path d="M565 1496h1v114h-1z" fill="#b7a"/>
<path d="M566 1496h1v114h-1zM729 1496h1v114h-1z" fill="#c8a"/>
<path d="M567 1496h1v114h-1zM595 1496h1v114h-1zM602 1496h1v114h-1zM633 1496h1v114h-1zM647 1496h1v114h-1zM659 1496h1v114h-1zM672 1496h1v114h-1zM679 1496h1v114h-1zM689 1496h1v114h-1zM702 1496h1v114h-1zM744 1496h1v114h-1zM748 1496h1v114h-1z" fill="#e88"/>
<path d="M569 1496h1v114h-1zM694 1496h1v114h-1zM733 1496h1v114h-1zM751 1496h1v114h-1z" fill="#b8b"/>
<path d="M570 1496h1v114h-1zM611 1496h1v114h-1zM614 1496h1v114h-1zM653 1496h1v114h-1z" fill="#cad"/>
<path d="M571 1496h1v114h-1zM616 1496h1v114h-1z" fill="#95b"/>
<path d="M572 1496h1v114h-1zM686 1496h1v114h-1z" fill="#c9b"/>
<path d="M573 1496h1v114h-1zM764 1496h1v114h-1z" fill="#b69"/>
<path d="M575 1496h1v114h-1zM579 1496h1v114h-1zM714 1496h1v114h-1z" fill="#86d"/>
<path d="M584 1496h1v114h-1z" fill="#52c"/>
<path d="M585 1496h1v114h-1zM615 1496h1v114h-1zM621 1496h1v114h-1zM661 1496h1v114h-1z" fill="#fee"/>
<path d="M589 1496h1v114h-1zM742 1496h1v114h-1zM762 1496h1v114h-1z" fill="#95a"/>
<path d="M592 1496h1v114h-1z" fill="#86c"/>
<path d="M593 1496h1v114h-1zM640 1496h1v114h-1z" fill="#74b"/>
<path d="M601 1496h1v114h-1zM703 1496h1v114h-1zM724 1496h1v114h-1z" fill="#a7c"/>
<path d="M606 1496h1v114h-1zM654 1496h1v114h-1zM691 1496h1v114h-1z" fill="#97d"/>
<path d="M607 1496h1v114h-1z" fill="#a48"/>
<path d="M624 1496h1v114h-1z" fill="#73b"/>
<path d="M626 1496h1v114h-1zM696 1496h1v114h-1zM722 1496h1v114h-1z" fill="#98d"/>
<path d="M627 1496h1v114h-1zM645 1496h1v114h-1z" fill="#a59"/>
<path d="M637 1496h1v114h-1zM641 1496h1v114h-1zM693 1496h1v114h-1zM716 1496h1v114h-1z" fill="#a8d"/>
<path d="M662 1496h1v114h-1zM684 1496h1v114h-1z" fill="#d55"/>
<path d="M663 1496h1v114h-1z" fill="#ecd"/>
<path d="M667 1496h1v114h-1z" fill="#87f"/>
<path d="M675 1496h1v114h-1z" fill="#96a"/>
<path d="M677 1496h1v114h-1z" fill="#75d"/>
<path d="M678 1496h1v114h-1z" fill="#b79"/>
<path d="M681 1496h1v114h-1z" fill="#88e"/>
<path d="M688 1496h1v114h-1z" fill="#927"/>
<path d="M697 1496h1v114h-1z" fill="#ecc"/>
<path d="M699 1496h1v114h-1z" fill="#d78"/>
<path d="M700 1496h1v114h-1z" fill="#a9e"/>
<path d="M701 1496h1v114h-1zM705 1496h1v114h-1z" fill="#fcc"/>
<path d="M715 1496h1v114h-1z" fill="#c57"/>
<path d="M720 1496h1v114h-1z" fill="#bbf"/>
<path d="M721 1496h1v114h-1z" fill="#c8b"/>
<path d="M730 1496h1v114h-1z" fill="#54e"/>
<path d="M734 1496h1v114h-1z" fill="#a5a"/>
<path d="M735 1496h1v114h-1z" fill="#ece"/>
<path d="M736 1496h1v114h-1z" fill="#959"/>
<path d="M743 1496h1v114h-1z" fill="#dcd"/>
<path d="M746 1496h1v114h-1z" fill="#98e"/>
<clipPath id="lc"><rect x="770" y="1280" width="92" height="110"/></clipPath><g font-size="5.1" font-weight="bold" fill="#111" clip-path="url(#lc)">
<text x="771.5" y="1291.3">Child.Pugh.Classification.Grade</text>
<text x="771.5" y="1298">Adjacent.Hepatic.Tissue.Inflammation</text>
<text x="771.5" y="1304.7">N</text>
<text x="771.5" y="1311.5">M</text>
<text x="771.5" y="1318.2">T***</text>
<text x="771.5" y="1324.9">Stage**</text>
<text x="771.5" y="1331.6">Grade</text>
<text x="771.5" y="1338.3">Tumor.Status</text>
<text x="771.5" y="1345.1">BMI</text>
<text x="771.5" y="1351.8">Family_Cancer_History</text>
<text x="771.5" y="1358.5">Gender</text>
<text x="771.5" y="1365.2">Age</text>
<text x="771.5" y="1371.9">crgCluster***</text>
<text x="771.5" y="1378.7">geneCluster</text>
</g>
<text x="775.2" y="1449.8" font-size="13.3">CDKN2A</text>
<text x="778" y="1567.7" font-size="13.3">GLS</text>
<defs><linearGradient id="hb" x1="0" y1="0" x2="0" y2="1"><stop offset="0" stop-color="#e00808"/><stop offset="0.38" stop-color="#e31010"/><stop offset="0.495" stop-color="#fff"/><stop offset="0.56" stop-color="#2828ff"/><stop offset="1" stop-color="#0505ff"/></linearGradient></defs>
<rect x="877.2" y="1285.3" width="5" height="80.9" fill="url(#hb)"/>
<g font-size="2.6" fill="#333">
<text x="884.5" y="1289.4">6</text>
<text x="884.5" y="1301.7">4</text>
<text x="884.5" y="1314.1">2</text>
<text x="884.5" y="1326.4">0</text>
<text x="884.5" y="1338.7">-2</text>
<text x="884.5" y="1351.6">-4</text>
<text x="884.5" y="1363.7">-6</text>
</g>
<rect x="888.7" y="1288.7" width="4.4" height="4.7" fill="#5fafb5"/><rect x="888.7" y="1293.3" width="4.4" height="4.7" fill="#9060e0"/><rect x="888.7" y="1298" width="4.4" height="4.7" fill="#80f0f0"/><rect x="888.7" y="1302.6" width="4.4" height="4.7" fill="#c8c8c8"/><rect x="888.7" y="1314.6" width="4.4" height="4.7" fill="#c020c0"/><rect x="888.7" y="1319.2" width="4.4" height="4.7" fill="#d040d0"/><rect x="888.7" y="1323.9" width="4.4" height="4.7" fill="#50a020"/><rect x="888.7" y="1328.5" width="4.4" height="4.7" fill="#c8c8c8"/><rect x="888.7" y="1340.2" width="4.4" height="4.7" fill="#6a9020"/><rect x="888.7" y="1344.8" width="4.4" height="4.7" fill="#7040c0"/><rect x="888.7" y="1349.5" width="4.4" height="4.7" fill="#c8c8c8"/><rect x="888.7" y="1360.6" width="4.4" height="4.7" fill="#407878"/><rect x="888.7" y="1365.2" width="4.4" height="4.7" fill="#202080"/><rect x="888.7" y="1369.9" width="4.4" height="4.7" fill="#c8c8c8"/><rect x="888.7" y="1381.5" width="4.4" height="4.7" fill="#801830"/><rect x="888.7" y="1386.1" width="4.4" height="4.7" fill="#e05040"/><rect x="888.7" y="1390.8" width="4.4" height="4.7" fill="#e8d060"/><rect x="888.7" y="1395.4" width="4.4" height="4.7" fill="#5030e0"/><rect x="888.7" y="1400" width="4.4" height="4.7" fill="#c8c8c8"/><rect x="888.7" y="1412.2" width="4.4" height="4.7" fill="#a8e040"/><rect x="888.7" y="1416.8" width="4.4" height="4.7" fill="#d07030"/><rect x="888.7" y="1421.5" width="4.4" height="4.7" fill="#8050b0"/><rect x="888.7" y="1426.1" width="4.4" height="4.7" fill="#d0b820"/><rect x="888.7" y="1430.8" width="4.4" height="4.7" fill="#c8c8c8"/><rect x="888.7" y="1442.5" width="4.4" height="4.7" fill="#f0a070"/><rect x="888.7" y="1447.1" width="4.4" height="4.7" fill="#305080"/><rect x="888.7" y="1451.8" width="4.4" height="4.7" fill="#c05090"/><rect x="888.7" y="1456.4" width="4.4" height="4.7" fill="#90f080"/><rect x="888.7" y="1461" width="4.4" height="4.7" fill="#c8c8c8"/><rect x="888.7" y="1472.8" width="4.4" height="4.7" fill="#2020c0"/><rect x="888.7" y="1477.4" width="4.4" height="4.7" fill="#c8c8c8"/><rect x="888.7" y="1482.1" width="4.4" height="4.7" fill="#8040f0"/><rect x="888.7" y="1493.7" width="4.4" height="4.7" fill="#a8d040"/><rect x="888.7" y="1498.3" width="4.4" height="4.7" fill="#e030c0"/><rect x="888.7" y="1503" width="4.4" height="4.7" fill="#d06850"/><rect x="888.7" y="1507.6" width="4.4" height="4.7" fill="#509090"/><rect x="888.7" y="1512.2" width="4.4" height="4.7" fill="#e8d040"/><rect x="888.7" y="1516.9" width="4.4" height="4.7" fill="#c8c8c8"/><rect x="888.7" y="1528.5" width="4.4" height="4.7" fill="#b0e050"/><rect x="888.7" y="1533.1" width="4.4" height="4.7" fill="#c8c8c8"/><rect x="888.7" y="1537.8" width="4.4" height="4.7" fill="#3030c0"/><rect x="888.7" y="1549.5" width="4.4" height="4.7" fill="#80d860"/><rect x="888.7" y="1554.1" width="4.4" height="4.7" fill="#f0a868"/><rect x="888.7" y="1566" width="4.4" height="4.7" fill="#c89020"/><rect x="888.7" y="1570.6" width="4.4" height="4.7" fill="#c860e0"/><rect x="888.7" y="1582.2" width="4.4" height="4.7" fill="#e010a0"/><rect x="888.7" y="1586.8" width="4.4" height="4.7" fill="#60b830"/><rect x="888.7" y="1591.5" width="4.4" height="4.7" fill="#406898"/><rect x="888.7" y="1603.2" width="4.4" height="4.7" fill="#3060ff"/><rect x="888.7" y="1607.8" width="4.4" height="4.7" fill="#e00000"/>
<g font-size="3.2" font-weight="bold" fill="#222"><text x="888.7" y="1287.3">Child.Pugh.Classification.Grade</text><text x="888.7" y="1313.2">Adjacent.Hepatic.Tissue.Inflammation</text><text x="888.7" y="1338.8">N</text><text x="888.7" y="1359.2">M</text><text x="888.7" y="1380.1">T***</text><text x="888.7" y="1410.8">Stage**</text><text x="888.7" y="1441.1">Grade</text><text x="888.7" y="1471.4">Tumor.Status</text><text x="888.7" y="1492.3">BMI</text><text x="888.7" y="1527.1">Family_Cancer_History</text><text x="888.7" y="1548.1">Gender</text><text x="888.7" y="1564.6">Age</text><text x="888.7" y="1580.8">crgCluster***</text><text x="888.7" y="1601.8">geneCluster</text></g>
<g font-size="3.1" fill="#444"><text x="894.3" y="1292.1">A</text><text x="894.3" y="1296.8">B</text><text x="894.3" y="1301.4">C</text><text x="894.3" y="1306">unknow</text><text x="894.3" y="1318">Mild</text><text x="894.3" y="1322.7">None</text><text x="894.3" y="1327.3">Severe</text><text x="894.3" y="1332">unknow</text><text x="894.3" y="1343.6">N0</text><text x="894.3" y="1348.2">N1</text><text x="894.3" y="1352.9">unknow</text><text x="894.3" y="1364">M0</text><text x="894.3" y="1368.7">M1</text><text x="894.3" y="1373.3">unknow</text><text x="894.3" y="1384.9">T1</text><text x="894.3" y="1389.5">T2</text><text x="894.3" y="1394.2">T3</text><text x="894.3" y="1398.8">T4</text><text x="894.3" y="1403.5">unknow</text><text x="894.3" y="1415.6">Stage I</text><text x="894.3" y="1420.2">Stage II</text><text x="894.3" y="1424.9">Stage III</text><text x="894.3" y="1429.5">Stage IV</text><text x="894.3" y="1434.2">unknow</text><text x="894.3" y="1445.9">G1</text><text x="894.3" y="1450.5">G2</text><text x="894.3" y="1455.2">G3</text><text x="894.3" y="1459.8">G4</text><text x="894.3" y="1464.5">unknow</text><text x="894.3" y="1476.2">TUMOR FREE</text><text x="894.3" y="1480.9">unknow</text><text x="894.3" y="1485.5">WITH TUMOR</text><text x="894.3" y="1497.1">&lt;18.5</text><text x="894.3" y="1501.8">&gt;32</text><text x="894.3" y="1506.4">18.5~24</text><text x="894.3" y="1511">24~28</text><text x="894.3" y="1515.7">28~32</text><text x="894.3" y="1520.3">unknow</text><text x="894.3" y="1531.9">NO</text><text x="894.3" y="1536.5">unknow</text><text x="894.3" y="1541.2">YES</text><text x="894.3" y="1552.9">FEMALE</text><text x="894.3" y="1557.5">MALE</text><text x="894.3" y="1569.4">&lt;65</text><text x="894.3" y="1574">&gt;=65</text><text x="894.3" y="1585.6">A</text><text x="894.3" y="1590.2">B</text><text x="894.3" y="1594.9">C</text><text x="894.3" y="1606.6">C1</text><text x="894.3" y="1611.2">C2</text></g></g>
<g id="panel_h"><g stroke="#111" stroke-width="1" fill="none">
<path d="M54.5 1648.2V1886.1H623.7"/>
<path d="M51.7 1874.7h2.8"/>
<path d="M51.7 1813.5h2.8"/>
<path d="M51.7 1752.3h2.8"/>
<path d="M51.7 1691.1h2.8"/>
<path d="M101.6 1886.1v2.8"/>
<path d="M180.8 1886.1v2.8"/>
<path d="M259.9 1886.1v2.8"/>
<path d="M339.1 1886.1v2.8"/>
<path d="M418.2 1886.1v2.8"/>
<path d="M497.4 1886.1v2.8"/>
<path d="M576.5 1886.1v2.8"/>
</g>
<g font-size="8" fill="#111" text-anchor="end">
<text x="50" y="1877.6">0</text>
<text x="50" y="1816.4">2</text>
<text x="50" y="1755.2">4</text>
<text x="50" y="1694">6</text>
</g>
<text x="42" y="1766.3" font-size="8.2" text-anchor="middle" transform="rotate(-90 42 1766.3)">Gene expression</text>
<g font-size="8" fill="#111" text-anchor="end">
<text x="104.1" y="1893.5" transform="rotate(-60 104.1 1893.5)">FDX1</text>
<text x="183.2" y="1893.5" transform="rotate(-60 183.2 1893.5)">LIPT1</text>
<text x="262.4" y="1893.5" transform="rotate(-60 262.4 1893.5)">DLAT</text>
<text x="341.6" y="1893.5" transform="rotate(-60 341.6 1893.5)">PDHB</text>
<text x="420.7" y="1893.5" transform="rotate(-60 420.7 1893.5)">MTF1</text>
<text x="499.9" y="1893.5" transform="rotate(-60 499.9 1893.5)">GLS</text>
<text x="579" y="1893.5" transform="rotate(-60 579 1893.5)">CDKN2A</text>
</g>
<g font-size="7.5" font-weight="bold" fill="#111" text-anchor="middle">
<text x="101.6" y="1657">***</text>
<text x="180.8" y="1657">*</text>
<text x="259.9" y="1657">***</text>
<text x="339.1" y="1657">**</text>
<text x="418.2" y="1657">***</text>
<text x="497.4" y="1657">*</text>
<text x="576.5" y="1657">***</text>
</g>
<path d="M85.8 1690.5V1726.3M85.8 1751.1V1787.8" stroke="#cc1c1c" stroke-width="1" fill="none"/>
<rect x="65.9" y="1726.3" width="39.8" height="24.8" fill="#fff" stroke="#cc1c1c" stroke-width="1"/>
<path d="M65.9 1739.4h39.8" stroke="#cc1c1c" stroke-width="1.9"/>
<circle cx="85.8" cy="1686.5" r="1.9" fill="#cc1c1c"/>
<circle cx="85.8" cy="1793" r="1.9" fill="#cc1c1c"/>
<circle cx="85.8" cy="1797.3" r="1.9" fill="#cc1c1c"/>
<path d="M117.5 1689.9V1717.1M117.5 1749.2V1789" stroke="#2e6cf6" stroke-width="1" fill="none"/>
<rect x="97.6" y="1717.1" width="39.8" height="32.1" fill="#fff" stroke="#2e6cf6" stroke-width="1"/>
<path d="M97.6 1731.2h39.8" stroke="#2e6cf6" stroke-width="1.9"/>
<circle cx="117.5" cy="1661.7" r="1.9" fill="#2e6cf6"/>
<path d="M164.9 1765.5V1791.2M164.9 1812.6V1834" stroke="#cc1c1c" stroke-width="1" fill="none"/>
<rect x="145" y="1791.2" width="39.8" height="21.4" fill="#fff" stroke="#cc1c1c" stroke-width="1"/>
<path d="M145 1802.2h39.8" stroke="#cc1c1c" stroke-width="1.9"/>
<circle cx="164.9" cy="1754.1" r="1.9" fill="#cc1c1c"/>
<path d="M196.7 1777.7V1797M196.7 1812.3V1835.2" stroke="#2e6cf6" stroke-width="1" fill="none"/>
<rect x="176.8" y="1797" width="39.8" height="15.3" fill="#fff" stroke="#2e6cf6" stroke-width="1"/>
<path d="M176.8 1805.2h39.8" stroke="#2e6cf6" stroke-width="1.9"/>
<circle cx="196.7" cy="1743.4" r="1.9" fill="#2e6cf6"/>
<circle cx="196.7" cy="1768.5" r="1.9" fill="#2e6cf6"/>
<circle cx="196.7" cy="1770.7" r="1.9" fill="#2e6cf6"/>
<circle cx="196.7" cy="1772.8" r="1.9" fill="#2e6cf6"/>
<circle cx="196.7" cy="1840.1" r="1.9" fill="#2e6cf6"/>
<circle cx="196.7" cy="1842.3" r="1.9" fill="#2e6cf6"/>
<path d="M244.1 1694.5V1743.4M244.1 1778V1818.4" stroke="#cc1c1c" stroke-width="1" fill="none"/>
<rect x="224.2" y="1743.4" width="39.8" height="34.6" fill="#fff" stroke="#cc1c1c" stroke-width="1"/>
<path d="M224.2 1761.8h39.8" stroke="#cc1c1c" stroke-width="1.9"/>
<circle cx="244.1" cy="1658.7" r="1.9" fill="#cc1c1c"/>
<circle cx="244.1" cy="1692.3" r="1.9" fill="#cc1c1c"/>
<path d="M275.8 1716.5V1752.3M275.8 1781.4V1820.8" stroke="#2e6cf6" stroke-width="1" fill="none"/>
<rect x="255.9" y="1752.3" width="39.8" height="29.1" fill="#fff" stroke="#2e6cf6" stroke-width="1"/>
<path d="M255.9 1769.4h39.8" stroke="#2e6cf6" stroke-width="1.9"/>
<circle cx="275.8" cy="1688.7" r="1.9" fill="#2e6cf6"/>
<circle cx="275.8" cy="1692.9" r="1.9" fill="#2e6cf6"/>
<circle cx="275.8" cy="1697.5" r="1.9" fill="#2e6cf6"/>
<circle cx="275.8" cy="1706.1" r="1.9" fill="#2e6cf6"/>
<circle cx="275.8" cy="1828.8" r="1.9" fill="#2e6cf6"/>
<path d="M323.2 1676.1V1703M323.2 1722.3V1749.5" stroke="#cc1c1c" stroke-width="1" fill="none"/>
<rect x="303.4" y="1703" width="39.8" height="19.3" fill="#fff" stroke="#cc1c1c" stroke-width="1"/>
<path d="M303.4 1712.8h39.8" stroke="#cc1c1c" stroke-width="1.9"/>
<circle cx="323.2" cy="1666.6" r="1.9" fill="#cc1c1c"/>
<circle cx="323.2" cy="1755.1" r="1.9" fill="#cc1c1c"/>
<circle cx="323.2" cy="1763" r="1.9" fill="#cc1c1c"/>
<path d="M354.9 1688V1707M354.9 1726V1748.3" stroke="#2e6cf6" stroke-width="1" fill="none"/>
<rect x="335.1" y="1707" width="39.8" height="19" fill="#fff" stroke="#2e6cf6" stroke-width="1"/>
<path d="M335.1 1715.9h39.8" stroke="#2e6cf6" stroke-width="1.9"/>
<circle cx="354.9" cy="1663.9" r="1.9" fill="#2e6cf6"/>
<circle cx="354.9" cy="1668.2" r="1.9" fill="#2e6cf6"/>
<circle cx="354.9" cy="1674.3" r="1.9" fill="#2e6cf6"/>
<circle cx="354.9" cy="1756" r="1.9" fill="#2e6cf6"/>
<circle cx="354.9" cy="1759.3" r="1.9" fill="#2e6cf6"/>
<circle cx="354.9" cy="1765.2" r="1.9" fill="#2e6cf6"/>
<path d="M402.4 1786V1812.3M402.4 1830.9V1853.3" stroke="#cc1c1c" stroke-width="1" fill="none"/>
<rect x="382.5" y="1812.3" width="39.8" height="18.7" fill="#fff" stroke="#cc1c1c" stroke-width="1"/>
<path d="M382.5 1820.8h39.8" stroke="#cc1c1c" stroke-width="1.9"/>
<circle cx="402.4" cy="1775.6" r="1.9" fill="#cc1c1c"/>
<circle cx="402.4" cy="1779.2" r="1.9" fill="#cc1c1c"/>
<circle cx="402.4" cy="1782" r="1.9" fill="#cc1c1c"/>
<circle cx="402.4" cy="1860.9" r="1.9" fill="#cc1c1c"/>
<path d="M434.1 1792.4V1818.4M434.1 1837.1V1857.3" stroke="#2e6cf6" stroke-width="1" fill="none"/>
<rect x="414.2" y="1818.4" width="39.8" height="18.7" fill="#fff" stroke="#2e6cf6" stroke-width="1"/>
<path d="M414.2 1828.5h39.8" stroke="#2e6cf6" stroke-width="1.9"/>
<circle cx="434.1" cy="1762.4" r="1.9" fill="#2e6cf6"/>
<circle cx="434.1" cy="1778" r="1.9" fill="#2e6cf6"/>
<circle cx="434.1" cy="1783.2" r="1.9" fill="#2e6cf6"/>
<path d="M481.6 1695.1V1760.9M481.6 1807.4V1860.9" stroke="#cc1c1c" stroke-width="1" fill="none"/>
<rect x="461.7" y="1760.9" width="39.8" height="46.5" fill="#fff" stroke="#cc1c1c" stroke-width="1"/>
<path d="M461.7 1780.8h39.8" stroke="#cc1c1c" stroke-width="1.9"/>
<circle cx="481.6" cy="1683.8" r="1.9" fill="#cc1c1c"/>
<circle cx="481.6" cy="1688" r="1.9" fill="#cc1c1c"/>
<path d="M513.2 1696.9V1764.8M513.2 1811.4V1868.6" stroke="#2e6cf6" stroke-width="1" fill="none"/>
<rect x="493.4" y="1764.8" width="39.8" height="46.5" fill="#fff" stroke="#2e6cf6" stroke-width="1"/>
<path d="M493.4 1788.1h39.8" stroke="#2e6cf6" stroke-width="1.9"/>
<circle cx="513.2" cy="1692.6" r="1.9" fill="#2e6cf6"/>
<path d="M560.7 1699.7V1743.1M560.7 1774.9V1796.7" stroke="#cc1c1c" stroke-width="1" fill="none"/>
<rect x="540.8" y="1743.1" width="39.8" height="31.8" fill="#fff" stroke="#cc1c1c" stroke-width="1"/>
<path d="M540.8 1759.6h39.8" stroke="#cc1c1c" stroke-width="1.9"/>
<circle cx="560.7" cy="1678.9" r="1.9" fill="#cc1c1c"/>
<circle cx="560.7" cy="1681.9" r="1.9" fill="#cc1c1c"/>
<circle cx="560.7" cy="1685" r="1.9" fill="#cc1c1c"/>
<circle cx="560.7" cy="1688" r="1.9" fill="#cc1c1c"/>
<circle cx="560.7" cy="1691.1" r="1.9" fill="#cc1c1c"/>
<circle cx="560.7" cy="1694.2" r="1.9" fill="#cc1c1c"/>
<circle cx="560.7" cy="1696.6" r="1.9" fill="#cc1c1c"/>
<path d="M592.4 1786.6V1803.7M592.4 1846.2V1875" stroke="#2e6cf6" stroke-width="1" fill="none"/>
<rect x="572.5" y="1803.7" width="39.8" height="42.5" fill="#fff" stroke="#2e6cf6" stroke-width="1"/>
<path d="M572.5 1820.5h39.8" stroke="#2e6cf6" stroke-width="1.9"/>
<text x="331.9" y="1630.4" font-size="8.2" text-anchor="end">geneCluster</text>
<path d="M342.6 1622.3v10.6" stroke="#cc1c1c" stroke-width="1"/>
<rect x="337.45000000000005" y="1623.7" width="10.3" height="7.6" fill="#fff" stroke="#cc1c1c" stroke-width="1"/>
<path d="M337.45000000000005 1627.5h10.3" stroke="#cc1c1c" stroke-width="1"/>
<text x="352.4" y="1630.2" font-size="7.3">C1</text>
<path d="M371.8 1622.3v10.6" stroke="#2e6cf6" stroke-width="1"/>
<rect x="366.65000000000003" y="1623.7" width="10.3" height="7.6" fill="#fff" stroke="#2e6cf6" stroke-width="1"/>
<path d="M366.65000000000003 1627.5h10.3" stroke="#2e6cf6" stroke-width="1"/>
<text x="381.5" y="1630.2" font-size="7.3">C2</text></g>
<g id="labels"><text x="2.6" y="32.7" font-size="42.5" font-weight="bold">A</text><text x="471.9" y="32.7" font-size="42.5" font-weight="bold">B</text><text x="2.4" y="455.5" font-size="42.5" font-weight="bold">C</text><text x="459.5" y="456" font-size="42.5" font-weight="bold">D</text><text x="2.5" y="990.4" font-size="42.5" font-weight="bold">E</text><text x="2.5" y="1313.2" font-size="42.5" font-weight="bold">F</text><text x="431.4" y="1313.4" font-size="42.5" font-weight="bold">G</text><text x="2.4" y="1668.5" font-size="42.5" font-weight="bold">H</text></g>
</svg>
</body></html>
